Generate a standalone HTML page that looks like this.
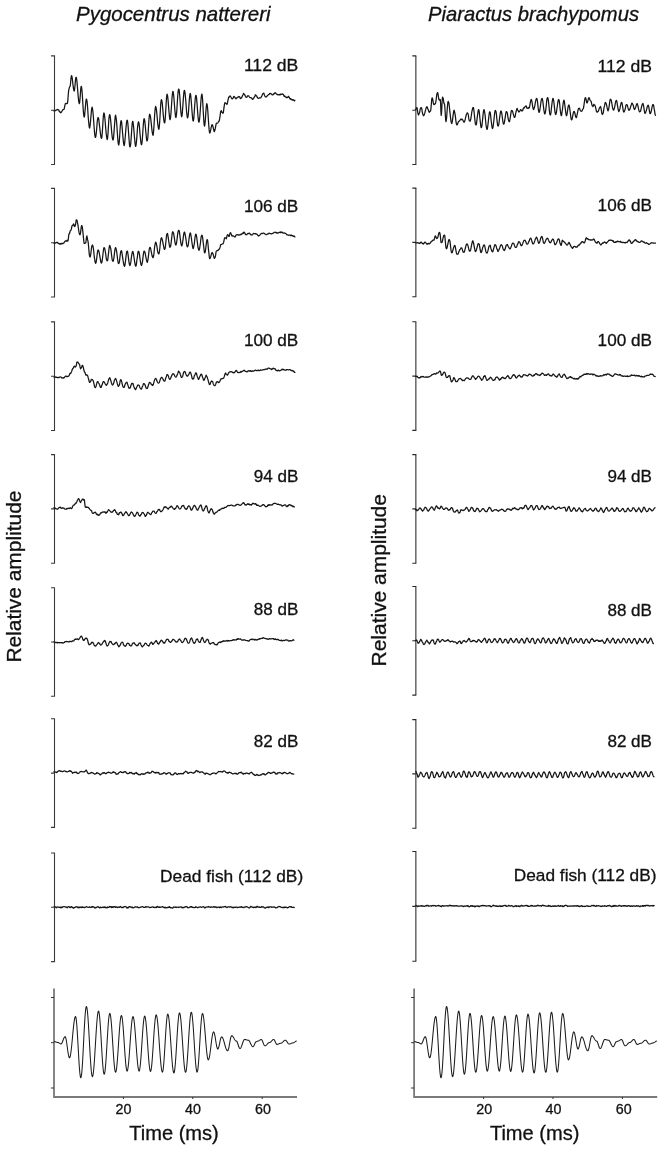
<!DOCTYPE html>
<html><head><meta charset="utf-8"><style>
html,body{margin:0;padding:0;background:#fff;}
body{width:662px;height:1150px;overflow:hidden;}
svg{display:block;}
text{font-family:"Liberation Sans",sans-serif;fill:#111;stroke:#111;stroke-width:0.3;}
svg{will-change:transform;}
.ax{fill:none;stroke:#3a3a3a;stroke-width:1.1;}
.ax2{fill:none;stroke:#7a7a7a;stroke-width:1.8;}
.tk{fill:none;stroke:#333;stroke-width:1.0;}
.axr{fill:none;stroke:#707070;stroke-width:1.6;}
.tkr{fill:none;stroke:#2a2a2a;stroke-width:1.1;}
.st{fill:none;stroke:#1c1c1c;stroke-width:1.05;stroke-linejoin:round;}
.tr{fill:none;stroke:#151515;stroke-width:1.25;stroke-linejoin:round;stroke-linecap:round;}
</style></head><body>
<svg width="662" height="1150" viewBox="0 0 662 1150">
<path d="M51.0,55.9H54.5V164.5H51.0M51.0,110.2H54.5" class="ax"/>
<path d="M51.0,188.4H54.5V297.0H51.0M51.0,242.7H54.5" class="ax"/>
<path d="M51.0,321.9H54.5V430.5H51.0M51.0,376.2H54.5" class="ax"/>
<path d="M51.0,454.6H54.5V563.2H51.0M51.0,508.9H54.5" class="ax"/>
<path d="M51.0,587.7H54.5V696.3H51.0M51.0,642.0H54.5" class="ax"/>
<path d="M51.0,718.8H54.5V827.4H51.0M51.0,773.1H54.5" class="ax"/>
<path d="M51.0,853.0H54.5V961.6H51.0M51.0,907.3H54.5" class="ax"/>
<path d="M415.8,55.9V164.5" class="axr"/>
<path d="M412.3,55.9H416.3M412.3,164.5H416.3M412.3,110.2H415.8" class="tkr"/>
<path d="M415.8,188.1V296.7" class="axr"/>
<path d="M412.3,188.1H416.3M412.3,296.7H416.3M412.3,242.4H415.8" class="tkr"/>
<path d="M415.8,321.8V430.4" class="axr"/>
<path d="M412.3,321.8H416.3M412.3,430.4H416.3M412.3,376.1H415.8" class="tkr"/>
<path d="M415.8,454.6V563.2" class="axr"/>
<path d="M412.3,454.6H416.3M412.3,563.2H416.3M412.3,508.9H415.8" class="tkr"/>
<path d="M415.8,586.5V695.1" class="axr"/>
<path d="M412.3,586.5H416.3M412.3,695.1H416.3M412.3,640.8H415.8" class="tkr"/>
<path d="M415.8,719.6V828.2" class="axr"/>
<path d="M412.3,719.6H416.3M412.3,828.2H416.3M412.3,773.9H415.8" class="tkr"/>
<path d="M415.8,851.5V961.3" class="axr"/>
<path d="M412.3,851.5H416.3M412.3,961.3H416.3M412.3,906.4H415.8" class="tkr"/>
<path d="M54.0,988.4V1097H297.0" class="ax2"/>
<path d="M51.0,997.5H54.0" class="tk"/>
<path d="M51.0,1042.7H54.0" class="tk"/>
<path d="M51.0,1088H54.0" class="tk"/>
<path d="M123.4,1097V1099" class="tk"/>
<path d="M192.8,1097V1099" class="tk"/>
<path d="M262.2,1097V1099" class="tk"/>
<path d="M414.1,988.4V1097H657.2" class="ax2"/>
<path d="M411.1,997.5H414.1" class="tk"/>
<path d="M411.1,1042.7H414.1" class="tk"/>
<path d="M411.1,1088H414.1" class="tk"/>
<path d="M483.6,1097V1099" class="tk"/>
<path d="M553.0,1097V1099" class="tk"/>
<path d="M622.4,1097V1099" class="tk"/>
<path d="M54.00,110.86 54.33,110.84 54.65,111.00 54.98,110.89 55.31,110.55 55.64,110.38 55.96,110.15 56.29,109.98 56.62,109.95 56.95,109.83 57.27,109.49 57.60,109.46 57.93,109.63 58.27,109.89 58.60,109.81 58.93,110.28 59.27,111.46 59.60,111.93 59.93,111.82 60.27,112.07 60.60,112.78 60.94,112.70 61.29,112.22 61.63,111.86 61.98,111.11 62.32,110.64 62.67,110.04 63.01,109.68 63.36,109.56 63.70,109.48 64.00,109.43 64.30,108.37 64.60,106.98 64.90,105.53 65.20,103.94 65.50,103.55 65.80,103.48 66.10,103.39 66.40,103.67 66.70,103.55 67.00,103.51 67.30,103.47 67.60,102.31 67.90,99.60 68.20,95.75 68.50,92.05 68.80,89.68 69.10,88.69 69.40,87.68 69.70,86.73 70.00,86.52 70.30,85.43 70.60,82.73 70.90,79.20 71.20,76.80 71.50,75.71 71.84,76.04 72.17,77.77 72.51,80.58 72.85,83.65 73.19,86.34 73.53,88.93 73.86,90.45 74.20,91.06 74.50,90.12 74.80,87.52 75.10,84.61 75.40,81.06 75.70,78.24 76.00,77.28 76.34,77.58 76.68,79.47 77.02,82.15 77.36,85.86 77.70,90.40 78.04,94.51 78.38,98.37 78.72,101.32 79.06,102.98 79.40,103.63 79.70,102.30 80.00,99.08 80.30,95.05 80.60,90.65 80.90,87.66 81.20,86.48 81.53,86.79 81.87,89.47 82.20,93.41 82.53,98.45 82.87,104.09 83.20,109.13 83.53,113.31 83.87,116.00 84.20,117.16 84.51,116.26 84.83,113.30 85.14,109.65 85.46,106.14 85.77,102.49 86.09,99.92 86.40,99.02 86.72,99.51 87.04,101.57 87.36,104.51 87.68,108.55 88.00,113.72 88.32,118.20 88.64,121.65 88.96,124.86 89.28,127.38 89.60,128.09 89.91,126.78 90.22,124.56 90.54,121.22 90.85,117.30 91.16,113.86 91.47,110.54 91.79,107.90 92.10,107.12 92.43,108.45 92.76,110.59 93.09,113.52 93.42,117.73 93.75,122.12 94.08,126.78 94.41,131.03 94.74,134.37 95.07,136.69 95.40,137.43 95.74,136.89 96.08,134.73 96.41,131.76 96.75,127.95 97.09,123.42 97.42,120.20 97.76,118.26 98.10,117.50 98.44,117.86 98.78,119.36 99.12,122.38 99.46,125.32 99.80,127.83 100.14,131.09 100.48,133.95 100.82,136.28 101.16,137.79 101.50,138.30 101.84,137.32 102.19,133.71 102.53,128.95 102.87,123.17 103.21,117.94 103.56,114.33 103.90,112.91 104.23,113.56 104.56,115.69 104.89,118.63 105.22,122.28 105.55,126.39 105.88,129.96 106.21,133.66 106.54,136.48 106.87,138.37 107.20,139.69 107.54,138.46 107.89,134.85 108.23,129.88 108.57,123.72 108.91,118.75 109.26,115.88 109.60,114.65 109.94,115.03 110.28,116.87 110.62,119.75 110.96,123.37 111.30,127.35 111.64,131.37 111.98,134.84 112.32,137.72 112.66,139.42 113.00,140.05 113.33,139.35 113.65,136.64 113.97,132.65 114.30,127.87 114.62,123.63 114.95,119.57 115.27,116.11 115.60,115.16 115.94,116.80 116.29,119.33 116.63,122.54 116.98,127.30 117.32,132.51 117.67,137.27 118.01,141.57 118.36,144.11 118.70,144.99 119.04,143.80 119.39,140.10 119.73,135.27 120.07,129.56 120.41,124.73 120.76,121.77 121.10,120.58 121.43,121.23 121.77,123.37 122.10,127.15 122.43,131.18 122.77,134.82 123.10,138.85 123.43,142.29 123.77,144.43 124.10,145.66 124.43,144.89 124.77,141.92 125.10,138.55 125.43,134.77 125.77,130.37 126.10,126.61 126.43,123.24 126.77,121.00 127.10,120.24 127.43,120.40 127.77,122.76 128.10,126.36 128.43,130.78 128.77,135.51 129.10,139.93 129.43,144.31 129.77,146.66 130.10,146.88 130.42,145.91 130.75,143.57 131.07,139.42 131.40,134.66 131.72,129.76 132.05,125.10 132.38,122.33 132.70,121.30 133.03,122.04 133.37,124.80 133.70,128.09 134.03,131.81 134.37,136.10 134.70,139.81 135.03,143.10 135.37,145.65 135.70,146.39 136.01,145.29 136.32,143.15 136.63,139.82 136.94,135.79 137.26,131.26 137.57,127.23 137.88,124.62 138.19,122.47 138.50,121.87 138.83,122.58 139.17,124.37 139.50,127.50 139.83,131.61 140.17,135.69 140.50,138.70 140.83,141.82 141.17,144.05 141.50,144.76 141.82,143.98 142.15,141.14 142.47,137.32 142.80,132.31 143.12,127.30 143.45,123.05 143.78,119.70 144.10,118.70 144.44,119.25 144.79,121.18 145.13,124.31 145.48,127.95 145.82,131.88 146.17,135.52 146.51,138.88 146.86,140.81 147.20,140.81 147.51,139.78 147.82,137.40 148.14,133.01 148.45,127.76 148.76,122.58 149.07,118.26 149.39,115.32 149.70,114.25 150.03,114.76 150.36,116.11 150.69,118.45 151.02,121.13 151.35,124.40 151.68,127.65 152.01,130.59 152.34,132.96 152.67,134.46 153.00,135.35 153.32,134.27 153.65,130.56 153.97,125.96 154.30,120.63 154.62,115.19 154.95,111.09 155.28,108.01 155.60,106.47 155.92,107.02 156.24,108.44 156.56,110.90 156.88,113.98 157.20,117.43 157.52,121.34 157.84,124.45 158.16,126.71 158.48,128.30 158.80,129.43 159.12,128.33 159.45,125.10 159.78,120.39 160.10,114.94 160.43,109.39 160.75,104.04 161.08,100.89 161.40,99.63 161.72,100.19 162.04,101.85 162.36,104.42 162.68,108.01 163.00,111.60 163.32,115.37 163.64,118.61 163.96,120.94 164.28,122.58 164.60,122.96 164.91,121.85 165.22,118.85 165.54,114.11 165.85,108.71 166.16,103.12 166.47,98.43 166.79,95.27 167.10,94.22 167.43,94.99 167.77,97.28 168.10,100.66 168.43,104.64 168.77,109.05 169.10,112.71 169.43,116.09 169.77,118.94 170.10,119.71 170.41,118.38 170.72,115.96 171.03,112.51 171.34,107.97 171.66,102.97 171.97,98.44 172.28,95.07 172.59,92.65 172.90,91.33 173.23,92.10 173.57,94.37 173.90,97.77 174.23,101.95 174.57,106.39 174.90,110.49 175.23,113.89 175.57,116.77 175.90,117.55 176.25,116.18 176.60,113.08 176.95,108.22 177.30,102.74 177.65,97.33 178.00,92.69 178.35,90.13 178.70,89.04 179.03,89.44 179.37,91.85 179.70,95.28 180.03,99.80 180.37,105.13 180.70,109.65 181.03,113.20 181.37,115.60 181.70,116.74 182.04,115.74 182.38,112.09 182.71,107.82 183.05,103.13 183.39,98.09 183.72,94.14 184.06,91.29 184.40,90.31 184.72,91.00 185.04,93.07 185.36,96.19 185.68,99.33 186.00,103.69 186.32,108.27 186.64,112.20 186.96,115.16 187.28,117.17 187.60,117.92 187.92,116.98 188.25,114.99 188.57,110.97 188.90,105.87 189.22,101.13 189.55,97.42 189.88,94.73 190.20,93.29 190.53,94.11 190.87,96.93 191.20,100.58 191.53,104.68 191.87,109.43 192.20,113.73 192.53,117.38 192.87,120.22 193.20,121.05 193.54,120.23 193.88,117.45 194.21,112.54 194.55,107.65 194.89,103.19 195.22,99.04 195.56,96.28 195.90,95.31 196.23,95.77 196.57,98.13 196.90,101.88 197.23,106.32 197.57,110.84 197.90,115.28 198.23,118.95 198.57,121.31 198.90,122.18 199.23,121.34 199.57,119.23 199.90,115.51 200.23,111.01 200.57,106.16 200.90,101.21 201.23,97.50 201.57,94.90 201.90,94.06 202.22,95.55 202.55,98.99 202.88,104.44 203.20,110.51 203.53,116.13 203.85,121.27 204.18,124.82 204.50,126.03 204.83,124.83 205.16,121.75 205.49,117.84 205.81,112.90 206.14,108.22 206.47,105.14 206.80,103.61 207.13,104.48 207.47,107.03 207.80,110.89 208.13,115.89 208.47,120.92 208.80,125.80 209.13,129.65 209.47,132.25 209.80,133.13 210.13,132.22 210.46,131.07 210.79,129.47 211.11,127.62 211.44,126.44 211.77,125.29 212.10,124.62 212.43,124.94 212.76,125.73 213.09,127.03 213.41,128.50 213.74,129.80 214.07,131.29 214.40,131.61 214.71,130.64 215.03,129.53 215.34,128.15 215.66,126.37 215.97,124.58 216.29,123.47 216.60,123.12 216.93,123.05 217.26,123.23 217.59,122.91 217.91,122.67 218.24,122.35 218.57,121.56 218.90,121.48 219.21,120.81 219.53,119.35 219.84,117.72 220.16,115.39 220.47,112.81 220.79,111.35 221.10,110.66 221.42,110.78 221.73,111.94 222.05,112.41 222.37,112.46 222.68,112.80 223.00,113.29 223.32,112.61 223.63,110.37 223.95,107.82 224.27,105.69 224.58,103.83 224.90,102.76 225.23,102.87 225.57,102.87 225.90,103.25 226.23,103.49 226.57,103.76 226.90,104.35 227.20,103.89 227.50,102.73 227.80,101.03 228.10,99.57 228.40,98.32 228.70,97.13 229.00,96.99 229.30,97.09 229.60,96.63 229.90,96.03 230.20,95.88 230.50,96.20 230.80,96.75 231.10,97.18 231.40,97.93 231.70,98.60 232.00,98.80 232.33,98.86 232.67,98.44 233.00,98.23 233.33,97.66 233.67,96.50 234.00,96.35 234.33,96.78 234.66,97.03 234.99,97.67 235.31,98.07 235.64,98.58 235.97,98.83 236.30,98.23 236.61,98.12 236.93,97.77 237.24,97.35 237.56,97.62 237.87,97.19 238.19,96.93 238.50,96.83 238.83,96.47 239.16,96.72 239.49,96.70 239.81,97.10 240.14,98.24 240.47,98.49 240.80,98.10 241.13,97.96 241.47,98.04 241.80,97.44 242.13,96.45 242.47,95.67 242.80,95.12 243.13,94.52 243.47,93.53 243.80,93.39 244.13,94.12 244.46,94.58 244.79,94.73 245.11,95.47 245.44,96.29 245.77,96.75 246.10,97.31 246.41,97.26 246.73,97.11 247.04,96.91 247.36,96.10 247.67,95.90 247.99,95.80 248.30,95.75 248.63,96.00 248.96,96.27 249.29,96.75 249.61,97.18 249.94,97.44 250.27,97.70 250.60,97.56 250.93,97.62 251.26,97.88 251.59,98.10 251.91,98.77 252.24,99.00 252.57,99.30 252.90,99.36 253.24,98.44 253.57,98.03 253.91,97.88 254.25,97.16 254.59,96.60 254.93,95.99 255.26,94.93 255.60,94.78 255.92,95.62 256.25,95.94 256.57,95.78 256.90,96.36 257.22,97.36 257.55,97.85 257.88,98.13 258.20,98.25 258.51,98.30 258.83,98.26 259.14,97.91 259.46,97.84 259.77,97.88 260.09,97.84 260.40,97.97 260.73,97.84 261.07,97.31 261.40,96.71 261.73,96.18 262.07,95.40 262.40,94.48 262.73,93.88 263.07,93.48 263.40,93.34 263.73,93.15 264.06,93.65 264.39,94.91 264.71,95.71 265.04,96.31 265.37,96.81 265.70,96.76 266.03,96.67 266.36,96.90 266.69,96.54 267.01,96.15 267.34,95.79 267.67,95.25 268.00,95.16 268.31,94.84 268.63,94.63 268.94,94.59 269.26,94.26 269.57,93.63 269.89,93.42 270.20,93.37 270.53,93.43 270.86,93.86 271.19,94.10 271.51,94.07 271.84,94.31 272.17,94.79 272.50,94.85 272.83,94.85 273.17,94.69 273.50,94.01 273.83,93.70 274.17,93.91 274.50,93.60 274.83,92.85 275.17,92.68 275.50,93.21 275.83,93.30 276.16,93.61 276.49,93.99 276.81,94.17 277.14,94.55 277.47,94.40 277.80,94.50 278.13,94.88 278.46,94.83 278.79,94.63 279.11,94.55 279.44,94.98 279.77,94.93 280.10,94.17 280.41,94.13 280.73,94.67 281.04,94.51 281.36,94.46 281.67,94.30 281.99,93.95 282.30,93.91 282.63,94.10 282.96,94.42 283.29,94.32 283.61,94.83 283.94,96.00 284.27,96.32 284.60,95.99 284.93,96.07 285.26,96.69 285.59,96.99 285.91,97.29 286.24,97.59 286.57,97.12 286.90,97.20 287.20,97.68 287.50,97.48 287.80,97.36 288.10,97.16 288.40,96.31 288.71,96.42 289.03,97.00 289.34,97.46 289.66,98.34 289.97,98.80 290.29,98.58 290.60,98.69 290.93,99.41 291.26,99.55 291.59,99.19 291.91,99.41 292.24,100.10 292.57,100.23 292.90,99.68 293.23,99.71 293.57,100.13 293.90,100.25 294.23,100.75 294.57,100.84 294.90,100.24" class="tr"/>
<path d="M54.00,243.19 54.33,243.17 54.65,243.35 54.98,243.28 55.31,243.03 55.64,242.94 55.96,242.58 56.29,242.49 56.62,242.53 56.95,242.47 57.27,242.41 57.60,242.40 57.94,243.15 58.29,243.32 58.63,243.33 58.97,243.60 59.31,244.03 59.66,244.20 60.00,243.60 60.34,243.59 60.69,244.10 61.03,244.03 61.38,243.35 61.72,243.26 62.07,243.55 62.41,243.49 62.76,243.54 63.10,243.52 63.44,243.15 63.79,242.80 64.13,242.76 64.47,242.21 64.81,241.42 65.16,241.07 65.50,240.97 65.84,240.96 66.19,241.19 66.53,241.13 66.87,240.36 67.21,240.30 67.56,241.06 67.90,241.04 68.20,239.72 68.50,237.32 68.80,234.70 69.10,233.70 69.40,233.80 69.70,233.07 70.00,231.59 70.30,230.59 70.60,230.51 70.90,230.24 71.20,229.44 71.50,228.31 71.80,226.73 72.10,225.60 72.40,225.54 72.70,225.39 73.00,224.75 73.30,224.39 73.60,224.01 73.90,224.38 74.20,225.77 74.50,226.65 74.80,226.39 75.10,225.92 75.40,225.31 75.70,223.54 76.00,221.25 76.30,219.95 76.60,219.83 76.94,220.20 77.28,221.62 77.62,223.33 77.96,225.13 78.30,227.53 78.64,229.99 78.98,232.15 79.32,233.55 79.66,234.65 80.00,234.75 80.30,234.10 80.60,232.36 80.90,229.93 81.20,227.61 81.50,225.83 81.80,225.60 82.14,226.30 82.47,228.10 82.81,231.06 83.15,234.61 83.49,238.09 83.83,241.39 84.16,243.36 84.50,243.37 84.83,243.24 85.17,243.08 85.50,242.95 85.78,242.69 86.06,240.99 86.34,238.32 86.62,236.62 86.90,235.95 87.25,237.75 87.60,239.87 87.93,240.72 88.26,242.88 88.59,246.33 88.91,250.39 89.24,253.83 89.57,256.10 89.90,256.95 90.21,256.81 90.53,255.47 90.84,253.48 91.15,251.13 91.46,248.43 91.78,246.44 92.09,245.48 92.40,245.01 92.73,245.34 93.06,246.66 93.39,248.43 93.72,251.03 94.05,254.64 94.38,257.53 94.71,259.52 95.04,261.58 95.37,262.83 95.70,263.28 96.04,262.55 96.39,260.62 96.73,258.32 97.07,255.23 97.41,252.65 97.76,250.72 98.10,249.95 98.44,250.28 98.78,250.88 99.12,252.35 99.46,254.08 99.80,256.14 100.14,257.97 100.48,259.82 100.82,261.86 101.16,262.80 101.50,263.06 101.84,262.46 102.17,260.57 102.51,258.02 102.85,255.28 103.19,252.28 103.53,249.55 103.86,247.85 104.20,247.69 104.53,248.11 104.87,249.14 105.20,250.99 105.53,252.82 105.87,255.23 106.20,258.09 106.53,259.94 106.87,260.37 107.20,260.79 107.53,260.64 107.85,258.97 108.17,256.36 108.50,253.42 108.83,250.32 109.15,247.82 109.47,245.99 109.80,245.40 110.12,246.44 110.44,247.56 110.76,248.62 111.08,250.82 111.40,253.75 111.72,256.19 112.04,258.74 112.36,260.49 112.68,260.89 113.00,261.28 113.33,260.79 113.65,259.26 113.97,257.35 114.30,254.65 114.62,251.86 114.95,249.57 115.27,248.16 115.60,247.63 115.94,248.28 116.29,249.71 116.63,251.33 116.98,254.02 117.32,257.01 117.67,259.70 118.01,261.89 118.36,263.32 118.70,263.59 119.04,262.94 119.39,261.85 119.73,259.18 120.07,256.12 120.41,253.46 120.76,251.55 121.10,250.89 121.44,250.63 121.78,251.72 122.12,254.16 122.46,256.30 122.80,258.57 123.14,260.93 123.48,262.82 123.82,264.51 124.16,265.84 124.50,266.22 124.83,265.40 125.15,263.80 125.47,261.22 125.80,258.40 126.12,255.48 126.45,253.10 126.77,251.62 127.10,251.06 127.41,251.30 127.72,252.51 128.03,254.63 128.34,256.90 128.66,259.68 128.97,261.95 129.28,263.75 129.59,264.96 129.90,265.51 130.25,264.99 130.60,263.38 130.95,261.16 131.30,258.14 131.65,255.52 132.00,253.55 132.35,252.07 132.70,251.44 133.03,251.88 133.37,253.46 133.70,255.38 134.03,257.51 134.37,260.03 134.70,262.16 135.03,264.09 135.37,265.69 135.70,266.13 136.01,265.98 136.32,264.72 136.63,262.12 136.94,259.75 137.26,257.83 137.57,255.47 137.88,252.76 138.19,251.50 138.50,251.28 138.83,251.70 139.17,252.87 139.50,254.69 139.83,257.38 140.17,259.76 140.50,262.18 140.83,264.00 141.17,265.01 141.50,265.42 141.81,264.61 142.12,263.37 142.43,261.97 142.74,259.63 143.06,256.65 143.37,254.32 143.68,252.34 143.99,251.10 144.30,251.27 144.63,251.60 144.97,252.29 145.30,253.74 145.63,255.58 145.97,257.47 146.30,259.22 146.63,260.67 146.97,261.90 147.30,262.23 147.62,261.21 147.95,259.62 148.28,257.57 148.60,254.76 148.93,251.82 149.25,249.43 149.58,247.98 149.90,247.42 150.24,247.37 150.59,248.31 150.93,250.00 151.28,251.76 151.62,253.50 151.97,255.26 152.31,256.46 152.66,257.40 153.00,257.64 153.32,257.05 153.65,255.76 153.97,253.26 154.30,249.82 154.62,246.87 154.95,245.12 155.28,243.46 155.60,242.18 155.92,242.47 156.24,243.20 156.56,244.51 156.88,246.22 157.20,248.05 157.52,250.61 157.84,252.25 158.16,253.03 158.48,253.87 158.80,253.98 159.12,253.34 159.45,251.43 159.78,248.72 160.10,245.54 160.43,242.34 160.75,240.22 161.08,238.41 161.40,237.72 161.73,238.01 162.06,238.91 162.39,240.23 162.72,241.92 163.05,243.76 163.38,245.00 163.71,246.66 164.04,248.45 164.37,249.29 164.70,249.38 165.04,248.58 165.39,246.75 165.73,243.53 166.07,239.95 166.41,236.72 166.76,234.55 167.10,233.75 167.44,233.43 167.79,234.64 168.13,237.21 168.48,239.47 168.82,241.93 169.17,244.20 169.51,246.07 169.86,247.28 170.20,246.95 170.54,246.35 170.88,244.74 171.21,242.19 171.55,239.10 171.89,236.10 172.22,233.48 172.56,231.78 172.90,231.91 173.23,232.31 173.57,233.44 173.90,235.21 174.23,237.22 174.57,239.53 174.90,241.87 175.23,243.64 175.57,244.62 175.90,245.02 176.25,244.15 176.60,242.54 176.95,239.97 177.30,237.14 177.65,234.31 178.00,231.91 178.35,230.89 178.70,230.33 179.03,230.32 179.37,231.71 179.70,233.94 180.03,236.55 180.37,239.42 180.70,242.03 181.03,243.80 181.37,245.19 181.70,245.88 182.04,245.35 182.38,243.87 182.71,241.61 183.05,239.34 183.39,236.68 183.72,234.12 184.06,232.61 184.40,232.04 184.72,232.40 185.04,234.04 185.36,235.69 185.68,237.35 186.00,239.65 186.32,242.27 186.64,244.35 186.96,245.78 187.28,246.84 187.60,246.68 187.92,246.14 188.25,244.96 188.57,242.67 188.90,239.99 189.22,237.29 189.55,235.31 189.88,233.78 190.20,232.86 190.53,233.32 190.87,234.97 191.20,237.01 191.53,239.36 191.87,242.01 192.20,244.22 192.53,246.26 192.87,248.16 193.20,248.63 193.54,247.41 193.88,245.93 194.21,244.36 194.55,241.74 194.89,238.53 195.22,236.31 195.56,234.67 195.90,234.15 196.23,234.81 196.57,236.17 196.90,238.76 197.23,241.32 197.57,244.24 197.90,246.81 198.23,248.02 198.57,249.38 198.90,250.29 199.23,249.84 199.57,248.53 199.90,246.52 200.23,244.33 200.57,241.71 200.90,238.69 201.23,236.68 201.57,235.65 201.90,235.20 202.23,235.60 202.57,237.13 202.90,239.92 203.23,242.81 203.57,245.37 203.90,248.26 204.23,251.23 204.57,252.77 204.90,252.71 205.21,252.05 205.53,250.14 205.84,247.47 206.16,244.95 206.47,242.28 206.79,240.26 207.10,239.60 207.44,239.96 207.78,242.00 208.11,245.53 208.45,249.12 208.79,252.22 209.12,255.27 209.46,257.94 209.80,258.66 210.13,258.29 210.46,257.49 210.79,256.40 211.11,255.11 211.44,253.81 211.77,253.00 212.10,252.47 212.42,252.68 212.75,253.33 213.07,254.24 213.40,255.31 213.72,256.38 214.05,257.73 214.38,258.34 214.70,257.83 215.02,257.35 215.33,256.77 215.65,255.00 215.97,252.45 216.28,251.15 216.60,250.84 216.93,250.76 217.26,250.60 217.59,250.30 217.91,250.54 218.24,250.24 218.57,249.68 218.90,249.60 219.21,249.24 219.53,248.55 219.84,248.00 220.16,246.89 220.47,245.30 220.79,244.61 221.10,244.56 221.42,244.49 221.73,244.35 222.05,244.08 222.37,244.00 222.68,243.80 223.00,243.73 223.32,243.35 223.63,242.23 223.95,240.83 224.27,239.16 224.58,238.14 224.90,237.74 225.22,237.83 225.55,237.89 225.88,238.10 226.20,238.81 226.52,238.22 226.85,236.65 227.18,235.23 227.50,234.72 227.80,234.91 228.10,234.89 228.40,235.51 228.70,236.25 229.00,236.44 229.30,236.22 229.60,234.95 229.90,233.50 230.20,232.97 230.53,232.72 230.86,233.15 231.19,234.07 231.51,234.76 231.84,235.76 232.17,236.19 232.50,235.76 232.81,235.80 233.13,235.85 233.44,235.99 233.76,236.25 234.07,236.39 234.39,236.85 234.70,236.88 235.03,236.92 235.36,236.67 235.69,235.69 236.01,235.29 236.34,234.93 236.67,234.68 237.00,234.67 237.32,234.68 237.65,234.79 237.97,234.84 238.30,235.07 238.62,235.13 238.95,234.85 239.28,234.88 239.60,235.05 239.94,234.97 240.29,234.64 240.63,234.34 240.97,234.71 241.31,234.41 241.66,233.98 242.00,233.91 242.35,233.26 242.70,233.04 243.05,233.52 243.40,233.22 243.75,232.22 244.10,232.14 244.43,232.53 244.77,232.90 245.10,233.94 245.43,234.44 245.77,234.63 246.10,234.77 246.43,234.68 246.77,234.58 247.10,234.17 247.43,233.99 247.77,233.58 248.10,233.40 248.43,233.65 248.77,233.56 249.10,233.05 249.43,233.14 249.76,233.47 250.09,233.84 250.41,234.40 250.74,234.76 251.07,234.69 251.40,234.78 251.71,235.02 252.03,234.77 252.34,234.76 252.66,234.36 252.97,233.91 253.29,233.66 253.60,233.40 253.92,233.42 254.25,233.61 254.57,233.70 254.90,233.67 255.22,233.78 255.55,233.59 255.88,233.65 256.20,234.09 256.54,234.16 256.88,234.16 257.21,234.44 257.55,235.07 257.89,235.39 258.22,235.82 258.56,236.00 258.90,235.64 259.23,235.54 259.56,235.39 259.89,234.99 260.21,234.70 260.54,234.30 260.87,233.73 261.20,233.63 261.51,233.42 261.83,233.31 262.14,233.59 262.46,233.41 262.77,233.39 263.09,233.28 263.40,233.15 263.74,233.19 264.09,233.27 264.43,233.48 264.78,233.88 265.12,234.16 265.47,234.26 265.81,234.47 266.16,234.58 266.50,234.63 266.83,234.43 267.17,234.33 267.50,234.06 267.83,233.88 268.17,233.97 268.50,233.79 268.83,233.17 269.17,233.07 269.50,233.33 269.84,233.34 270.18,233.70 270.51,233.75 270.85,233.74 271.19,233.80 271.52,233.77 271.86,233.81 272.20,233.48 272.52,233.42 272.85,233.41 273.18,233.17 273.50,232.91 273.82,232.62 274.15,232.53 274.48,232.37 274.80,232.12 275.13,232.14 275.47,232.44 275.80,232.53 276.13,232.88 276.47,233.00 276.80,232.44 277.13,232.53 277.47,233.02 277.80,233.04 278.13,233.12 278.46,233.02 278.79,232.53 279.11,232.37 279.44,232.32 279.77,232.23 280.10,232.63 280.44,232.64 280.78,231.84 281.11,231.91 281.45,232.44 281.79,232.52 282.12,232.24 282.46,232.28 282.80,232.85 283.11,232.88 283.43,233.11 283.74,233.24 284.05,233.02 284.36,233.17 284.68,232.92 284.99,233.01 285.30,233.47 285.63,233.54 285.96,233.72 286.29,234.02 286.61,234.51 286.94,234.81 287.27,234.84 287.60,234.91 287.93,235.03 288.27,235.06 288.60,235.27 288.93,235.32 289.27,235.10 289.60,235.14 289.93,235.08 290.27,235.11 290.60,235.60 290.93,235.62 291.26,235.01 291.59,235.09 291.92,235.63 292.25,235.75 292.58,235.63 292.92,235.78 293.25,236.25 293.58,236.38 293.91,235.91 294.24,235.99 294.57,236.82 294.90,236.84" class="tr"/>
<path d="M54.00,377.07 54.33,377.08 54.65,376.83 54.98,376.87 55.31,377.11 55.64,377.17 55.96,377.34 56.29,377.39 56.62,377.09 56.95,377.13 57.27,377.52 57.60,377.53 57.93,377.52 58.27,377.48 58.60,377.68 58.93,377.61 59.27,377.23 59.60,377.17 59.93,377.04 60.27,377.00 60.60,376.95 60.91,376.98 61.23,377.53 61.54,377.66 61.85,378.00 62.16,378.15 62.48,377.91 62.79,377.99 63.10,377.75 63.43,377.70 63.77,378.07 64.10,377.85 64.43,377.20 64.77,376.91 65.10,376.47 65.43,376.24 65.77,376.02 66.10,375.97 66.41,376.55 66.73,376.55 67.04,376.58 67.36,376.58 67.67,376.42 67.99,376.42 68.30,376.27 68.64,376.11 68.99,375.73 69.33,375.07 69.67,374.04 70.01,373.37 70.36,373.58 70.70,373.42 71.04,372.62 71.39,371.91 71.73,371.14 72.07,370.01 72.41,369.15 72.76,368.44 73.10,368.18 73.40,367.95 73.70,367.07 74.00,366.51 74.30,366.11 74.60,366.25 74.90,366.79 75.20,367.11 75.50,366.86 75.80,366.50 76.10,366.15 76.40,364.80 76.70,363.02 77.00,362.03 77.30,362.12 77.60,362.24 77.90,362.06 78.20,362.56 78.50,363.22 78.80,363.72 79.10,363.95 79.40,364.08 79.70,364.94 80.00,366.63 80.30,368.11 80.60,368.82 80.90,368.41 81.20,367.75 81.50,367.50 81.80,366.60 82.10,365.54 82.40,365.30 82.74,365.61 83.09,366.57 83.43,368.00 83.77,369.54 84.11,371.08 84.46,372.04 84.80,372.34 85.10,372.73 85.40,373.87 85.70,374.83 86.00,375.24 86.30,375.20 86.60,374.83 86.90,374.72 87.20,375.19 87.54,375.54 87.89,376.47 88.23,377.92 88.57,378.80 88.91,380.25 89.26,381.94 89.60,382.30 89.91,382.26 90.22,381.96 90.54,381.39 90.85,380.86 91.16,379.74 91.47,379.29 91.79,379.60 92.10,379.50 92.43,379.52 92.76,380.11 93.09,380.47 93.42,381.63 93.75,382.91 94.08,384.19 94.41,386.20 94.74,387.11 95.07,387.44 95.40,387.64 95.73,386.99 96.06,386.18 96.39,384.89 96.71,383.60 97.04,382.47 97.37,381.67 97.70,381.46 98.02,381.59 98.34,382.47 98.66,383.08 98.98,383.46 99.30,384.31 99.62,384.99 99.94,385.75 100.26,387.04 100.58,387.43 100.90,387.46 101.23,387.24 101.55,386.05 101.88,385.11 102.20,384.65 102.53,383.54 102.85,382.35 103.17,381.72 103.50,381.65 103.84,381.76 104.19,381.97 104.53,382.45 104.88,383.24 105.22,383.87 105.57,384.36 105.91,384.84 106.26,385.20 106.60,385.30 106.93,384.51 107.27,383.89 107.60,383.37 107.93,382.20 108.27,380.80 108.60,379.63 108.93,378.86 109.27,378.23 109.60,377.74 109.93,377.97 110.27,379.02 110.60,380.02 110.93,380.95 111.27,382.25 111.60,383.21 111.93,384.21 112.27,384.83 112.60,385.06 112.91,384.78 113.22,384.22 113.53,383.67 113.84,382.61 114.16,381.09 114.47,380.03 114.78,379.53 115.09,378.97 115.40,378.48 115.73,378.66 116.06,379.51 116.39,380.34 116.72,381.39 117.05,382.55 117.38,383.74 117.71,384.79 118.04,385.91 118.37,386.44 118.70,385.86 119.05,385.41 119.40,384.93 119.75,383.26 120.10,381.25 120.45,380.02 120.80,379.66 121.14,379.96 121.47,380.91 121.81,382.19 122.15,383.86 122.49,385.37 122.83,386.23 123.16,387.09 123.50,387.43 123.83,387.27 124.17,387.32 124.50,386.64 124.83,385.01 125.17,384.13 125.50,383.80 125.83,383.12 126.17,382.68 126.50,382.52 126.83,382.15 127.17,382.65 127.50,383.95 127.83,384.90 128.17,385.97 128.50,386.91 128.83,387.91 129.17,388.41 129.50,388.05 129.84,387.86 130.18,387.90 130.51,387.09 130.85,385.71 131.19,384.75 131.52,383.92 131.86,383.38 132.20,383.56 132.52,383.71 132.84,383.36 133.16,384.04 133.48,385.50 133.80,386.45 134.12,387.31 134.44,388.16 134.76,388.57 135.08,389.01 135.40,389.63 135.75,389.45 136.10,388.52 136.45,387.79 136.80,387.03 137.15,386.17 137.50,385.48 137.85,384.99 138.20,385.04 138.52,385.17 138.84,385.02 139.17,385.56 139.49,386.44 139.81,387.15 140.13,387.81 140.46,388.35 140.78,388.82 141.10,388.95 141.41,389.03 141.72,388.57 142.03,387.39 142.34,386.52 142.66,386.08 142.97,385.22 143.28,384.13 143.59,383.67 143.90,383.60 144.23,383.75 144.57,383.96 144.90,384.59 145.23,385.59 145.57,386.42 145.90,387.63 146.23,388.27 146.57,388.39 146.90,388.54 147.23,388.48 147.57,387.96 147.90,386.75 148.23,385.77 148.57,384.71 148.90,383.74 149.23,382.92 149.57,382.40 149.90,382.48 150.21,382.59 150.53,382.95 150.84,383.42 151.15,384.11 151.46,384.66 151.78,384.46 152.09,384.78 152.40,385.50 152.72,385.34 153.04,385.03 153.36,384.31 153.68,383.10 154.00,382.09 154.32,380.64 154.64,379.73 154.96,379.24 155.28,378.78 155.60,378.36 155.91,378.48 156.22,379.00 156.53,379.55 156.84,380.87 157.16,381.59 157.47,381.97 157.78,382.52 158.09,382.92 158.40,383.04 158.73,383.02 159.06,382.62 159.39,382.09 159.72,381.30 160.05,380.15 160.38,379.27 160.71,378.48 161.04,377.85 161.37,377.45 161.70,377.31 162.04,377.53 162.38,377.96 162.71,378.52 163.05,379.29 163.39,380.13 163.72,380.78 164.06,380.79 164.40,380.94 164.75,381.11 165.10,380.41 165.45,379.19 165.80,377.96 166.15,377.01 166.50,375.97 166.85,374.68 167.20,374.44 167.54,374.67 167.88,375.13 168.21,375.68 168.55,376.48 168.89,377.95 169.22,378.63 169.56,379.21 169.90,379.37 170.23,378.98 170.57,378.51 170.90,377.53 171.23,376.65 171.57,376.12 171.90,375.24 172.23,374.49 172.57,374.02 172.90,373.66 173.23,373.76 173.57,373.80 173.90,374.28 174.23,374.91 174.57,375.53 174.90,376.23 175.23,376.71 175.57,376.93 175.90,377.04 176.25,376.92 176.60,376.30 176.95,375.57 177.30,374.48 177.65,373.65 178.00,372.73 178.35,371.32 178.70,371.10 179.03,371.73 179.37,372.23 179.70,372.51 180.03,373.44 180.37,374.50 180.70,375.43 181.03,376.81 181.37,377.31 181.70,377.27 182.02,377.10 182.34,376.91 182.67,376.15 182.99,374.80 183.31,373.81 183.63,372.49 183.96,371.73 184.28,371.57 184.60,371.40 184.91,371.73 185.22,372.14 185.53,373.09 185.84,373.88 186.16,374.75 186.47,375.53 186.78,375.72 187.09,376.13 187.40,376.22 187.74,376.07 188.07,375.37 188.41,374.74 188.75,374.48 189.09,373.73 189.43,372.71 189.76,372.29 190.10,372.09 190.44,372.35 190.78,372.96 191.11,374.06 191.45,375.35 191.79,376.66 192.12,378.37 192.46,379.11 192.80,378.86 193.14,378.68 193.49,378.92 193.83,378.12 194.18,376.35 194.52,375.31 194.87,375.03 195.21,374.23 195.56,373.05 195.90,372.87 196.24,372.99 196.57,373.64 196.91,375.25 197.25,376.40 197.59,377.12 197.93,378.09 198.26,379.18 198.60,379.41 198.94,378.72 199.28,378.14 199.61,377.16 199.95,376.15 200.29,375.78 200.62,374.92 200.96,374.29 201.30,374.09 201.61,374.46 201.93,375.14 202.24,376.05 202.55,377.26 202.86,377.88 203.18,378.90 203.49,380.08 203.80,380.32 204.11,380.21 204.43,379.69 204.74,378.68 205.05,377.76 205.36,377.27 205.68,376.49 205.99,375.36 206.30,375.18 206.63,376.04 206.96,376.68 207.29,377.45 207.62,378.70 207.95,379.46 208.28,380.85 208.61,382.11 208.94,383.10 209.27,384.32 209.60,384.54 209.91,384.52 210.23,384.05 210.54,382.70 210.86,381.94 211.17,381.47 211.49,381.00 211.80,381.21 212.12,381.36 212.44,381.28 212.77,381.95 213.09,383.39 213.41,384.26 213.73,384.74 214.06,385.40 214.38,385.45 214.70,385.60 215.01,385.67 215.33,385.07 215.64,384.40 215.96,383.44 216.27,382.45 216.59,381.86 216.90,381.86 217.23,381.91 217.57,381.58 217.90,381.78 218.23,382.57 218.57,382.71 218.90,382.38 219.21,382.20 219.53,381.97 219.84,381.27 220.16,380.48 220.47,379.78 220.79,379.10 221.10,378.93 221.43,378.84 221.76,378.69 222.09,378.83 222.41,378.59 222.74,378.51 223.07,378.35 223.40,378.16 223.73,377.93 224.06,377.11 224.39,376.21 224.71,374.96 225.04,374.06 225.37,373.23 225.70,373.00 226.00,373.93 226.30,374.20 226.60,374.33 226.90,374.71 227.20,375.09 227.50,375.19 227.83,374.52 228.17,373.90 228.50,373.30 228.83,372.45 229.17,372.16 229.50,371.93 229.81,371.82 230.13,371.87 230.44,371.75 230.76,371.84 231.07,371.65 231.39,371.71 231.70,371.84 232.03,371.88 232.36,372.40 232.69,372.56 233.01,372.28 233.34,372.44 233.67,372.83 234.00,372.87 234.33,372.64 234.67,372.22 235.00,371.91 235.33,371.33 235.67,370.83 236.00,370.68 236.30,370.36 236.60,370.78 236.90,371.10 237.20,371.68 237.50,372.33 237.80,372.49 238.13,372.61 238.47,372.54 238.80,372.58 239.13,372.45 239.47,372.51 239.80,372.38 240.13,372.34 240.47,372.27 240.80,371.49 241.13,371.44 241.47,372.02 241.80,371.82 242.13,371.56 242.47,371.30 242.80,371.11 243.13,370.91 243.47,370.51 243.80,370.46 244.13,370.23 244.47,370.33 244.80,370.99 245.13,371.17 245.47,371.32 245.80,371.50 246.13,371.54 246.47,371.63 246.80,371.87 247.13,371.85 247.47,371.28 247.80,371.19 248.13,370.84 248.47,370.72 248.80,371.02 249.13,370.93 249.47,371.09 249.80,371.07 250.14,370.54 250.49,370.57 250.83,371.10 251.18,371.15 251.52,371.36 251.87,371.41 252.21,370.83 252.56,370.85 252.90,371.20 253.23,371.18 253.57,371.18 253.90,371.08 254.23,370.78 254.57,370.66 254.90,370.31 255.23,370.22 255.57,370.20 255.90,370.18 256.23,370.63 256.57,370.63 256.90,370.66 257.23,370.66 257.57,370.36 257.90,370.36 258.23,370.03 258.57,370.03 258.90,370.68 259.25,370.66 259.59,370.60 259.94,370.54 260.28,369.99 260.63,369.90 260.98,370.12 261.32,370.02 261.67,370.22 262.02,370.13 262.36,370.05 262.71,369.99 263.05,369.63 263.40,369.62 263.74,369.57 264.09,369.54 264.43,369.61 264.78,369.56 265.12,369.14 265.47,369.10 265.81,369.06 266.16,369.03 266.50,369.01 266.81,368.95 267.13,369.26 267.44,369.01 267.76,368.44 268.07,368.20 268.39,368.22 268.70,368.16 269.03,368.07 269.36,368.24 269.69,368.58 270.01,368.85 270.34,368.76 270.67,368.92 271.00,368.89 271.33,368.86 271.67,369.64 272.00,369.52 272.33,368.81 272.67,368.66 273.00,368.27 273.33,368.15 273.67,368.55 274.00,368.52 274.33,368.73 274.67,368.94 275.00,368.69 275.33,369.08 275.67,369.90 276.00,370.29 276.33,370.38 276.67,370.59 277.00,370.82 277.34,370.81 277.69,370.32 278.03,370.27 278.38,370.21 278.72,370.15 279.07,370.94 279.41,370.89 279.76,370.74 280.10,370.73 280.44,370.35 280.78,370.23 281.11,370.12 281.45,369.91 281.79,369.42 282.12,369.25 282.46,369.59 282.80,369.55 283.13,369.25 283.46,369.29 283.79,369.83 284.12,369.91 284.45,369.84 284.78,369.93 285.11,370.06 285.44,370.13 285.77,370.30 286.10,370.32 286.45,369.68 286.79,369.69 287.14,369.52 287.48,369.54 287.83,369.72 288.17,369.75 288.52,369.75 288.86,369.78 289.21,369.71 289.55,369.72 289.90,369.70 290.21,369.71 290.52,370.20 290.84,370.24 291.15,370.58 291.46,370.64 291.77,370.32 292.09,370.35 292.40,370.80 292.71,370.88 293.02,371.06 293.34,371.39 293.65,371.01 293.96,371.39 294.27,372.20 294.59,372.41 294.90,372.31" class="tr"/>
<path d="M54.00,507.66 54.33,507.69 54.67,508.52 55.00,508.64 55.33,508.15 55.67,508.31 56.00,508.73 56.33,508.85 56.67,509.00 57.00,509.03 57.33,509.27 57.67,509.14 58.00,508.68 58.33,508.43 58.67,507.92 59.00,507.68 59.33,507.53 59.67,507.40 60.00,507.09 60.34,507.12 60.69,507.94 61.03,508.07 61.38,508.26 61.72,508.43 62.07,507.90 62.41,508.03 62.76,507.95 63.10,507.98 63.43,508.20 63.77,508.24 64.10,508.39 64.43,508.47 64.77,509.06 65.10,509.14 65.43,509.21 65.77,509.25 66.10,509.20 66.43,509.18 66.77,508.39 67.10,508.27 67.43,508.79 67.77,508.63 68.10,508.41 68.43,508.29 68.77,508.16 69.10,508.13 69.43,508.46 69.76,508.51 70.09,507.76 70.41,507.84 70.74,508.01 71.07,508.06 71.40,508.63 71.72,508.43 72.03,508.05 72.35,507.30 72.67,506.31 72.98,505.76 73.30,505.22 73.62,505.14 73.95,505.19 74.28,504.87 74.60,504.63 74.92,504.25 75.25,503.34 75.58,503.12 75.90,503.24 76.23,503.07 76.55,502.52 76.88,501.79 77.20,500.81 77.53,499.95 77.85,499.54 78.17,499.05 78.50,498.60 78.82,498.84 79.13,499.54 79.45,500.41 79.77,501.20 80.08,501.84 80.40,502.56 80.73,502.36 81.07,501.21 81.40,500.46 81.73,500.35 82.07,499.80 82.40,499.13 82.70,499.15 83.00,499.08 83.30,499.18 83.60,500.08 83.90,500.16 84.20,499.55 84.50,500.59 84.80,503.74 85.10,506.25 85.40,507.23 85.73,507.25 86.06,507.33 86.39,507.41 86.72,506.85 87.05,506.98 87.38,507.38 87.71,507.49 88.04,507.26 88.37,507.32 88.70,508.09 89.03,508.22 89.36,508.52 89.69,509.06 90.01,509.47 90.34,510.01 90.67,510.22 91.00,510.36 91.33,510.46 91.67,511.01 92.00,512.19 92.33,512.94 92.67,513.18 93.00,513.38 93.35,513.46 93.70,513.29 94.05,512.63 94.40,512.40 94.75,512.31 95.10,512.25 95.43,512.24 95.77,512.60 96.10,513.69 96.43,514.19 96.77,514.41 97.10,514.55 97.42,514.23 97.73,514.36 98.05,515.18 98.37,515.36 98.68,514.94 99.00,514.99 99.33,515.02 99.65,514.73 99.97,514.06 100.30,513.54 100.62,513.13 100.95,512.69 101.27,512.91 101.60,512.81 101.93,512.33 102.27,512.28 102.60,512.05 102.93,511.95 103.27,512.14 103.60,512.04 103.93,511.81 104.27,511.75 104.60,512.26 104.90,512.36 105.20,511.90 105.50,512.21 105.80,513.24 106.10,513.33 106.42,512.39 106.75,512.06 107.08,512.33 107.40,511.76 107.72,510.98 108.05,510.49 108.38,509.75 108.70,509.64 109.04,509.98 109.38,510.26 109.71,510.51 110.05,511.01 110.39,511.48 110.73,511.90 111.06,512.13 111.40,512.23 111.74,512.28 112.08,512.00 112.41,512.14 112.75,511.64 113.09,511.15 113.42,510.73 113.76,510.38 114.10,510.28 114.44,509.62 114.78,509.85 115.12,510.38 115.47,510.86 115.81,511.96 116.15,512.56 116.49,512.40 116.83,512.95 117.17,514.03 117.52,514.40 117.86,514.24 118.20,514.31 118.53,514.82 118.86,514.50 119.19,513.17 119.51,512.66 119.84,512.91 120.17,512.59 120.50,512.06 120.84,512.18 121.17,512.36 121.51,512.89 121.85,513.40 122.19,514.03 122.53,515.32 122.86,515.67 123.20,515.52 123.53,515.39 123.85,514.69 124.17,514.11 124.50,513.64 124.83,512.95 125.15,512.80 125.47,512.41 125.80,511.65 126.13,511.75 126.47,512.39 126.80,512.86 127.13,513.06 127.47,513.69 127.80,514.31 128.13,514.79 128.47,515.63 128.80,515.74 129.13,515.59 129.47,515.30 129.80,514.40 130.13,513.86 130.47,513.18 130.80,512.65 131.13,512.21 131.47,511.93 131.80,512.30 132.12,512.46 132.45,512.81 132.78,513.49 133.10,514.10 133.43,514.90 133.75,515.52 134.08,515.98 134.40,516.50 134.74,516.35 135.07,516.02 135.41,515.38 135.75,514.73 136.09,513.98 136.43,513.15 136.76,512.72 137.10,512.23 137.44,512.37 137.78,512.62 138.11,513.19 138.45,514.46 138.79,515.13 139.12,515.40 139.46,515.78 139.80,516.20 140.13,516.08 140.47,515.16 140.80,514.65 141.13,514.71 141.47,514.05 141.80,513.00 142.13,512.50 142.47,512.62 142.80,512.51 143.12,512.67 143.45,513.08 143.78,513.37 144.10,514.09 144.43,514.39 144.75,515.01 145.08,516.22 145.40,516.37 145.72,515.85 146.05,515.47 146.38,515.25 146.70,514.58 147.03,513.37 147.35,512.80 147.68,512.35 148.00,512.22 148.31,512.88 148.62,513.12 148.94,513.06 149.25,513.48 149.56,513.72 149.88,514.07 150.19,514.50 150.50,514.58 150.81,514.67 151.12,514.35 151.43,513.33 151.74,512.73 152.06,512.55 152.37,511.94 152.68,511.38 152.99,511.06 153.30,511.01 153.64,511.11 153.99,511.04 154.33,511.44 154.67,512.42 155.01,512.82 155.36,513.19 155.70,513.28 156.04,513.22 156.39,512.92 156.73,511.96 157.08,511.39 157.42,511.14 157.77,510.57 158.11,509.80 158.46,509.50 158.80,509.73 159.11,509.80 159.43,509.38 159.74,509.69 160.05,510.79 160.36,511.15 160.68,511.53 160.99,511.74 161.30,511.40 161.65,511.30 161.99,511.05 162.34,510.64 162.68,510.11 163.03,509.50 163.37,508.86 163.72,508.25 164.06,507.25 164.41,506.83 164.75,507.41 165.10,507.32 165.43,506.71 165.77,506.89 166.10,507.11 166.43,507.44 166.77,507.72 167.10,508.04 167.43,508.44 167.77,508.62 168.10,509.19 168.43,509.11 168.77,508.20 169.10,507.88 169.43,507.55 169.77,507.13 170.10,507.28 170.43,506.96 170.77,506.30 171.10,506.23 171.44,506.13 171.78,506.32 172.12,507.15 172.46,507.52 172.80,507.92 173.14,508.34 173.48,508.66 173.82,508.96 174.16,509.32 174.50,509.38 174.84,508.72 175.18,508.39 175.51,508.58 175.85,507.98 176.19,507.25 176.52,506.75 176.86,505.81 177.20,505.69 177.54,505.88 177.88,506.21 178.21,507.05 178.55,507.64 178.89,508.24 179.22,508.75 179.56,508.88 179.90,509.00 180.23,508.75 180.57,508.42 180.90,508.17 181.23,507.55 181.57,506.64 181.90,506.02 182.23,505.93 182.57,505.60 182.90,505.72 183.24,505.84 183.59,505.53 183.93,506.03 184.28,507.04 184.62,507.70 184.97,508.47 185.31,508.98 185.66,508.78 186.00,508.90 186.33,509.39 186.67,509.10 187.00,508.74 187.33,508.19 187.67,507.10 188.00,506.55 188.33,506.13 188.67,505.83 189.00,506.11 189.31,506.26 189.62,506.42 189.94,507.09 190.25,507.76 190.56,508.54 190.88,509.70 191.19,510.14 191.50,510.15 191.84,510.01 192.19,509.23 192.53,508.63 192.88,507.81 193.22,507.03 193.57,506.38 193.91,505.78 194.26,505.48 194.60,505.34 194.93,505.97 195.27,506.36 195.60,506.80 195.93,507.53 196.27,508.41 196.60,509.15 196.93,509.66 197.27,510.05 197.60,510.21 197.93,510.06 198.27,508.91 198.60,508.25 198.93,507.85 199.27,506.98 199.60,506.56 199.93,505.90 200.27,505.44 200.60,505.29 200.92,504.91 201.25,505.57 201.57,506.71 201.90,507.88 202.22,509.24 202.55,510.23 202.88,510.65 203.20,510.88 203.53,510.88 203.87,510.45 204.20,509.39 204.53,508.59 204.87,508.06 205.20,507.26 205.53,506.68 205.87,506.25 206.20,505.67 206.54,505.91 206.88,506.71 207.21,507.75 207.55,509.72 207.89,510.95 208.22,511.81 208.56,512.51 208.90,512.89 209.23,512.69 209.56,511.85 209.89,511.03 210.21,510.27 210.54,509.45 210.87,508.95 211.20,508.75 211.53,508.92 211.87,509.40 212.20,509.38 212.53,510.29 212.87,511.81 213.20,512.73 213.53,513.13 213.87,513.62 214.20,514.16 214.53,514.06 214.86,513.40 215.19,512.98 215.51,512.75 215.84,512.33 216.17,512.39 216.50,512.28 216.83,511.95 217.17,511.78 217.50,511.18 217.83,510.85 218.17,510.74 218.50,510.42 218.83,510.07 219.17,509.90 219.50,510.31 219.83,510.26 220.17,509.53 220.50,509.33 220.83,509.11 221.17,508.84 221.50,508.91 221.83,508.71 222.17,508.10 222.50,508.06 222.83,508.45 223.17,508.37 223.50,508.56 223.83,508.40 224.17,507.83 224.50,507.66 224.83,507.31 225.17,507.22 225.50,507.37 225.83,507.32 226.17,507.24 226.50,507.03 226.83,506.42 227.17,506.14 227.50,505.86 227.83,505.65 228.17,505.52 228.50,505.47 228.84,505.60 229.19,505.57 229.53,505.62 229.88,505.55 230.22,505.37 230.57,505.31 230.91,505.22 231.26,505.18 231.60,505.03 231.93,505.04 232.27,505.49 232.60,505.54 232.93,505.87 233.27,505.94 233.60,505.80 233.93,505.85 234.27,505.85 234.60,505.86 234.93,505.89 235.27,505.76 235.60,505.16 235.93,504.91 236.27,505.11 236.60,504.86 236.93,504.44 237.27,504.31 237.60,504.34 237.94,504.39 238.28,504.58 238.61,504.77 238.95,504.87 239.29,505.10 239.62,505.15 239.96,505.28 240.30,505.27 240.62,505.19 240.94,504.96 241.27,504.62 241.59,504.48 241.91,504.04 242.23,503.52 242.56,503.19 242.88,503.15 243.20,503.08 243.54,502.64 243.88,502.85 244.21,503.48 244.55,503.87 244.89,504.71 245.22,505.03 245.56,504.69 245.90,504.76 246.23,505.00 246.56,504.84 246.89,504.56 247.21,504.32 247.54,503.91 247.87,503.76 248.20,504.34 248.51,504.38 248.82,503.89 249.14,504.09 249.45,504.74 249.76,504.97 250.07,504.62 250.39,504.75 250.70,504.71 251.04,504.64 251.39,505.15 251.73,504.85 252.07,504.13 252.41,503.83 252.76,503.28 253.10,503.21 253.43,503.52 253.76,503.57 254.09,503.70 254.41,503.79 254.74,504.14 255.07,504.19 255.40,503.65 255.70,503.72 256.00,504.03 256.30,504.30 256.60,505.24 256.90,505.44 257.20,505.31 257.54,505.36 257.88,504.96 258.21,505.16 258.55,505.55 258.89,505.78 259.22,505.99 259.56,506.12 259.90,506.46 260.24,506.42 260.57,506.26 260.91,506.09 261.25,506.09 261.58,505.84 261.92,505.56 262.25,505.32 262.59,504.83 262.93,504.66 263.26,504.75 263.60,504.71 263.91,504.82 264.23,505.11 264.54,505.55 264.86,506.02 265.17,506.18 265.49,506.47 265.80,506.86 266.12,506.82 266.44,506.63 266.76,506.46 267.08,506.42 267.40,506.17 267.72,505.22 268.04,504.99 268.36,505.49 268.68,505.37 269.00,504.55 269.34,504.55 269.68,505.21 270.01,505.18 270.35,504.98 270.69,504.94 271.02,504.83 271.36,504.81 271.70,505.22 272.01,505.17 272.32,504.67 272.63,504.44 272.94,504.02 273.26,503.73 273.57,503.78 273.88,503.55 274.19,503.49 274.50,503.44 274.84,503.24 275.18,503.36 275.51,503.33 275.85,503.54 276.19,503.82 276.52,504.00 276.86,504.12 277.20,504.16 277.54,504.42 277.88,504.49 278.21,504.20 278.55,504.31 278.89,504.52 279.22,504.61 279.56,504.83 279.90,504.85 280.24,504.73 280.57,504.83 280.91,504.92 281.25,505.09 281.59,505.68 281.93,505.83 282.26,505.98 282.60,506.01 282.94,505.68 283.28,505.61 283.61,505.46 283.95,505.35 284.29,505.00 284.62,504.90 284.96,504.95 285.30,504.92 285.65,505.00 286.00,505.53 286.35,506.45 286.70,506.67 287.02,506.62 287.34,506.47 287.66,505.80 287.98,505.50 288.30,505.93 288.62,505.60 288.94,504.77 289.26,504.54 289.58,504.86 289.90,504.81 290.21,504.87 290.53,505.07 290.84,505.46 291.16,505.77 291.47,505.37 291.79,505.56 292.10,505.83 292.43,505.90 292.76,506.51 293.09,506.77 293.41,506.25 293.74,506.51 294.07,506.73 294.40,506.79" class="tr"/>
<path d="M54.00,641.96 54.33,641.97 54.67,641.96 55.00,642.02 55.33,642.48 55.67,642.57 56.00,642.52 56.33,642.59 56.67,642.42 57.00,642.43 57.33,642.86 57.67,642.88 58.00,642.49 58.33,642.54 58.67,642.59 59.00,642.64 59.33,642.83 59.67,642.86 60.00,642.60 60.34,642.60 60.69,642.57 61.03,642.57 61.38,642.79 61.72,642.79 62.07,642.57 62.41,642.57 62.76,643.10 63.10,643.10 63.44,642.83 63.77,642.76 64.11,642.52 64.45,642.37 64.78,641.82 65.12,641.65 65.45,641.74 65.79,641.59 66.13,641.51 66.46,641.44 66.80,641.56 67.15,641.56 67.49,641.57 67.84,641.57 68.18,641.84 68.53,641.84 68.87,641.92 69.22,641.92 69.56,641.49 69.91,641.49 70.25,641.45 70.60,641.45 70.94,641.59 71.27,641.51 71.61,641.73 71.95,641.60 72.29,640.88 72.62,640.76 72.96,640.85 73.30,640.83 73.62,641.01 73.95,640.81 74.28,639.92 74.60,639.55 74.92,639.32 75.25,639.01 75.58,639.40 75.90,639.33 76.23,639.21 76.55,639.25 76.88,639.03 77.20,639.11 77.53,638.83 77.85,638.89 78.17,639.64 78.50,639.66 78.84,639.34 79.17,638.97 79.51,638.54 79.85,637.89 80.19,637.39 80.53,636.84 80.86,636.38 81.20,636.25 81.53,636.05 81.86,636.68 82.19,637.34 82.51,638.34 82.84,639.36 83.17,639.99 83.50,640.41 83.83,640.34 84.17,640.14 84.50,639.83 84.83,639.17 85.17,638.77 85.50,638.39 85.83,638.08 86.17,638.29 86.50,638.22 86.83,638.40 87.17,638.99 87.50,639.67 87.83,640.78 88.17,642.53 88.50,643.64 88.83,644.23 89.17,644.82 89.50,644.49 89.83,644.39 90.15,644.45 90.47,644.05 90.80,643.91 91.12,643.43 91.45,642.59 91.77,642.32 92.10,642.57 92.44,642.66 92.78,642.30 93.12,642.70 93.46,643.47 93.80,644.02 94.14,645.06 94.48,645.57 94.82,645.73 95.16,645.99 95.50,646.15 95.84,646.05 96.19,645.34 96.53,644.90 96.88,644.63 97.22,644.06 97.57,643.57 97.91,643.13 98.26,642.59 98.60,642.49 98.91,642.92 99.22,643.15 99.54,643.41 99.85,643.83 100.16,644.67 100.47,645.03 100.79,644.88 101.10,644.97 101.45,644.72 101.80,644.43 102.15,643.71 102.50,643.14 102.85,642.54 103.20,641.91 103.55,641.88 103.90,641.43 104.25,640.55 104.60,640.45 104.92,640.63 105.25,641.16 105.58,642.02 105.90,642.95 106.22,644.21 106.55,645.00 106.88,645.80 107.20,645.99 107.54,645.70 107.88,645.40 108.22,645.11 108.56,644.52 108.90,643.21 109.24,642.56 109.58,641.93 109.92,641.46 110.26,641.85 110.60,641.74 110.92,641.47 111.25,641.84 111.58,642.74 111.90,643.39 112.22,643.72 112.55,644.27 112.88,644.47 113.20,644.60 113.53,644.61 113.87,644.40 114.20,643.91 114.53,643.51 114.87,643.80 115.20,643.39 115.53,642.77 115.87,642.55 116.20,642.26 116.51,642.42 116.83,642.94 117.14,643.59 117.45,644.30 117.76,645.06 118.08,645.41 118.39,645.85 118.70,646.75 119.03,646.65 119.36,646.09 119.69,645.65 120.02,645.43 120.35,644.81 120.68,643.73 121.01,643.17 121.34,642.89 121.67,642.61 122.00,642.17 122.33,642.28 122.67,642.41 123.00,642.89 123.33,644.28 123.67,644.90 124.00,645.42 124.33,645.90 124.67,645.72 125.00,645.83 125.33,646.27 125.67,646.01 126.00,645.53 126.33,645.04 126.67,644.06 127.00,643.57 127.33,643.44 127.67,643.18 128.00,643.41 128.34,643.53 128.68,643.44 129.01,643.92 129.35,644.90 129.69,645.48 130.02,645.33 130.36,645.65 130.70,645.90 131.04,645.80 131.39,645.81 131.73,645.37 132.08,644.39 132.42,643.81 132.77,643.35 133.11,642.91 133.46,643.14 133.80,643.04 134.13,642.79 134.47,643.07 134.80,643.79 135.13,644.33 135.47,644.41 135.80,644.94 136.13,645.32 136.47,645.61 136.80,645.87 137.13,645.78 137.47,645.37 137.80,644.97 138.13,645.18 138.47,644.66 138.80,643.56 139.13,643.16 139.47,643.15 139.80,643.06 140.12,642.80 140.45,643.22 140.78,644.23 141.10,644.98 141.43,645.59 141.75,646.23 142.08,646.66 142.40,646.81 142.73,646.40 143.07,646.10 143.40,645.69 143.73,645.11 144.07,645.14 144.40,644.57 144.73,643.68 145.07,643.37 145.40,643.17 145.73,643.25 146.07,643.43 146.40,643.77 146.73,644.28 147.07,644.73 147.40,645.11 147.73,645.46 148.07,645.50 148.40,645.58 148.73,646.04 149.07,645.73 149.40,644.96 149.73,644.37 150.07,643.58 150.40,642.99 150.73,643.01 151.07,642.69 151.40,642.03 151.72,642.21 152.04,642.81 152.36,643.37 152.68,644.33 153.00,644.50 153.33,643.76 153.67,643.47 154.00,643.30 154.33,642.74 154.67,642.51 155.00,641.95 155.33,641.47 155.67,641.18 156.00,640.49 156.33,640.65 156.66,641.25 156.99,641.87 157.31,642.90 157.64,643.52 157.97,643.64 158.30,643.79 158.63,644.21 158.97,643.90 159.30,642.76 159.63,642.19 159.97,642.25 160.30,641.68 160.63,640.81 160.97,640.51 161.30,640.15 161.62,640.25 161.95,640.74 162.28,641.16 162.60,641.37 162.93,641.87 163.25,642.81 163.58,643.09 163.90,642.78 164.25,642.69 164.60,643.01 164.95,642.60 165.30,641.80 165.65,641.23 166.00,640.46 166.35,639.94 166.70,639.42 167.05,639.16 167.40,639.40 167.73,639.49 168.07,639.40 168.40,639.82 168.73,640.92 169.07,641.45 169.40,641.29 169.73,641.70 170.07,642.32 170.40,642.41 170.73,642.34 171.07,642.08 171.40,641.42 171.73,640.91 172.07,640.83 172.40,640.32 172.73,639.56 173.07,639.29 173.40,639.44 173.73,639.54 174.07,639.72 174.40,640.14 174.73,640.41 175.07,640.95 175.40,641.53 175.73,641.94 176.07,641.93 176.40,642.03 176.74,642.02 177.09,641.75 177.43,641.94 177.78,641.44 178.12,640.42 178.47,639.91 178.81,639.81 179.16,639.54 179.50,638.95 179.83,639.05 180.17,639.75 180.50,640.21 180.83,640.58 181.17,641.17 181.50,641.85 181.83,642.30 182.17,642.41 182.50,642.52 182.83,642.18 183.17,641.81 183.50,641.46 183.83,640.75 184.17,639.93 184.50,639.23 184.83,638.57 185.17,638.19 185.50,638.60 185.83,638.73 186.17,638.74 186.50,639.35 186.83,640.21 187.17,641.01 187.50,642.22 187.83,642.83 188.17,643.11 188.50,643.25 188.83,643.21 189.17,642.81 189.50,642.18 189.83,641.42 190.17,639.97 190.50,639.22 190.83,638.74 191.17,638.34 191.50,637.98 191.82,638.17 192.15,639.29 192.47,640.10 192.80,641.05 193.12,642.00 193.45,642.53 193.78,643.08 194.10,643.32 194.43,643.19 194.77,643.02 195.10,642.42 195.43,641.72 195.77,640.94 196.10,639.80 196.43,639.20 196.77,639.35 197.10,639.21 197.44,638.96 197.79,639.48 198.13,640.49 198.47,641.34 198.81,641.70 199.16,642.23 199.50,642.35 199.82,642.17 200.15,642.35 200.47,641.56 200.80,640.46 201.12,639.52 201.45,638.71 201.78,638.18 202.10,637.39 202.42,637.57 202.75,638.10 203.07,638.90 203.40,639.95 203.72,640.88 204.05,641.71 204.38,642.24 204.70,642.52 205.04,642.39 205.38,642.09 205.71,641.54 206.05,640.59 206.39,639.93 206.72,639.63 207.06,639.26 207.40,639.42 207.74,639.60 208.07,639.69 208.41,640.43 208.75,641.91 209.09,642.79 209.43,643.29 209.76,643.79 210.10,644.09 210.42,644.05 210.75,643.50 211.07,643.31 211.40,643.24 211.72,643.01 212.05,643.04 212.38,642.91 212.70,642.56 213.05,642.62 213.40,642.46 213.75,642.70 214.10,643.76 214.45,644.10 214.80,644.39 215.15,644.70 215.50,644.50 215.85,644.65 216.20,644.49 216.53,644.43 216.86,644.98 217.19,644.70 217.52,644.13 217.85,643.75 218.18,642.86 218.51,642.51 218.84,642.41 219.17,642.23 219.50,642.05 219.85,642.02 220.19,642.56 220.54,642.44 220.88,641.76 221.23,641.58 221.57,642.03 221.92,641.85 222.26,641.55 222.61,641.43 222.95,640.75 223.30,640.73 223.64,641.27 223.97,641.25 224.31,640.95 224.65,640.92 224.98,641.19 225.32,641.15 225.65,641.18 225.99,641.15 226.33,640.63 226.66,640.61 227.00,640.43 227.35,640.42 227.69,641.17 228.04,641.13 228.38,640.61 228.73,640.56 229.07,640.96 229.42,640.90 229.76,640.64 230.11,640.60 230.45,640.62 230.80,640.61 231.15,640.69 231.49,640.66 231.84,640.43 232.18,640.37 232.53,640.14 232.87,640.07 233.22,639.65 233.56,639.59 233.91,640.12 234.25,640.09 234.60,639.84 234.95,639.82 235.29,639.85 235.64,639.78 235.98,640.07 236.33,639.96 236.68,639.13 237.02,639.00 237.37,639.46 237.72,639.35 238.06,638.62 238.41,638.55 238.75,639.10 239.10,639.08 239.45,639.19 239.79,639.24 240.14,638.84 240.48,638.94 240.83,639.33 241.18,639.47 241.52,639.99 241.87,640.14 242.22,639.96 242.56,640.07 242.91,640.07 243.25,640.12 243.60,639.87 243.93,639.89 244.26,639.75 244.59,639.80 244.91,640.14 245.24,640.23 245.57,640.37 245.90,640.47 246.23,640.38 246.56,640.48 246.89,640.66 247.21,640.73 247.54,640.63 247.87,640.66 248.20,641.19 248.53,641.15 248.85,641.01 249.18,640.84 249.51,640.24 249.84,639.99 250.16,639.74 250.49,639.49 250.82,639.52 251.15,639.36 251.47,639.19 251.80,639.15 252.15,639.60 252.49,639.63 252.84,639.15 253.18,639.22 253.53,639.25 253.88,639.33 254.22,639.94 254.57,640.02 254.92,639.43 255.26,639.49 255.61,639.92 255.95,639.95 256.30,639.75 256.64,639.72 256.98,640.05 257.31,639.91 257.65,639.49 257.99,639.32 258.32,639.37 258.66,639.27 259.00,638.70 259.34,638.68 259.67,639.07 260.01,638.98 260.35,638.80 260.68,638.66 261.02,638.39 261.35,638.26 261.69,638.41 262.03,638.32 262.36,638.32 262.70,638.30 263.05,637.67 263.39,637.72 263.74,637.96 264.08,638.07 264.43,638.26 264.78,638.40 265.12,638.41 265.47,638.55 265.82,638.55 266.16,638.65 266.51,638.93 266.85,638.99 267.20,638.93 267.55,638.92 267.89,639.36 268.24,639.34 268.58,639.09 268.93,639.06 269.28,638.72 269.62,638.68 269.97,638.84 270.32,638.81 270.66,638.91 271.01,638.89 271.35,638.78 271.70,638.78 272.03,638.61 272.36,638.62 272.69,638.55 273.01,638.57 273.34,638.54 273.67,638.58 274.00,639.49 274.33,639.53 274.66,639.34 274.99,639.37 275.31,638.79 275.64,638.81 275.97,639.39 276.30,639.40 276.65,639.65 276.99,639.72 277.34,639.45 277.68,639.58 278.03,639.33 278.38,639.51 278.72,640.03 279.07,640.21 279.42,640.32 279.76,640.45 280.11,640.33 280.45,640.40 280.80,640.74 281.15,640.73 281.49,640.22 281.84,640.18 282.18,640.95 282.53,640.88 282.88,640.57 283.22,640.49 283.57,640.41 283.92,640.34 284.26,640.57 284.61,640.53 284.95,640.25 285.30,640.24 285.63,639.89 285.96,639.92 286.29,639.96 286.61,640.02 286.94,640.00 287.27,640.09 287.60,640.07 287.93,640.16 288.26,640.92 288.59,641.00 288.91,641.12 289.24,641.17 289.57,640.71 289.90,640.72 290.23,640.60 290.57,640.55 290.90,640.88 291.23,640.77 291.57,640.84 291.90,640.71 292.23,640.65 292.57,640.53 292.90,639.75 293.23,639.67 293.57,640.17 293.90,640.16" class="tr"/>
<path d="M54.00,771.75 54.34,771.88 54.67,771.98 55.01,772.18 55.35,772.00 55.68,772.16 56.02,772.11 56.35,772.11 56.69,772.59 57.03,772.41 57.36,771.71 57.70,771.42 58.04,771.17 58.37,770.91 58.71,770.88 59.05,770.76 59.38,770.56 59.72,770.62 60.05,771.18 60.39,771.36 60.73,771.04 61.06,771.23 61.40,771.20 61.75,771.28 62.10,771.75 62.44,771.65 62.79,771.54 63.14,771.33 63.49,771.28 63.83,771.09 64.18,770.86 64.53,770.81 64.88,771.03 65.22,771.16 65.57,771.40 65.92,771.65 66.27,771.50 66.61,771.73 66.96,771.89 67.31,771.97 67.66,771.65 68.00,771.54 68.35,771.48 68.70,771.25 69.04,771.29 69.37,771.11 69.71,770.56 70.05,770.54 70.38,771.18 70.72,771.36 71.05,771.15 71.39,771.46 71.73,772.04 72.06,772.35 72.40,773.09 72.74,773.27 73.07,772.58 73.41,772.58 73.75,772.47 74.08,772.34 74.42,772.55 74.75,772.40 75.09,772.06 75.43,772.01 75.76,772.50 76.10,772.59 76.44,772.09 76.79,772.27 77.13,773.22 77.47,773.38 77.82,773.50 78.16,773.52 78.51,773.39 78.85,773.22 79.19,772.65 79.54,772.35 79.88,771.92 80.22,771.63 80.57,771.74 80.91,771.60 81.26,771.43 81.60,771.50 81.94,771.55 82.28,771.70 82.62,771.75 82.97,771.83 83.31,771.94 83.65,771.88 83.99,771.93 84.33,771.69 84.67,771.55 85.02,771.24 85.36,771.01 85.70,770.77 86.04,770.05 86.39,770.31 86.73,770.93 87.07,771.58 87.41,772.39 87.76,772.96 88.10,773.43 88.43,773.63 88.76,773.60 89.09,773.69 89.41,773.55 89.74,773.46 90.07,773.19 90.40,772.96 90.73,772.91 91.06,772.65 91.39,772.54 91.71,772.37 92.04,772.75 92.37,772.75 92.70,772.79 93.04,772.97 93.37,773.16 93.71,773.41 94.05,773.75 94.38,773.94 94.72,774.06 95.05,774.11 95.39,773.77 95.73,773.67 96.06,773.69 96.40,773.53 96.74,772.70 97.07,772.60 97.41,773.11 97.75,773.16 98.08,773.22 98.42,773.42 98.75,773.38 99.09,773.64 99.43,774.13 99.76,774.32 100.10,774.78 100.45,774.80 100.80,774.29 101.14,774.12 101.49,774.03 101.84,773.75 102.19,773.16 102.53,772.93 102.88,772.80 103.23,772.71 103.58,773.21 103.92,773.30 104.27,772.67 104.62,772.84 104.97,773.15 105.31,773.27 105.66,773.76 106.01,773.73 106.36,773.41 106.70,773.22 107.05,772.67 107.40,772.42 107.75,772.72 108.10,772.53 108.45,772.16 108.80,772.14 109.15,772.39 109.50,772.52 109.85,772.56 110.20,772.76 110.55,773.04 110.90,773.16 111.25,773.24 111.60,773.20 111.95,772.92 112.30,772.72 112.65,772.23 113.00,771.98 113.33,771.86 113.66,771.76 113.99,772.40 114.31,772.51 114.64,772.41 114.97,772.71 115.30,772.67 115.63,773.03 115.96,774.06 116.29,774.35 116.61,774.01 116.94,774.11 117.27,773.96 117.60,773.84 117.94,774.00 118.27,773.67 118.61,773.03 118.95,772.62 119.28,772.46 119.62,772.16 119.95,772.02 120.29,771.92 120.63,771.65 120.96,771.77 121.30,772.27 121.64,772.47 121.97,772.21 122.31,772.30 122.65,772.68 122.98,772.62 123.32,772.57 123.66,772.41 123.99,771.80 124.33,771.67 124.67,771.88 125.01,771.88 125.34,771.67 125.68,771.83 126.02,772.39 126.35,772.65 126.69,773.30 127.03,773.54 127.36,773.44 127.70,773.53 128.04,773.69 128.37,773.61 128.71,773.50 129.05,773.30 129.38,772.51 129.72,772.32 130.05,772.96 130.39,772.88 130.73,772.65 131.06,772.74 131.40,772.36 131.74,772.59 132.07,773.50 132.41,773.75 132.75,773.56 133.08,773.70 133.42,773.55 133.75,773.52 134.09,774.11 134.43,773.92 134.76,773.35 135.10,773.12 135.44,773.13 135.79,773.04 136.13,772.49 136.47,772.63 136.82,773.44 137.16,773.76 137.51,773.47 137.85,773.84 138.19,774.33 138.54,774.59 138.88,774.87 139.22,774.93 139.57,774.57 139.91,774.44 140.26,774.77 140.60,774.55 140.94,774.00 141.29,773.82 141.63,773.77 141.97,773.70 142.32,774.07 142.66,774.11 143.01,773.91 143.35,773.97 143.69,774.40 144.04,774.36 144.38,774.01 144.72,773.83 145.07,773.81 145.41,773.53 145.76,772.97 146.10,772.72 146.44,772.85 146.77,772.71 147.11,772.59 147.45,772.60 147.78,772.05 148.12,772.19 148.45,772.88 148.79,773.05 149.13,772.83 149.46,772.91 149.80,773.29 150.14,773.20 150.47,772.95 150.81,772.72 151.15,772.57 151.48,772.29 151.82,771.41 152.15,771.22 152.49,771.33 152.83,771.32 153.16,771.73 153.50,771.89 153.84,772.30 154.17,772.56 154.51,772.61 154.85,772.84 155.18,772.39 155.52,772.49 155.85,773.02 156.19,772.98 156.53,772.44 156.86,772.33 157.20,772.65 157.54,772.60 157.87,772.85 158.21,772.95 158.55,772.51 158.88,772.75 159.22,773.77 159.55,774.08 159.89,774.14 160.23,774.36 160.56,774.13 160.90,774.18 161.24,774.07 161.57,773.93 161.91,773.96 162.25,773.72 162.58,773.82 162.92,773.60 163.25,773.21 163.59,773.13 163.93,772.71 164.26,772.79 164.60,772.85 164.94,773.04 165.27,773.31 165.61,773.48 165.95,774.21 166.28,774.25 166.62,773.65 166.95,773.53 167.29,773.67 167.63,773.44 167.96,772.97 168.30,772.76 168.64,772.97 168.99,772.92 169.33,772.70 169.68,772.87 170.02,772.91 170.36,773.23 170.71,774.22 171.05,774.54 171.39,774.50 171.74,774.69 172.08,774.91 172.43,774.89 172.77,774.90 173.11,774.73 173.46,774.65 173.80,774.45 174.11,773.41 174.43,773.19 174.74,773.27 175.06,773.12 175.37,772.88 175.69,772.92 176.00,773.40 176.35,773.65 176.69,774.22 177.04,774.41 177.38,774.47 177.73,774.52 178.07,773.80 178.42,773.70 178.76,773.68 179.11,773.52 179.45,773.94 179.80,773.83 180.15,773.65 180.49,773.65 180.84,773.45 181.19,773.55 181.54,773.72 181.88,773.81 182.23,773.55 182.58,773.50 182.92,773.97 183.27,773.74 183.62,773.03 183.96,772.67 184.31,772.74 184.66,772.41 185.01,771.91 185.35,771.74 185.70,771.22 186.05,771.29 186.39,771.69 186.74,771.93 187.09,772.11 187.44,772.39 187.78,773.24 188.13,773.42 188.48,773.24 188.82,773.24 189.17,772.67 189.52,772.52 189.86,772.47 190.21,772.30 190.56,772.34 190.91,772.27 191.25,772.37 191.60,772.46 191.95,772.70 192.29,772.88 192.64,772.88 192.99,773.01 193.34,773.04 193.68,773.01 194.03,772.57 194.38,772.33 194.72,772.54 195.07,772.17 195.42,771.58 195.76,771.24 196.11,770.68 196.46,770.50 196.81,770.83 197.15,770.88 197.50,771.51 197.85,771.75 198.19,771.17 198.54,771.44 198.89,771.77 199.24,771.95 199.58,772.53 199.93,772.55 200.28,772.14 200.62,772.05 200.97,771.94 201.32,771.85 201.66,772.00 202.01,772.02 202.36,771.90 202.71,772.07 203.05,772.56 203.40,772.79 203.75,773.00 204.09,773.25 204.44,773.84 204.79,773.98 205.14,774.07 205.48,774.06 205.83,773.13 206.18,773.02 206.52,773.38 206.87,773.29 207.22,773.45 207.56,773.49 207.91,773.70 208.26,773.89 208.61,774.04 208.95,774.30 209.30,774.42 209.65,774.61 209.99,774.73 210.34,774.74 210.69,774.40 211.04,774.20 211.38,773.84 211.73,773.52 212.08,773.65 212.42,773.35 212.77,773.18 213.12,773.04 213.46,773.06 213.81,773.11 214.16,773.02 214.51,773.20 214.85,773.07 215.20,773.25 215.54,773.79 215.89,773.80 216.23,773.68 216.58,773.48 216.92,772.99 217.27,772.66 217.61,772.44 217.96,772.13 218.30,771.63 218.65,771.47 219.00,771.57 219.34,771.59 219.69,771.54 220.03,771.67 220.38,771.49 220.72,771.60 221.06,771.90 221.41,771.89 221.75,771.80 222.10,771.65 222.44,772.06 222.78,771.85 223.12,771.21 223.46,771.08 223.80,770.93 224.14,770.97 224.48,771.00 224.82,771.23 225.16,771.52 225.50,771.86 225.84,772.30 226.18,772.60 226.52,772.64 226.86,772.78 227.20,772.71 227.54,772.66 227.88,773.30 228.22,773.12 228.56,772.54 228.90,772.35 229.25,772.21 229.59,772.19 229.94,772.38 230.29,772.56 230.64,772.58 230.98,772.89 231.33,773.09 231.68,773.37 232.02,773.51 232.37,773.65 232.72,773.90 233.06,773.85 233.41,773.72 233.76,773.55 234.11,773.73 234.45,773.56 234.80,773.29 235.15,773.24 235.49,773.61 235.84,773.71 236.19,773.32 236.54,773.48 236.88,774.16 237.23,774.26 237.58,773.99 237.92,773.93 238.27,773.32 238.62,773.10 238.96,772.90 239.31,772.60 239.66,772.68 240.01,772.45 240.35,772.68 240.70,772.64 241.05,772.15 241.39,772.32 241.74,772.95 242.09,773.24 242.44,773.22 242.78,773.48 243.13,774.07 243.48,774.18 243.82,773.48 244.17,773.42 244.52,773.67 244.86,773.51 245.21,773.73 245.56,773.61 245.91,772.98 246.25,773.00 246.60,773.07 246.93,773.21 247.27,773.16 247.60,773.32 247.93,773.58 248.27,773.66 248.60,773.76 248.93,773.69 249.27,773.92 249.60,773.71 249.93,773.01 250.27,772.75 250.60,772.68 250.94,772.50 251.28,772.23 251.62,772.26 251.96,772.76 252.30,773.00 252.64,773.56 252.98,773.94 253.32,774.14 253.66,774.51 254.00,774.42 254.34,774.66 254.68,775.28 255.02,775.33 255.36,775.50 255.70,775.41 256.04,774.98 256.38,774.87 256.72,774.33 257.06,774.31 257.40,775.01 257.75,775.12 258.09,775.34 258.44,775.53 258.78,775.23 259.12,775.37 259.47,775.26 259.81,775.24 260.16,775.17 260.50,774.96 260.85,775.00 261.19,774.68 261.54,774.66 261.88,774.37 262.23,773.93 262.57,773.80 262.92,774.03 263.26,774.10 263.61,773.61 263.95,773.82 264.30,774.15 264.64,774.34 264.99,774.84 265.34,774.85 265.68,774.67 266.02,774.49 266.37,774.00 266.72,773.68 267.06,773.60 267.40,773.30 267.75,772.76 268.10,772.60 268.44,772.29 268.78,772.32 269.13,772.74 269.48,772.90 269.82,772.73 270.16,772.87 270.51,773.49 270.86,773.52 271.20,773.21 271.55,773.09 271.89,773.04 272.24,772.83 272.58,772.71 272.93,772.53 273.27,772.11 273.62,772.09 273.96,772.35 274.31,772.51 274.65,772.33 275.00,772.59 275.34,773.67 275.69,773.90 276.03,773.73 276.38,773.80 276.72,774.15 277.06,774.04 277.41,773.02 277.75,772.79 278.10,773.07 278.44,772.88 278.78,772.84 279.12,772.79 279.46,772.47 279.80,772.59 280.13,772.56 280.47,772.77 280.81,773.05 281.15,773.23 281.49,773.34 281.83,773.38 282.17,773.90 282.51,773.77 282.85,772.96 283.19,772.73 283.53,773.14 283.87,772.93 284.20,772.42 284.54,772.35 284.88,772.47 285.22,772.57 285.56,772.79 285.90,773.01 286.24,773.22 286.59,773.43 286.93,773.68 287.27,773.77 287.62,773.71 287.96,773.63 288.30,773.22 288.65,773.03 288.99,773.19 289.33,773.00 289.68,772.44 290.02,772.40 290.37,772.85 290.71,772.99 291.05,773.24 291.40,773.48 291.74,773.75 292.08,773.97 292.43,773.72 292.77,773.81 293.11,774.22 293.46,774.12 293.80,774.12" class="tr"/>
<path d="M54.20,906.65 54.52,906.73 54.84,906.70 55.16,906.83 55.48,907.18 55.80,907.26 56.12,907.70 56.44,907.78 56.76,907.12 57.08,907.14 57.40,906.98 57.72,906.89 58.04,907.22 58.36,907.15 58.68,907.25 59.00,907.23 59.32,907.34 59.64,907.37 59.96,907.06 60.28,907.14 60.60,907.79 60.92,907.85 61.24,907.17 61.56,907.14 61.88,907.56 62.20,907.52 62.52,906.88 62.84,906.85 63.16,906.76 63.48,906.71 63.80,906.74 64.12,906.67 64.44,906.56 64.76,906.54 65.08,906.96 65.40,907.02 65.72,907.15 66.04,907.24 66.36,906.99 66.68,907.07 67.00,907.80 67.32,907.80 67.64,907.21 67.96,907.09 68.28,906.77 68.60,906.66 68.92,906.65 69.24,906.70 69.56,907.30 69.88,907.40 70.20,907.61 70.52,907.58 70.84,906.83 71.16,906.76 71.48,906.61 71.80,906.65 72.12,907.45 72.44,907.65 72.76,907.36 73.08,907.49 73.40,908.18 73.72,908.11 74.04,907.58 74.36,907.48 74.68,907.51 75.00,907.44 75.32,907.07 75.64,906.89 75.96,907.12 76.28,907.01 76.60,906.72 76.92,906.83 77.24,906.88 77.56,907.06 77.88,907.72 78.20,907.78 78.52,907.09 78.84,907.12 79.16,907.70 79.48,907.69 79.80,907.02 80.12,906.94 80.44,907.41 80.76,907.39 81.08,907.18 81.40,907.20 81.72,907.63 82.04,907.60 82.36,906.85 82.68,906.85 83.00,907.36 83.32,907.41 83.64,907.28 83.96,907.25 84.28,907.65 84.60,907.58 84.92,907.53 85.24,907.43 85.56,907.04 85.88,906.95 86.20,906.53 86.52,906.55 86.84,906.71 87.16,906.91 87.48,907.11 87.80,907.24 88.12,907.44 88.44,907.40 88.76,907.12 89.08,907.04 89.40,906.98 89.72,906.99 90.04,907.50 90.36,907.51 90.68,907.38 91.00,907.32 91.32,906.89 91.64,906.76 91.96,907.25 92.28,907.18 92.60,906.48 92.92,906.57 93.24,907.03 93.56,907.20 93.88,906.99 94.20,907.09 94.52,907.80 94.84,907.90 95.16,907.98 95.48,908.01 95.80,907.43 96.12,907.29 96.44,907.49 96.76,907.23 97.08,907.09 97.40,906.99 97.72,906.54 98.04,906.69 98.36,906.94 98.68,907.14 99.00,907.41 99.32,907.48 99.64,907.87 99.96,907.86 100.28,907.17 100.60,907.14 100.92,907.60 101.24,907.60 101.56,907.52 101.88,907.50 102.20,907.31 102.52,907.22 102.84,907.26 103.16,907.21 103.48,907.47 103.80,907.51 104.12,906.94 104.44,906.95 104.76,907.54 105.08,907.54 105.40,907.10 105.72,907.18 106.04,907.67 106.36,907.78 106.68,907.91 107.00,907.88 107.32,907.14 107.64,906.99 107.96,907.44 108.28,907.31 108.60,907.39 108.92,907.37 109.24,906.71 109.56,906.68 109.88,906.44 110.20,906.50 110.52,906.66 110.84,906.72 111.16,907.53 111.48,907.53 111.80,906.63 112.12,906.61 112.44,907.43 112.76,907.44 113.08,906.76 113.40,906.71 113.72,907.18 114.04,907.15 114.36,906.57 114.68,906.60 115.00,906.73 115.32,906.81 115.64,907.33 115.96,907.39 116.28,906.90 116.60,906.93 116.92,907.16 117.24,907.11 117.56,907.54 117.88,907.44 118.20,907.16 118.52,907.08 118.84,907.19 119.16,907.17 119.48,907.26 119.80,907.28 120.12,906.46 120.44,906.51 120.76,906.77 121.08,906.86 121.40,907.44 121.72,907.55 122.04,907.60 122.36,907.73 122.68,907.22 123.00,907.21 123.32,907.50 123.64,907.27 123.96,906.75 124.28,906.52 124.60,906.58 124.92,906.60 125.24,906.43 125.56,906.62 125.88,906.73 126.20,906.86 126.52,907.83 126.84,907.93 127.16,907.42 127.48,907.49 127.80,908.03 128.12,907.97 128.44,907.12 128.76,906.90 129.08,907.02 129.40,906.88 129.72,906.53 130.04,906.61 130.36,907.00 130.68,907.13 131.00,906.98 131.32,907.02 131.64,907.51 131.96,907.56 132.28,907.13 132.60,907.19 132.92,907.79 133.24,907.86 133.56,907.68 133.88,907.68 134.20,907.28 134.52,907.16 134.84,907.18 135.16,906.96 135.48,906.91 135.80,906.82 136.12,907.19 136.44,907.22 136.76,906.77 137.08,906.85 137.40,906.83 137.72,906.92 138.04,907.68 138.36,907.75 138.68,907.71 139.00,907.72 139.32,907.59 139.64,907.64 139.96,907.28 140.28,907.30 140.60,907.16 140.92,907.06 141.24,907.01 141.56,906.90 141.88,906.66 142.20,906.68 142.52,906.71 142.84,906.75 143.16,907.21 143.48,907.26 143.80,907.22 144.12,907.26 144.44,907.42 144.76,907.41 145.08,907.19 145.40,907.12 145.72,906.71 146.04,906.59 146.36,907.09 146.68,907.00 147.00,906.93 147.32,906.92 147.64,906.82 147.96,906.83 148.28,906.88 148.60,906.96 148.92,907.17 149.24,907.26 149.56,907.58 149.88,907.60 150.20,907.49 150.52,907.49 150.84,907.41 151.16,907.48 151.48,907.23 151.80,907.20 152.12,907.02 152.44,906.89 152.76,906.86 153.08,906.80 153.40,907.32 153.72,907.44 154.04,907.12 154.36,907.35 154.68,907.53 155.00,907.63 155.32,907.63 155.64,907.50 155.96,907.07 156.28,906.88 156.60,907.52 156.92,907.43 157.24,906.45 157.56,906.39 157.88,906.89 158.20,906.88 158.52,907.21 158.84,907.31 159.16,906.83 159.48,906.96 159.80,907.39 160.12,907.45 160.44,907.24 160.76,907.20 161.08,907.01 161.40,906.96 161.72,906.87 162.04,906.82 162.36,906.69 162.68,906.64 163.00,907.23 163.32,907.22 163.64,907.26 163.96,907.40 164.28,907.66 164.60,907.78 164.92,907.09 165.24,907.16 165.56,907.81 165.88,907.86 166.20,907.56 166.52,907.55 166.84,907.80 167.16,907.72 167.48,907.54 167.80,907.45 168.12,907.14 168.44,907.03 168.76,907.53 169.08,907.48 169.40,906.60 169.72,906.67 170.04,907.46 170.36,907.60 170.68,907.84 171.00,907.94 171.32,907.70 171.64,907.75 171.96,907.83 172.28,907.81 172.60,908.12 172.92,908.02 173.24,907.18 173.56,907.00 173.88,907.21 174.20,907.13 174.52,907.22 174.84,907.25 175.16,907.00 175.48,907.09 175.80,907.49 176.12,907.53 176.44,907.22 176.76,907.14 177.08,907.19 177.40,907.16 177.72,907.26 178.04,907.33 178.36,907.46 178.68,907.50 179.00,907.13 179.32,907.03 179.64,907.20 179.96,907.10 180.28,906.98 180.60,906.99 180.92,906.78 181.24,906.92 181.56,907.42 181.88,907.56 182.20,907.34 182.52,907.39 182.84,907.97 183.16,907.93 183.48,907.48 183.80,907.40 184.12,907.51 184.44,907.36 184.76,907.02 185.08,906.89 185.40,906.79 185.72,906.76 186.04,906.52 186.36,906.52 186.68,906.49 187.00,906.56 187.32,907.42 187.64,907.65 187.96,907.53 188.28,907.71 188.60,907.76 188.92,907.67 189.24,907.47 189.56,907.21 189.88,907.24 190.20,907.10 190.52,906.53 190.84,906.55 191.16,906.55 191.48,906.63 191.80,907.29 192.12,907.36 192.44,907.10 192.76,907.16 193.08,907.38 193.40,907.43 193.72,907.63 194.04,907.62 194.36,907.64 194.68,907.57 195.00,907.46 195.32,907.40 195.64,906.65 195.96,906.67 196.28,907.00 196.60,907.01 196.92,907.45 197.24,907.53 197.56,907.64 197.88,907.77 198.20,907.25 198.52,907.29 198.84,907.25 199.16,907.14 199.48,907.10 199.80,907.03 200.12,906.87 200.44,906.86 200.76,907.08 201.08,907.06 201.40,907.41 201.72,907.33 202.04,906.99 202.36,906.92 202.68,906.84 203.00,906.88 203.32,906.66 203.64,906.79 203.96,907.21 204.28,907.32 204.60,907.93 204.92,907.93 205.24,907.60 205.56,907.52 205.88,907.19 206.20,907.09 206.52,907.02 206.84,906.90 207.16,907.07 207.48,907.00 207.80,906.96 208.12,906.99 208.44,906.50 208.76,906.58 209.08,907.15 209.40,907.24 209.72,907.03 210.04,907.09 210.36,907.25 210.68,907.25 211.00,906.95 211.32,906.92 211.64,907.08 211.96,907.14 212.28,907.15 212.60,907.13 212.92,907.11 213.24,907.03 213.56,906.64 213.88,906.63 214.20,906.84 214.52,906.92 214.84,907.29 215.16,907.31 215.48,906.85 215.80,906.86 216.12,907.00 216.44,907.08 216.76,907.65 217.08,907.68 217.40,907.24 217.72,907.16 218.04,907.15 218.36,907.13 218.68,907.06 219.00,907.09 219.32,907.64 219.64,907.62 219.96,906.92 220.28,906.91 220.60,907.45 220.92,907.48 221.24,907.66 221.56,907.59 221.88,906.91 222.20,906.83 222.52,906.95 222.84,906.87 223.16,907.12 223.48,907.06 223.80,906.86 224.12,906.83 224.44,906.61 224.76,906.64 225.08,906.39 225.40,906.47 225.72,906.94 226.04,907.07 226.36,907.12 226.68,907.20 227.00,907.53 227.32,907.48 227.64,907.00 227.96,906.87 228.28,906.84 228.60,906.73 228.92,906.88 229.24,906.86 229.56,907.01 229.88,907.05 230.20,906.69 230.52,906.76 230.84,906.87 231.16,906.97 231.48,907.23 231.80,907.30 232.12,907.67 232.44,907.74 232.76,907.12 233.08,907.12 233.40,907.77 233.72,907.70 234.04,907.43 234.36,907.42 234.68,907.12 235.00,907.11 235.32,907.37 235.64,907.38 235.96,907.11 236.28,907.17 236.60,907.02 236.92,907.08 237.24,907.71 237.56,907.68 237.88,907.30 238.20,907.26 238.52,907.35 238.84,907.28 239.16,907.16 239.48,907.07 239.80,907.35 240.12,907.30 240.44,907.15 240.76,907.17 241.08,906.57 241.40,906.63 241.72,907.21 242.04,907.28 242.36,907.22 242.68,907.27 243.00,907.31 243.32,907.33 243.64,907.65 243.96,907.60 244.28,907.14 244.60,907.05 244.92,907.00 245.24,906.86 245.56,907.11 245.88,907.02 246.20,906.59 246.52,906.63 246.84,906.77 247.16,906.89 247.48,907.03 247.80,907.14 248.12,907.55 248.44,907.72 248.76,907.76 249.08,907.88 249.40,907.95 249.72,907.83 250.04,907.29 250.36,907.02 250.68,906.46 251.00,906.34 251.32,906.89 251.64,906.94 251.96,906.93 252.28,907.04 252.60,907.33 252.92,907.43 253.24,907.54 253.56,907.65 253.88,907.15 254.20,907.19 254.52,907.30 254.84,907.31 255.16,907.17 255.48,907.13 255.80,907.73 256.12,907.59 256.44,906.76 256.76,906.57 257.08,906.42 257.40,906.39 257.72,907.04 258.04,907.12 258.36,907.04 258.68,907.15 259.00,906.77 259.32,906.84 259.64,907.44 259.96,907.44 260.28,907.44 260.60,907.38 260.92,907.11 261.24,907.05 261.56,906.61 261.88,906.55 262.20,907.08 262.52,907.06 262.84,906.82 263.16,906.87 263.48,907.09 263.80,907.18 264.12,907.68 264.44,907.85 264.76,907.87 265.08,908.00 265.40,908.10 265.72,908.08 266.04,907.35 266.36,907.26 266.68,907.32 267.00,907.22 267.32,907.31 267.64,907.25 267.96,906.77 268.28,906.77 268.60,907.69 268.92,907.69 269.24,906.98 269.56,906.89 269.88,906.81 270.20,906.83 270.52,906.93 270.84,906.95 271.16,906.89 271.48,906.84 271.80,907.32 272.12,907.28 272.44,907.03 272.76,907.10 273.08,907.11 273.40,907.11 273.72,907.04 274.04,907.10 274.36,906.86 274.68,906.97 275.00,907.30 275.32,907.36 275.64,907.87 275.96,907.84 276.28,907.73 276.60,907.69 276.92,907.71 277.24,907.67 277.56,907.07 277.88,907.00 278.20,906.87 278.52,906.76 278.84,906.48 279.16,906.34 279.48,906.69 279.80,906.70 280.12,906.66 280.44,906.81 280.76,907.07 281.08,907.22 281.40,907.33 281.72,907.40 282.04,907.57 282.36,907.66 282.68,907.49 283.00,907.45 283.32,907.74 283.64,907.64 283.96,907.00 284.28,906.93 284.60,907.56 284.92,907.57 285.24,907.29 285.56,907.37 285.88,907.01 286.20,907.10 286.52,907.43 286.84,907.51 287.16,907.77 287.48,907.80 287.80,907.67 288.12,907.57 288.44,907.50 288.76,907.25 289.08,906.82 289.40,906.70 289.72,906.59 290.04,906.54 290.36,906.99 290.68,907.00 291.00,906.60 291.32,906.69 291.64,907.17 291.96,907.26 292.28,907.42 292.60,907.47 292.92,907.32 293.24,907.36 293.56,907.26 293.88,907.25 294.20,907.62" class="tr"/>
<path d="M415.70,109.35 416.00,108.85 416.30,108.24 416.60,107.74 416.92,107.50 417.23,108.88 417.55,111.09 417.87,112.97 418.18,114.52 418.50,115.03 418.82,114.22 419.15,113.43 419.48,112.97 419.80,111.58 420.12,109.47 420.45,108.28 420.78,107.96 421.10,107.69 421.44,107.70 421.79,108.80 422.13,111.05 422.47,112.81 422.81,114.07 423.16,115.16 423.50,115.77 423.84,115.56 424.18,114.69 424.52,113.75 424.86,112.72 425.20,111.41 425.54,110.09 425.88,108.91 426.22,107.63 426.56,107.02 426.90,106.74 427.24,106.98 427.59,108.23 427.93,109.21 428.27,109.68 428.61,110.66 428.96,112.03 429.30,112.28 429.60,111.58 429.90,111.44 430.20,111.20 430.50,111.14 430.82,109.79 431.14,106.26 431.46,102.53 431.78,99.00 432.10,97.81 432.40,98.29 432.70,99.12 433.00,100.92 433.30,102.94 433.60,104.26 433.90,104.38 434.20,104.27 434.50,104.55 434.80,104.18 435.10,103.68 435.40,103.57 435.73,102.36 436.07,100.36 436.40,97.55 436.73,94.83 437.07,93.41 437.40,92.68 437.73,92.62 438.07,94.06 438.40,96.75 438.73,98.73 439.07,99.69 439.40,100.21 439.70,99.93 440.00,99.48 440.30,99.57 440.60,103.57 440.90,111.34 441.20,115.34 441.48,113.77 441.76,109.09 442.04,102.95 442.32,98.27 442.60,97.17 442.90,97.65 443.20,98.44 443.50,100.24 443.80,102.51 444.10,103.82 444.40,103.69 444.72,105.34 445.04,110.25 445.36,115.59 445.68,120.08 446.00,121.73 446.31,120.21 446.63,117.44 446.94,113.10 447.26,108.65 447.57,104.96 447.89,102.18 448.20,101.43 448.55,101.97 448.90,103.15 449.25,105.59 449.60,108.94 449.95,112.34 450.30,115.33 450.65,118.40 451.00,121.17 451.35,122.73 451.70,123.51 452.04,122.88 452.39,120.85 452.73,118.30 453.07,115.70 453.41,113.15 453.76,110.88 454.10,110.25 454.45,111.42 454.80,112.93 455.15,114.55 455.50,117.21 455.85,120.59 456.20,122.85 456.55,124.42 456.90,124.95 457.23,124.69 457.57,124.15 457.90,123.02 458.23,122.27 458.57,121.51 458.90,121.31 459.22,121.20 459.53,120.76 459.85,120.53 460.17,119.93 460.48,119.26 460.80,119.10 461.10,119.53 461.40,119.64 461.70,119.03 462.00,119.18 462.30,119.65 462.60,119.69 462.90,120.26 463.20,120.86 463.50,121.36 463.80,121.96 464.10,122.14 464.43,121.90 464.76,120.81 465.09,119.75 465.42,118.46 465.75,116.98 466.08,115.61 466.41,114.27 466.74,113.77 467.07,113.09 467.40,112.81 467.74,113.26 468.09,113.95 468.43,115.75 468.77,118.38 469.11,120.19 469.46,120.63 469.80,121.08 470.13,121.24 470.46,120.24 470.79,119.01 471.12,117.05 471.45,114.31 471.78,112.13 472.11,110.71 472.44,109.15 472.77,107.89 473.10,107.54 473.45,107.67 473.80,109.60 474.15,112.74 474.50,116.15 474.85,119.66 475.20,122.55 475.55,124.30 475.90,124.97 476.24,124.83 476.57,123.16 476.91,120.16 477.25,117.21 477.59,114.81 477.93,112.31 478.26,110.20 478.60,109.62 478.94,110.09 479.28,112.02 479.61,115.35 479.95,118.75 480.29,121.74 480.62,124.63 480.96,126.97 481.30,127.65 481.64,127.19 481.98,125.28 482.31,122.25 482.65,118.89 482.99,115.40 483.32,112.54 483.66,110.25 484.00,109.58 484.33,110.60 484.67,112.28 485.00,114.49 485.33,117.65 485.67,121.52 486.00,124.68 486.33,126.80 486.67,128.48 487.00,129.47 487.31,128.95 487.62,127.23 487.93,124.92 488.24,122.10 488.56,119.08 488.87,116.50 489.18,114.18 489.49,112.22 489.80,111.70 490.14,112.32 490.48,114.08 490.81,117.40 491.15,120.50 491.49,123.05 491.82,125.68 492.16,127.89 492.50,128.51 492.83,128.00 493.17,126.44 493.50,123.71 493.83,120.79 494.17,117.38 494.50,114.46 494.83,112.03 495.17,110.47 495.50,110.64 495.82,111.25 496.15,112.31 496.48,114.92 496.80,118.35 497.12,121.43 497.45,124.07 497.78,125.82 498.10,126.06 498.42,125.59 498.74,124.57 499.07,122.52 499.39,119.73 499.71,117.06 500.03,114.88 500.36,112.83 500.68,111.47 501.00,111.01 501.34,111.39 501.68,112.86 502.01,114.89 502.35,117.48 502.69,120.25 503.02,122.44 503.36,123.72 503.70,124.23 504.01,123.77 504.32,122.62 504.63,120.97 504.94,118.81 505.26,117.09 505.57,114.93 505.88,112.85 506.19,111.70 506.50,111.65 506.84,112.04 507.18,112.36 507.51,114.01 507.85,116.80 508.19,118.75 508.52,120.00 508.86,121.10 509.20,121.76 509.52,121.34 509.85,119.92 510.18,118.11 510.50,116.07 510.82,113.93 511.15,111.70 511.48,110.48 511.80,110.53 512.11,110.74 512.42,110.83 512.73,111.79 513.04,113.06 513.36,114.31 513.67,115.28 513.98,116.24 514.29,117.19 514.60,117.40 514.94,117.09 515.29,115.88 515.63,113.93 515.97,111.99 516.31,110.79 516.66,109.58 517.00,108.43 517.30,108.63 517.60,109.65 517.90,110.42 518.20,110.89 518.50,111.45 518.80,111.99 519.10,111.86 519.40,111.68 519.70,111.21 520.00,110.66 520.30,110.32 520.60,109.61 520.95,109.75 521.30,110.27 521.65,110.62 522.00,111.09 522.34,110.82 522.68,110.47 523.02,109.60 523.36,108.05 523.70,107.79 524.05,108.15 524.40,107.71 524.75,107.17 525.10,106.57 525.45,106.24 525.80,106.08 526.10,105.89 526.40,106.49 526.70,107.65 527.00,108.25 527.30,108.17 527.64,108.13 527.98,108.44 528.32,108.32 528.66,107.40 529.00,107.36 529.31,107.80 529.63,106.69 529.94,104.61 530.26,102.83 530.57,101.22 530.89,100.11 531.20,99.43 531.54,99.90 531.89,101.38 532.23,103.30 532.57,105.88 532.91,107.80 533.26,109.09 533.60,109.56 533.94,108.76 534.29,107.82 534.63,106.56 534.98,104.80 535.32,102.74 535.67,100.98 536.01,99.59 536.36,98.65 536.70,98.35 537.04,99.01 537.39,100.95 537.73,103.62 538.07,107.16 538.41,109.82 538.76,111.69 539.10,112.35 539.42,111.74 539.74,110.54 540.07,108.41 540.39,106.14 540.71,103.74 541.03,101.47 541.36,99.88 541.68,98.67 542.00,98.37 542.35,98.97 542.70,100.55 543.05,103.13 543.40,106.07 543.75,109.12 544.10,111.30 544.45,113.02 544.80,114.01 545.11,113.52 545.42,112.28 545.73,110.09 546.04,107.34 546.36,104.48 546.67,101.16 546.98,98.96 547.29,98.09 547.60,97.60 547.94,97.93 548.27,99.83 548.61,102.50 548.95,105.85 549.29,109.92 549.62,112.76 549.96,114.39 550.30,115.06 550.64,114.48 550.97,112.65 551.31,109.36 551.65,106.12 551.99,103.51 552.33,100.77 552.66,99.04 553.00,98.39 553.34,98.98 553.67,100.75 554.01,103.25 554.35,106.37 554.69,109.57 555.03,112.21 555.36,113.95 555.70,114.57 556.03,113.93 556.37,112.61 556.70,110.47 557.03,108.00 557.37,105.73 557.70,103.27 558.03,101.22 558.37,99.91 558.70,99.53 559.03,100.15 559.35,101.38 559.67,103.99 560.00,107.66 560.33,110.75 560.65,112.97 560.97,114.72 561.30,115.70 561.62,115.13 561.95,112.77 562.27,110.36 562.60,108.27 562.92,105.42 563.25,102.84 563.57,101.23 563.90,100.18 564.23,100.76 564.55,102.96 564.88,105.46 565.20,107.86 565.52,110.81 565.85,113.27 566.17,114.94 566.50,115.76 566.83,115.21 567.16,113.45 567.49,111.21 567.81,108.95 568.14,106.70 568.47,105.52 568.80,104.97 569.11,105.22 569.42,106.53 569.73,108.56 570.04,111.03 570.36,113.36 570.67,115.83 570.98,118.19 571.29,119.50 571.60,119.96 571.93,119.54 572.26,118.26 572.59,116.56 572.91,114.90 573.24,113.20 573.57,111.91 573.90,111.49 574.23,111.42 574.56,112.28 574.89,113.24 575.21,114.62 575.54,116.37 575.87,117.23 576.20,117.70 576.53,117.35 576.85,115.89 577.17,114.39 577.50,112.84 577.83,111.06 578.15,109.76 578.47,108.76 578.80,108.36 579.11,108.50 579.42,108.18 579.74,108.77 580.05,109.89 580.36,110.58 580.67,110.74 580.99,111.13 581.30,111.35 581.64,111.09 581.98,111.05 582.32,110.21 582.66,109.18 583.00,108.93 583.34,108.54 583.69,106.99 584.03,104.61 584.37,102.12 584.71,99.76 585.06,98.21 585.40,97.54 585.72,98.01 586.04,99.36 586.36,100.88 586.68,102.54 587.00,103.01 587.33,102.50 587.67,101.66 588.00,100.21 588.33,99.06 588.67,98.04 589.00,97.73 589.30,98.09 589.60,98.62 589.90,99.73 590.20,100.46 590.50,100.75 590.80,100.95 591.12,101.52 591.43,102.54 591.75,104.08 592.07,105.48 592.38,105.88 592.70,106.26 593.00,106.56 593.30,106.04 593.60,104.81 593.90,104.29 594.20,104.79 594.54,105.03 594.89,105.13 595.23,106.17 595.58,107.52 595.92,108.87 596.27,110.76 596.61,111.80 596.96,111.94 597.30,112.18 597.64,111.88 597.99,111.39 598.33,111.23 598.68,110.30 599.02,109.05 599.37,108.12 599.71,107.62 600.06,107.13 600.40,106.50 600.73,107.02 601.07,108.52 601.40,110.45 601.73,112.79 602.07,114.19 602.40,114.31 602.74,113.96 603.09,113.38 603.43,111.84 603.78,109.23 604.12,107.21 604.47,105.90 604.81,104.35 605.16,102.75 605.50,102.40 605.83,103.02 606.15,103.85 606.48,104.63 606.80,106.10 607.12,107.73 607.45,108.98 607.77,110.51 608.10,110.80 608.44,109.81 608.79,108.27 609.13,106.36 609.47,103.89 609.81,101.17 610.16,99.63 610.50,99.17 610.84,99.49 611.19,100.20 611.53,101.64 611.88,103.81 612.22,105.69 612.57,107.73 612.91,109.16 613.26,109.79 613.60,110.11 613.93,109.62 614.25,108.57 614.58,107.49 614.90,105.64 615.23,103.75 615.55,102.17 615.88,100.92 616.20,100.55 616.54,100.43 616.88,101.60 617.21,103.85 617.55,105.91 617.89,107.82 618.23,109.57 618.56,111.20 618.90,111.61 619.24,110.74 619.58,109.79 619.91,108.63 620.25,106.95 620.59,105.23 620.92,103.81 621.26,102.62 621.60,102.29 621.93,102.90 622.26,104.23 622.59,106.29 622.91,108.43 623.24,110.56 623.57,111.89 623.90,112.00 624.21,111.77 624.52,110.98 624.83,109.95 625.14,109.25 625.46,107.91 625.77,105.83 626.08,104.80 626.39,104.83 626.70,104.60 627.03,104.75 627.36,105.56 627.69,106.61 628.01,107.90 628.34,108.96 628.67,109.77 629.00,110.33 629.34,110.13 629.69,109.68 630.03,108.80 630.38,107.58 630.72,106.43 631.07,105.37 631.41,104.50 631.76,103.28 632.10,103.08 632.43,103.56 632.75,104.18 633.08,104.93 633.40,106.02 633.73,107.85 634.05,108.77 634.38,109.34 634.70,109.55 635.03,108.62 635.36,107.90 635.69,107.26 636.01,106.10 636.34,105.05 636.67,104.33 637.00,103.59 637.35,103.90 637.70,105.07 638.05,106.37 638.40,108.22 638.75,109.75 639.10,110.96 639.45,111.82 639.80,111.80 640.14,111.55 640.49,111.24 640.83,110.11 641.18,108.30 641.52,106.82 641.87,105.66 642.21,104.53 642.56,103.68 642.90,103.43 643.21,104.41 643.53,105.76 643.84,107.40 644.16,109.56 644.47,111.65 644.79,112.99 645.10,113.36 645.43,113.11 645.77,112.13 646.10,111.04 646.43,110.23 646.77,108.80 647.10,107.24 647.43,106.15 647.77,105.42 648.10,105.17 648.43,105.37 648.77,106.92 649.10,108.95 649.43,111.07 649.77,113.00 650.10,113.57 650.44,113.52 650.79,112.75 651.13,111.54 651.48,110.09 651.82,108.14 652.17,106.69 652.51,105.32 652.86,104.54 653.20,104.61 653.53,105.13 653.86,106.92 654.19,109.02 654.51,110.71 654.84,112.82 655.17,114.79 655.50,115.31" class="tr"/>
<path d="M415.70,242.90 416.04,242.90 416.38,243.01 416.72,242.99 417.06,242.73 417.40,242.70 417.74,242.89 418.08,242.86 418.42,242.91 418.76,242.90 419.10,243.42 419.44,243.39 419.79,243.30 420.13,243.18 420.47,242.35 420.81,242.23 421.16,242.26 421.50,242.23 421.82,242.97 422.14,243.42 422.46,243.31 422.78,243.76 423.10,244.04 423.43,243.92 423.77,243.69 424.10,243.24 424.43,242.50 424.77,242.17 425.10,242.18 425.40,242.28 425.70,242.68 426.00,243.05 426.30,243.42 426.60,243.70 426.90,244.32 427.24,244.30 427.59,243.63 427.93,243.57 428.27,243.45 428.61,243.39 428.96,243.98 429.30,243.97 429.61,243.46 429.93,243.19 430.24,243.13 430.55,242.65 430.86,242.00 431.18,241.59 431.49,241.45 431.80,241.35 432.15,240.85 432.50,240.63 432.85,240.19 433.20,239.89 433.55,240.21 433.90,240.13 434.20,239.47 434.50,238.42 434.80,237.20 435.10,236.15 435.40,235.85 435.68,236.14 435.96,236.96 436.24,237.89 436.52,238.21 436.80,238.50 437.11,238.39 437.42,237.84 437.73,237.50 438.04,236.47 438.36,235.03 438.67,234.00 438.98,232.95 439.29,232.40 439.60,232.52 439.90,233.23 440.20,234.83 440.50,237.48 440.80,240.59 441.10,242.53 441.40,242.59 441.73,242.34 442.07,242.32 442.40,241.22 442.73,239.63 443.07,238.19 443.40,236.64 443.73,235.54 444.07,235.35 444.40,235.10 444.72,235.45 445.03,238.06 445.35,241.62 445.67,245.19 445.98,247.65 446.30,248.61 446.63,248.75 446.97,247.91 447.30,246.80 447.63,245.22 447.97,243.47 448.30,241.89 448.63,240.36 448.97,239.51 449.30,239.58 449.64,240.24 449.99,241.45 450.33,244.12 450.67,247.26 451.01,249.92 451.36,252.07 451.70,252.73 452.03,252.80 452.37,252.18 452.70,250.92 453.03,249.75 453.37,248.55 453.70,247.37 454.03,246.49 454.37,245.86 454.70,245.31 455.04,245.75 455.39,247.49 455.73,249.29 456.07,251.12 456.41,252.92 456.76,253.81 457.10,254.26 457.43,254.21 457.76,253.93 458.09,253.85 458.42,253.25 458.75,252.13 459.08,251.36 459.42,250.42 459.75,249.65 460.08,249.56 460.41,248.96 460.74,248.21 461.07,247.92 461.40,247.82 461.74,248.06 462.09,248.86 462.43,249.82 462.77,251.10 463.11,252.06 463.46,252.03 463.80,252.27 464.12,252.23 464.44,251.60 464.76,250.35 465.08,249.10 465.40,248.02 465.72,246.63 466.04,245.46 466.36,244.46 466.68,244.14 467.00,243.92 467.31,243.99 467.62,244.66 467.93,245.62 468.24,246.89 468.56,248.09 468.87,249.36 469.18,250.55 469.49,251.23 469.80,251.20 470.13,250.89 470.47,250.51 470.80,249.14 471.13,247.40 471.47,245.62 471.80,243.98 472.13,242.61 472.47,241.10 472.80,240.79 473.14,241.64 473.48,242.73 473.81,244.45 474.15,246.38 474.49,248.08 474.82,249.72 475.16,251.17 475.50,251.56 475.84,251.32 476.19,250.62 476.53,249.42 476.88,248.11 477.22,246.79 477.57,245.49 477.91,244.27 478.26,243.58 478.60,243.54 478.91,243.89 479.23,244.22 479.54,245.71 479.85,247.98 480.16,249.74 480.48,251.24 480.79,252.23 481.10,252.50 481.42,252.27 481.74,251.31 482.07,250.30 482.39,248.87 482.71,247.55 483.03,246.79 483.36,245.78 483.68,245.32 484.00,245.09 484.32,244.92 484.65,245.83 484.98,247.13 485.30,248.74 485.62,250.36 485.95,251.72 486.28,252.51 486.60,252.83 486.92,253.17 487.24,252.60 487.56,252.00 487.88,250.90 488.20,249.52 488.52,248.30 488.84,246.80 489.16,245.93 489.48,245.67 489.80,245.48 490.11,245.17 490.43,245.90 490.74,247.67 491.05,248.95 491.36,249.77 491.68,250.86 491.99,251.30 492.30,251.55 492.63,251.90 492.97,251.27 493.30,249.87 493.63,248.70 493.97,247.57 494.30,246.40 494.63,245.25 494.97,244.62 495.30,244.75 495.61,244.94 495.92,245.60 496.23,246.45 496.54,247.72 496.86,248.83 497.17,249.19 497.48,250.04 497.79,251.30 498.10,251.49 498.42,250.69 498.74,250.24 499.06,249.63 499.38,248.74 499.70,248.12 500.02,247.13 500.34,245.98 500.66,245.27 500.98,244.80 501.30,244.65 501.61,245.02 501.92,245.49 502.23,245.90 502.54,246.78 502.86,248.23 503.17,249.11 503.48,249.31 503.79,249.78 504.10,250.51 504.42,250.34 504.74,249.85 505.07,249.13 505.39,248.00 505.71,247.06 506.03,245.73 506.36,245.01 506.68,245.21 507.00,245.05 507.31,244.50 507.62,244.84 507.93,245.80 508.24,246.46 508.56,247.08 508.87,247.73 509.18,247.94 509.49,248.29 509.80,248.92 510.12,248.78 510.44,248.45 510.76,247.81 511.08,246.87 511.40,245.98 511.72,244.91 512.04,244.11 512.36,243.56 512.68,243.15 513.00,243.08 513.35,243.24 513.70,243.37 514.05,244.05 514.40,245.43 514.75,246.23 515.10,247.03 515.45,247.49 515.80,247.47 516.13,247.34 516.46,247.10 516.79,246.50 517.12,245.18 517.45,244.35 517.78,244.10 518.11,243.35 518.44,241.93 518.77,241.55 519.10,241.78 519.41,241.97 519.73,242.19 520.04,242.95 520.36,244.08 520.67,244.84 520.99,245.58 521.30,245.76 521.63,245.66 521.96,245.28 522.29,244.47 522.62,243.73 522.95,242.81 523.28,241.99 523.61,241.11 523.94,240.53 524.27,240.34 524.60,240.21 524.94,240.25 525.27,240.68 525.61,241.23 525.95,241.97 526.29,243.21 526.62,243.84 526.96,244.07 527.30,244.21 527.64,244.00 527.98,243.59 528.32,242.73 528.66,241.92 529.00,241.48 529.34,240.59 529.68,239.32 530.02,238.68 530.36,238.33 530.70,238.19 531.04,238.71 531.39,239.43 531.73,240.60 532.07,241.76 532.41,243.05 532.76,243.77 533.10,243.82 533.43,243.67 533.76,243.42 534.09,242.75 534.42,241.87 534.75,240.93 535.08,239.81 535.41,238.96 535.74,238.28 536.07,237.85 536.40,237.11 536.74,237.38 537.09,238.27 537.43,239.37 537.77,240.42 538.11,241.53 538.46,243.05 538.80,243.33 539.13,243.01 539.47,242.46 539.80,241.54 540.13,240.51 540.47,239.09 540.80,238.06 541.13,237.31 541.47,236.76 541.80,236.40 542.14,236.74 542.49,238.12 542.83,239.50 543.17,241.36 543.51,242.74 543.86,243.08 544.20,243.43 544.53,243.02 544.87,242.52 545.20,241.88 545.53,240.95 545.87,240.12 546.20,239.19 546.53,238.93 546.87,238.43 547.20,238.17 547.55,238.37 547.90,238.61 548.25,239.43 548.60,240.09 548.95,241.07 549.30,241.90 549.65,242.45 550.00,242.69 550.32,242.56 550.64,242.75 550.97,242.17 551.29,241.20 551.61,240.45 551.93,240.22 552.26,239.64 552.58,239.20 552.90,239.07 553.24,239.27 553.59,240.11 553.93,241.05 554.27,242.41 554.61,243.94 554.96,244.79 555.30,244.47 555.62,244.33 555.94,243.90 556.26,243.27 556.58,242.89 556.90,242.01 557.22,241.08 557.54,240.28 557.86,239.38 558.18,238.98 558.50,238.88 558.83,239.10 559.15,239.53 559.48,240.49 559.80,242.42 560.12,243.55 560.45,244.33 560.77,244.96 561.10,245.40 561.40,244.71 561.70,243.08 562.00,241.42 562.30,240.24 562.63,240.35 562.97,240.91 563.30,241.31 563.63,241.40 563.97,241.69 564.30,242.18 564.62,242.31 564.95,242.72 565.27,243.29 565.60,243.32 565.92,243.99 566.25,244.45 566.57,244.83 566.90,245.14 567.23,244.97 567.57,244.83 567.90,244.18 568.23,243.34 568.57,242.87 568.90,242.36 569.24,242.49 569.58,243.59 569.92,244.17 570.26,244.85 570.60,245.66 570.94,246.17 571.28,246.90 571.62,247.09 571.96,247.46 572.30,248.35 572.63,248.28 572.96,247.75 573.29,247.45 573.61,246.70 573.94,246.40 574.27,246.42 574.60,246.34 574.93,246.64 575.26,246.71 575.59,247.04 575.91,247.15 576.24,246.89 576.57,246.96 576.90,247.13 577.24,247.01 577.59,246.30 577.93,245.84 578.27,245.36 578.61,244.90 578.96,245.18 579.30,245.07 579.63,244.51 579.97,244.27 580.30,243.64 580.63,243.19 580.97,243.14 581.30,242.68 581.63,241.89 581.97,241.65 582.30,241.63 582.63,241.69 582.97,242.09 583.30,242.31 583.63,242.65 583.97,242.82 584.30,242.92 584.62,242.61 584.93,241.84 585.25,240.69 585.57,239.30 585.88,238.45 586.20,237.81 586.55,237.87 586.90,238.62 587.25,238.87 587.60,238.55 587.95,238.84 588.30,239.45 588.65,239.62 589.00,239.61 589.33,239.62 589.65,239.90 589.98,239.95 590.30,240.04 590.62,240.10 590.95,239.72 591.27,239.75 591.60,240.13 591.93,240.10 592.26,240.04 592.59,239.90 592.91,239.55 593.24,239.41 593.57,239.01 593.90,238.98 594.23,239.86 594.56,240.38 594.89,240.87 595.21,241.71 595.54,241.99 595.87,242.52 596.20,242.86 596.53,242.79 596.86,243.26 597.19,242.96 597.51,241.94 597.84,241.64 598.17,241.58 598.50,241.50 598.83,242.01 599.16,242.44 599.49,243.10 599.81,243.79 600.14,244.24 600.47,244.67 600.80,244.92 601.14,244.85 601.49,244.00 601.83,243.68 602.18,243.34 602.52,242.93 602.87,243.33 603.21,243.01 603.56,242.64 603.90,242.57 604.23,241.92 604.56,242.03 604.89,242.20 605.21,242.38 605.54,242.72 605.87,242.83 606.20,243.49 606.54,243.39 606.89,242.48 607.23,242.07 607.58,241.97 607.92,241.44 608.27,241.16 608.61,240.75 608.96,240.22 609.30,240.12 609.64,240.40 609.99,240.47 610.33,239.99 610.68,240.12 611.02,240.16 611.37,240.29 611.71,240.27 612.06,240.34 612.40,241.03 612.73,241.11 613.06,240.73 613.39,241.03 613.71,242.14 614.04,242.44 614.37,242.41 614.70,242.49 615.03,242.00 615.35,241.95 615.68,242.43 616.00,242.33 616.33,241.63 616.65,241.50 616.98,241.68 617.30,241.56 617.62,241.09 617.95,241.01 618.27,241.58 618.60,241.56 618.95,241.67 619.29,241.73 619.64,241.85 619.98,241.97 620.33,241.28 620.67,241.42 621.02,242.32 621.36,242.44 621.71,242.27 622.05,242.33 622.40,242.59 622.73,242.60 623.05,242.34 623.38,242.38 623.70,242.53 624.02,242.59 624.35,242.64 624.67,242.70 625.00,242.94 625.32,243.00 625.65,242.39 625.97,242.41 626.30,242.40 626.63,242.32 626.97,242.55 627.30,242.22 627.63,241.58 627.97,241.14 628.30,240.83 628.63,240.50 628.97,239.93 629.30,239.86 629.63,240.66 629.96,241.05 630.29,240.96 630.61,241.58 630.94,242.87 631.27,243.26 631.60,243.38 631.93,243.33 632.25,242.85 632.58,242.61 632.90,241.98 633.23,241.61 633.55,241.69 633.88,241.28 634.20,240.51 634.52,240.19 634.85,240.14 635.17,239.99 635.50,239.65 635.84,239.72 636.19,240.70 636.53,241.00 636.88,240.99 637.22,241.39 637.57,241.59 637.91,241.90 638.26,241.87 638.60,241.93 638.94,242.48 639.29,242.39 639.63,242.36 639.98,242.20 640.32,242.03 640.67,241.86 641.01,241.06 641.36,240.97 641.70,241.18 642.05,241.21 642.39,241.24 642.74,241.38 643.08,241.97 643.43,242.18 643.77,241.84 644.12,242.04 644.46,242.64 644.81,242.78 645.15,243.20 645.50,243.23 645.84,243.09 646.19,243.22 646.53,242.73 646.88,242.98 647.22,243.30 647.57,243.54 647.91,243.78 648.26,243.91 648.60,244.47 648.94,244.43 649.29,244.21 649.63,244.01 649.98,243.70 650.32,243.44 650.67,243.14 651.01,242.94 651.36,242.76 651.70,242.72 652.05,242.90 652.39,242.90 652.74,242.93 653.08,242.93 653.43,243.17 653.77,243.17 654.12,243.01 654.46,243.01 654.81,243.07 655.15,243.07 655.50,243.17" class="tr"/>
<path d="M415.70,376.40 416.04,376.44 416.38,376.45 416.72,376.62 417.06,376.23 417.40,376.48 417.74,377.31 418.08,377.53 418.42,377.86 418.76,377.98 419.10,377.64 419.43,377.60 419.77,377.90 420.10,377.74 420.43,376.92 420.77,376.71 421.10,377.20 421.43,377.04 421.77,376.48 422.10,376.45 422.43,376.71 422.77,376.79 423.10,376.50 423.43,376.65 423.77,376.85 424.10,377.00 424.43,377.16 424.77,377.24 425.10,377.24 425.45,377.23 425.79,376.97 426.14,376.90 426.48,377.11 426.83,377.01 427.17,377.38 427.52,377.27 427.86,376.88 428.21,376.80 428.55,377.01 428.90,376.99 429.23,376.78 429.57,376.64 429.90,376.48 430.23,376.20 430.57,376.05 430.90,375.77 431.23,375.33 431.57,375.18 431.90,374.70 432.23,374.67 432.57,374.56 432.90,374.42 433.23,374.41 433.57,374.23 433.90,373.72 434.23,373.59 434.57,373.69 434.90,373.66 435.22,374.21 435.55,374.09 435.88,373.94 436.20,373.73 436.52,372.99 436.85,372.81 437.18,373.09 437.50,373.04 437.84,372.95 438.19,372.69 438.53,372.41 438.87,371.99 439.21,371.52 439.56,371.26 439.90,370.93 440.20,371.23 440.50,371.67 440.80,372.79 441.10,374.57 441.40,375.39 441.70,375.23 442.04,375.10 442.38,375.00 442.71,374.43 443.05,373.53 443.39,372.86 443.72,372.45 444.06,372.07 444.40,372.32 444.71,372.59 445.03,372.63 445.34,373.73 445.66,375.29 445.97,376.39 446.29,377.26 446.60,377.53 446.93,377.37 447.27,377.20 447.60,377.29 447.93,376.97 448.27,376.14 448.60,375.82 448.93,376.01 449.27,375.83 449.60,375.57 449.92,376.03 450.23,377.52 450.55,379.22 450.87,380.13 451.18,381.38 451.50,381.94 451.82,381.78 452.15,381.39 452.48,380.71 452.80,380.47 453.12,379.66 453.45,378.18 453.78,377.72 454.10,377.78 454.44,377.98 454.79,378.93 455.13,379.71 455.47,380.82 455.81,381.61 456.16,381.42 456.50,381.61 456.83,381.74 457.17,381.43 457.50,381.19 457.83,380.62 458.17,380.02 458.50,379.45 458.83,379.03 459.17,378.73 459.50,378.63 459.84,378.67 460.17,378.36 460.51,378.57 460.85,378.85 461.18,379.17 461.52,379.29 461.85,379.60 462.19,380.48 462.53,380.69 462.86,380.39 463.20,380.44 463.52,380.43 463.85,380.28 464.18,380.68 464.50,380.37 464.82,379.72 465.15,379.33 465.48,378.89 465.80,378.53 466.12,378.28 466.45,378.04 466.78,377.84 467.10,377.79 467.43,377.94 467.77,378.13 468.10,378.07 468.43,378.43 468.77,378.60 469.10,378.96 469.43,379.25 469.77,379.44 470.10,379.46 470.43,379.34 470.77,379.30 471.10,378.75 471.43,377.88 471.77,377.17 472.10,376.48 472.43,375.93 472.77,375.92 473.10,375.79 473.43,376.35 473.75,376.72 474.07,377.02 474.40,377.67 474.73,377.95 475.05,378.50 475.38,379.31 475.70,379.44 476.03,378.82 476.37,378.55 476.70,378.07 477.03,377.56 477.37,377.20 477.70,376.70 478.03,376.38 478.37,376.11 478.70,376.27 479.04,376.39 479.39,376.49 479.73,377.00 480.08,377.88 480.42,378.54 480.77,378.59 481.11,379.09 481.46,380.17 481.80,380.29 482.13,379.63 482.47,379.28 482.80,379.17 483.13,378.51 483.47,377.07 483.80,376.40 484.13,376.58 484.47,376.22 484.80,375.55 485.11,375.73 485.43,376.79 485.74,377.54 486.05,378.37 486.36,379.25 486.68,379.88 486.99,380.38 487.30,380.20 487.65,380.13 488.00,379.67 488.35,379.34 488.70,379.08 489.05,378.62 489.40,378.80 489.75,378.38 490.10,377.38 490.45,377.17 490.80,377.54 491.12,377.67 491.45,377.96 491.77,378.50 492.10,379.20 492.43,379.83 492.75,379.93 493.07,380.29 493.40,380.38 493.75,380.29 494.10,379.97 494.45,379.55 494.80,379.82 495.15,379.23 495.50,378.11 495.85,377.58 496.20,377.40 496.55,377.13 496.90,376.96 497.21,377.08 497.52,377.09 497.84,377.58 498.15,378.01 498.46,378.58 498.77,379.02 499.09,379.35 499.40,380.22 499.73,380.14 500.07,379.27 500.40,378.94 500.73,379.28 501.07,378.85 501.40,377.90 501.73,377.57 502.07,377.68 502.40,377.60 502.71,377.11 503.02,377.23 503.33,377.98 503.64,378.20 503.96,377.94 504.27,378.15 504.58,378.43 504.89,378.54 505.20,378.72 505.51,378.61 505.82,377.93 506.14,377.46 506.45,377.02 506.76,376.47 507.07,376.49 507.39,376.18 507.70,375.61 508.02,375.72 508.35,376.15 508.68,376.65 509.00,377.59 509.32,378.18 509.65,378.20 509.98,378.53 510.30,378.62 510.65,378.52 511.00,378.24 511.35,377.76 511.70,377.31 512.05,376.65 512.40,375.96 512.75,375.37 513.10,375.14 513.45,374.83 513.80,374.57 514.11,374.69 514.42,375.39 514.74,375.89 515.05,375.75 515.36,376.34 515.67,377.39 515.99,377.73 516.30,378.00 516.64,377.93 516.99,377.19 517.33,376.89 517.68,376.33 518.02,375.93 518.37,375.92 518.71,375.61 519.06,375.12 519.40,375.05 519.71,375.46 520.03,375.74 520.34,376.37 520.66,376.81 520.97,376.66 521.29,376.94 521.60,377.06 521.93,376.93 522.26,376.91 522.59,376.41 522.91,375.58 523.24,375.08 523.57,374.78 523.90,374.66 524.23,374.87 524.57,374.95 524.90,374.78 525.23,374.93 525.57,375.04 525.90,375.19 526.23,375.57 526.57,375.65 526.90,375.77 527.23,375.73 527.57,376.02 527.90,375.82 528.23,375.23 528.57,374.97 528.90,374.29 529.23,374.09 529.57,374.10 529.90,374.05 530.23,374.57 530.57,374.70 530.90,374.73 531.23,374.98 531.57,375.51 531.90,375.76 532.23,376.04 532.57,376.17 532.90,376.12 533.24,376.06 533.59,375.23 533.93,374.97 534.28,375.41 534.62,375.08 534.97,374.40 535.31,374.14 535.66,373.72 536.00,373.67 536.33,373.65 536.67,373.78 537.00,374.60 537.33,374.85 537.67,374.52 538.00,374.77 538.33,374.85 538.67,374.98 539.00,375.19 539.35,375.14 539.70,375.59 540.05,375.37 540.40,374.67 540.75,374.36 541.10,374.30 541.45,374.02 541.80,373.21 542.15,373.07 542.50,373.36 542.81,373.43 543.12,373.53 543.44,373.85 543.75,374.13 544.06,374.52 544.38,375.25 544.69,375.47 545.00,375.28 545.34,375.24 545.69,374.93 546.03,374.78 546.38,375.38 546.72,375.19 547.07,374.56 547.41,374.41 547.76,374.05 548.10,374.01 548.43,373.91 548.77,374.07 549.10,374.89 549.43,375.18 549.77,375.37 550.10,375.66 550.43,375.46 550.77,375.62 551.10,376.07 551.41,375.98 551.73,375.98 552.04,375.62 552.36,375.03 552.67,374.67 552.99,374.15 553.30,374.06 553.64,374.38 553.99,374.60 554.33,375.04 554.68,375.47 555.02,375.96 555.37,376.39 555.71,376.28 556.06,376.50 556.40,377.17 556.74,377.06 557.08,376.86 557.41,376.38 557.75,375.62 558.09,375.04 558.42,374.66 558.76,374.34 559.10,373.78 559.40,373.95 559.70,374.92 560.00,375.62 560.30,375.75 560.60,376.45 560.90,376.98 561.20,377.15 561.53,377.40 561.87,377.16 562.20,377.06 562.53,376.60 562.87,375.38 563.20,374.92 563.53,374.67 563.87,374.43 564.20,374.18 564.54,374.33 564.88,375.10 565.21,375.72 565.55,376.18 565.89,376.90 566.23,377.57 566.56,377.98 566.90,378.62 567.24,378.58 567.59,378.30 567.93,378.10 568.28,378.18 568.62,377.92 568.97,377.19 569.31,376.99 569.66,377.11 570.00,377.06 570.34,376.49 570.67,376.58 571.01,377.56 571.35,377.74 571.68,377.30 572.02,377.52 572.35,377.94 572.69,378.12 573.03,378.29 573.36,378.38 573.70,378.80 574.05,378.81 574.39,378.43 574.74,378.48 575.08,378.99 575.43,379.06 575.77,378.79 576.12,378.86 576.46,378.56 576.81,378.61 577.15,379.19 577.50,379.20 577.83,378.56 578.17,378.35 578.50,378.75 578.83,378.36 579.17,377.45 579.50,377.06 579.83,376.53 580.17,376.33 580.50,376.92 580.85,376.88 581.19,376.19 581.54,376.01 581.88,375.86 582.23,375.60 582.57,375.27 582.92,375.01 583.26,375.08 583.61,374.90 583.95,374.21 584.30,374.17 584.63,374.47 584.97,374.40 585.30,374.12 585.63,374.01 585.97,374.48 586.30,374.37 586.63,373.53 586.97,373.47 587.30,374.00 587.65,374.00 587.99,373.71 588.34,373.75 588.68,373.98 589.03,374.03 589.37,374.18 589.72,374.24 590.06,374.42 590.41,374.46 590.75,373.97 591.10,373.97 591.43,374.08 591.77,374.10 592.10,374.03 592.43,374.08 592.77,374.89 593.10,374.94 593.43,374.25 593.77,374.28 594.10,374.27 594.43,374.31 594.75,374.75 595.08,374.90 595.40,375.15 595.73,375.38 596.05,375.90 596.38,376.14 596.70,375.63 597.02,375.82 597.35,376.13 597.67,376.23 598.00,376.20 598.34,376.18 598.69,376.48 599.03,376.38 599.38,376.13 599.72,375.99 600.07,375.82 600.41,375.71 600.76,376.07 601.10,376.05 601.43,375.83 601.77,375.78 602.10,375.88 602.43,375.77 602.77,375.74 603.10,375.61 603.43,374.86 603.77,374.74 604.10,375.24 604.43,375.16 604.77,374.63 605.10,374.62 605.44,374.29 605.78,374.26 606.12,375.00 606.47,374.95 606.81,374.16 607.15,374.09 607.49,373.95 607.83,373.89 608.18,374.08 608.52,374.04 608.86,374.02 609.20,374.01 609.53,374.68 609.87,374.84 610.20,375.01 610.53,375.32 610.87,375.24 611.20,375.55 611.53,375.90 611.87,376.07 612.20,376.41 612.53,376.36 612.87,376.15 613.20,375.90 613.53,375.45 613.87,375.12 614.20,374.69 614.53,374.43 614.87,373.91 615.20,373.85 615.54,373.98 615.88,374.00 616.23,374.42 616.57,374.47 616.91,374.46 617.25,374.53 617.59,374.79 617.93,374.85 618.27,374.99 618.62,375.03 618.96,375.11 619.30,375.12 619.63,374.45 619.97,374.53 620.30,374.55 620.63,374.72 620.97,375.65 621.30,375.86 621.63,375.77 621.97,375.96 622.30,375.78 622.63,375.91 622.97,376.45 623.30,376.47 623.64,376.08 623.98,376.08 624.32,376.06 624.66,376.06 625.00,376.18 625.34,376.18 625.68,376.32 626.02,376.32 626.36,376.46 626.70,376.46 627.04,375.92 627.38,375.92 627.72,376.52 628.06,376.52 628.40,376.41 628.73,376.39 629.07,376.20 629.40,376.11 629.73,376.18 630.07,376.05 630.40,376.02 630.73,375.88 631.07,375.03 631.40,374.92 631.73,375.25 632.07,375.20 632.40,375.36 632.74,375.37 633.08,375.41 633.42,375.44 633.76,375.42 634.10,375.46 634.44,375.08 634.78,375.14 635.12,375.89 635.46,375.94 635.80,375.83 636.14,375.87 636.48,375.41 636.82,375.44 637.16,375.63 637.50,375.64 637.84,376.12 638.18,376.15 638.52,375.51 638.86,375.57 639.19,375.81 639.53,375.89 639.87,376.48 640.21,376.57 640.55,376.61 640.89,376.71 641.23,376.20 641.57,376.28 641.91,376.82 642.24,376.88 642.58,376.60 642.92,376.64 643.26,376.94 643.60,376.95 643.93,377.02 644.27,376.97 644.60,376.30 644.93,376.19 645.27,376.14 645.60,376.00 645.93,375.85 646.27,375.72 646.60,375.65 646.93,375.56 647.27,375.30 647.60,375.28 647.94,375.34 648.28,375.26 648.62,375.37 648.97,375.19 649.31,375.00 649.65,374.78 649.99,374.25 650.33,374.05 650.68,374.32 651.02,374.19 651.36,374.43 651.70,374.40 652.05,374.14 652.40,374.34 652.75,374.45 653.10,374.84 653.45,375.58 653.80,376.02 654.15,376.17 654.50,376.48 654.85,376.44 655.20,376.51" class="tr"/>
<path d="M415.40,509.48 415.72,509.56 416.03,509.37 416.35,509.67 416.67,510.56 416.98,510.78 417.30,510.39 417.62,510.28 417.95,510.14 418.27,509.66 418.60,509.62 418.93,509.04 419.25,508.38 419.57,508.05 419.90,508.00 420.21,508.09 420.52,508.18 420.83,508.58 421.14,509.06 421.46,509.58 421.77,510.13 422.08,510.53 422.39,511.03 422.70,511.12 423.01,510.32 423.32,510.03 423.63,510.09 423.94,509.53 424.26,508.53 424.57,507.97 424.88,507.48 425.19,507.18 425.50,507.59 425.82,507.70 426.14,507.82 426.47,508.32 426.79,509.14 427.11,509.79 427.43,510.41 427.76,510.90 428.08,510.97 428.40,511.08 428.74,510.61 429.09,510.27 429.43,509.59 429.78,508.95 430.12,508.74 430.47,508.11 430.81,507.76 431.16,507.42 431.50,506.90 431.84,507.01 432.18,507.15 432.51,507.64 432.85,508.15 433.19,508.73 433.52,509.37 433.86,509.69 434.20,510.28 434.54,510.08 434.89,508.90 435.23,508.10 435.57,507.41 435.91,506.61 436.26,506.09 436.60,505.89 436.94,506.43 437.29,506.82 437.63,507.63 437.97,508.25 438.31,507.94 438.66,508.33 439.00,508.55 439.31,508.43 439.63,508.84 439.94,508.36 440.26,507.86 440.57,507.37 440.89,506.30 441.20,506.18 441.52,506.47 441.85,506.79 442.18,507.45 442.50,508.02 442.82,508.41 443.15,508.90 443.48,509.31 443.80,509.43 444.11,509.44 444.43,509.31 444.74,508.91 445.05,508.68 445.36,508.27 445.68,508.08 445.99,507.97 446.30,507.93 446.62,508.06 446.95,508.26 447.27,508.49 447.60,508.83 447.93,509.66 448.25,509.95 448.57,510.21 448.90,510.28 449.21,509.81 449.52,509.61 449.83,509.76 450.14,509.37 450.46,508.90 450.77,508.51 451.08,507.84 451.39,507.63 451.70,507.69 452.01,507.84 452.32,507.98 452.63,508.62 452.94,510.07 453.26,510.90 453.57,511.35 453.88,511.99 454.19,511.95 454.50,512.10 454.82,512.10 455.15,511.84 455.48,511.93 455.80,511.47 456.12,510.74 456.45,510.35 456.78,510.39 457.10,510.30 457.41,510.01 457.73,510.42 458.04,511.53 458.36,512.20 458.67,512.81 458.99,513.22 459.30,512.73 459.65,512.51 460.00,512.33 460.35,511.48 460.70,510.27 461.05,509.65 461.40,509.89 461.74,509.93 462.09,510.12 462.43,510.28 462.77,510.45 463.11,510.61 463.46,510.22 463.80,510.26 464.11,510.05 464.42,509.81 464.73,509.95 465.04,509.49 465.36,508.92 465.67,508.46 465.98,507.70 466.29,507.46 466.60,507.42 466.93,507.56 467.25,508.30 467.57,508.89 467.90,509.15 468.23,509.84 468.55,510.89 468.88,511.28 469.20,511.07 469.54,510.87 469.89,510.33 470.23,509.53 470.57,508.79 470.91,507.98 471.26,507.53 471.60,507.33 471.94,507.63 472.29,508.02 472.63,507.98 472.98,508.70 473.32,510.08 473.67,510.80 474.01,510.93 474.36,511.32 474.70,511.51 475.04,511.33 475.39,511.15 475.73,510.43 476.07,509.67 476.41,508.95 476.76,508.38 477.10,508.20 477.43,508.57 477.77,508.88 478.10,508.73 478.43,509.32 478.77,510.04 479.10,510.63 479.43,511.43 479.77,511.74 480.10,511.48 480.43,511.38 480.77,510.99 481.10,510.54 481.43,510.05 481.77,509.46 482.10,509.39 482.43,508.94 482.77,508.70 483.10,508.59 483.44,508.60 483.79,508.92 484.13,509.61 484.48,510.20 484.82,510.68 485.17,511.26 485.51,511.31 485.86,511.62 486.20,511.73 486.53,511.63 486.86,511.71 487.19,511.25 487.52,510.08 487.85,509.45 488.18,509.31 488.51,508.74 488.84,507.82 489.17,507.53 489.50,507.39 489.83,507.49 490.17,508.19 490.50,508.61 490.83,508.81 491.17,509.36 491.50,510.59 491.83,511.01 492.17,511.24 492.50,511.34 492.84,510.93 493.18,510.84 493.52,510.46 493.86,510.28 494.20,510.01 494.54,509.81 494.88,509.97 495.22,509.83 495.56,509.75 495.90,509.72 496.24,509.63 496.57,509.77 496.91,510.30 497.25,510.54 497.59,510.63 497.93,510.84 498.26,511.20 498.60,511.25 498.94,510.60 499.28,510.48 499.62,510.26 499.96,510.03 500.30,510.05 500.64,509.79 500.98,509.64 501.32,509.45 501.66,509.12 502.00,509.08 502.34,509.53 502.68,509.74 503.01,509.67 503.35,510.05 503.69,510.52 504.02,510.84 504.36,511.20 504.70,511.28 505.04,511.43 505.38,511.23 505.72,510.99 506.06,510.61 506.40,509.83 506.74,509.42 507.08,509.11 507.42,508.81 507.76,509.05 508.10,508.98 508.44,509.05 508.78,509.22 509.11,509.20 509.45,509.51 509.79,509.35 510.12,509.61 510.46,510.10 510.80,510.16 511.14,510.27 511.48,510.10 511.82,509.53 512.16,509.21 512.50,508.63 512.84,508.28 513.18,508.81 513.52,508.55 513.86,508.32 514.20,508.27 514.54,507.61 514.88,507.74 515.22,508.24 515.56,508.49 515.90,508.91 516.24,509.19 516.58,509.15 516.92,509.35 517.26,509.27 517.60,509.31 517.94,509.88 518.28,509.75 518.62,509.57 518.96,509.32 519.30,508.74 519.64,508.47 519.98,507.90 520.32,507.70 520.66,507.85 521.00,507.80 521.33,507.58 521.67,507.71 522.00,508.67 522.33,508.84 522.67,508.15 523.00,508.20 523.31,508.30 523.62,507.97 523.94,507.92 524.25,507.34 524.56,506.20 524.88,505.71 525.19,505.36 525.50,505.25 525.84,505.35 526.17,505.76 526.51,506.44 526.85,507.15 527.19,508.19 527.53,508.79 527.86,509.46 528.20,509.60 528.53,508.89 528.87,508.57 529.20,508.08 529.53,507.48 529.87,507.37 530.20,506.76 530.53,505.97 530.87,505.64 531.20,505.45 531.54,505.61 531.88,505.86 532.21,506.53 532.55,507.42 532.89,508.20 533.23,509.52 533.56,509.97 533.90,509.36 534.24,509.18 534.58,508.82 534.91,508.09 535.25,507.67 535.59,506.81 535.92,506.21 536.26,505.72 536.60,505.56 536.94,505.74 537.27,505.83 537.61,506.56 537.95,507.86 538.29,508.72 538.62,509.13 538.96,509.62 539.30,509.51 539.61,509.40 539.92,509.22 540.23,508.72 540.54,508.32 540.86,507.66 541.17,507.06 541.48,506.56 541.79,505.68 542.10,505.57 542.44,505.75 542.77,506.12 543.11,507.36 543.45,508.01 543.79,507.90 544.12,508.45 544.46,509.45 544.80,509.58 545.14,509.03 545.47,508.69 545.81,508.09 546.15,507.47 546.49,506.87 546.83,506.35 547.16,506.19 547.50,506.07 547.84,506.64 548.17,506.91 548.51,506.56 548.85,507.03 549.19,508.15 549.53,508.55 549.86,508.34 550.20,508.44 550.54,508.23 550.88,508.00 551.21,508.17 551.55,507.77 551.89,507.01 552.23,506.66 552.56,506.30 552.90,506.22 553.21,506.51 553.52,506.75 553.83,507.49 554.14,507.95 554.46,508.47 554.77,508.93 555.08,509.04 555.39,509.28 555.70,508.86 556.04,508.77 556.38,509.20 556.71,508.83 557.05,508.25 557.39,507.81 557.73,507.70 558.06,507.45 558.40,507.41 558.74,507.46 559.08,507.03 559.41,507.25 559.75,507.96 560.09,508.21 560.42,508.40 560.76,508.54 561.10,508.09 561.44,508.07 561.78,508.10 562.12,508.01 562.46,507.91 562.80,507.79 563.14,507.64 563.48,507.53 563.82,507.47 564.16,507.41 564.50,507.15 564.83,507.38 565.17,508.13 565.50,509.00 565.83,510.49 566.17,511.13 566.50,510.92 566.80,510.70 567.10,510.28 567.40,509.37 567.70,508.60 568.00,507.70 568.30,506.95 568.60,506.73 568.94,506.44 569.27,506.93 569.61,508.27 569.95,509.13 570.29,509.88 570.62,510.61 570.96,511.27 571.30,511.44 571.64,511.09 571.97,510.75 572.31,510.27 572.65,509.68 572.99,509.14 573.33,508.64 573.66,507.80 574.00,507.68 574.32,508.17 574.65,508.54 574.97,508.84 575.30,509.49 575.62,510.55 575.95,511.10 576.27,510.83 576.60,510.96 576.93,511.20 577.26,510.83 577.60,510.10 577.93,509.46 578.27,509.25 578.60,508.70 578.94,507.91 579.27,507.78 579.62,508.37 579.97,508.76 580.32,509.35 580.67,510.04 581.01,510.77 581.36,511.35 581.71,511.08 582.06,511.22 582.40,511.83 582.75,511.51 583.09,510.86 583.43,510.30 583.77,509.69 584.12,509.21 584.46,508.87 584.80,508.76 585.14,508.31 585.47,508.56 585.81,509.68 586.14,510.12 586.48,510.28 586.81,510.65 587.15,510.82 587.48,510.91 587.80,510.72 588.13,510.46 588.45,510.48 588.78,510.04 589.10,509.59 589.43,509.21 589.75,509.03 590.08,508.94 590.40,508.44 590.73,508.68 591.05,509.17 591.38,509.62 591.70,510.03 592.02,510.49 592.35,510.72 592.67,510.97 593.00,511.25 593.31,511.15 593.63,510.56 593.94,510.10 594.26,510.25 594.57,509.70 594.89,508.72 595.20,508.41 595.52,508.16 595.84,508.25 596.17,508.52 596.49,508.93 596.81,510.05 597.14,510.59 597.46,510.60 597.79,511.02 598.11,511.52 598.43,511.62 598.75,511.42 599.07,511.03 599.38,510.80 599.70,510.10 600.02,509.54 600.34,508.95 600.65,507.98 600.97,507.84 601.29,508.28 601.62,508.72 601.94,509.62 602.27,510.39 602.59,510.79 602.92,511.45 603.24,512.27 603.56,512.43 603.91,512.11 604.26,511.63 604.60,510.54 604.95,509.70 605.30,509.37 605.64,508.65 605.99,507.91 606.34,507.74 606.67,507.45 607.00,507.82 607.33,508.80 607.66,509.45 607.99,510.32 608.32,510.87 608.65,510.96 608.99,511.09 609.31,510.98 609.63,510.74 609.96,510.31 610.28,509.87 610.60,509.81 610.93,509.36 611.25,508.80 611.57,508.56 611.89,508.07 612.22,508.17 612.55,508.61 612.88,509.07 613.21,509.60 613.54,510.14 613.87,511.12 614.20,511.43 614.52,511.30 614.85,511.18 615.18,510.32 615.51,509.80 615.84,509.90 616.17,509.29 616.50,507.98 616.83,507.64 617.16,508.02 617.49,508.15 617.81,508.40 618.14,508.99 618.47,509.94 618.79,510.63 619.12,510.96 619.44,511.36 619.77,511.19 620.11,511.08 620.45,511.15 620.80,510.67 621.14,510.38 621.48,509.82 621.83,509.31 622.17,509.00 622.51,508.50 622.86,508.61 623.20,508.83 623.55,509.33 623.90,510.39 624.24,510.98 624.59,511.53 624.93,511.87 625.28,511.46 625.62,511.33 625.97,511.56 626.31,511.01 626.65,510.46 627.00,509.81 627.34,508.76 627.68,508.39 628.03,508.21 628.35,508.33 628.68,508.97 629.01,509.47 629.33,510.27 629.66,510.87 629.99,510.72 630.31,511.06 630.64,511.27 630.95,511.15 631.27,510.86 631.58,510.37 631.89,510.13 632.21,509.49 632.52,508.39 632.83,507.90 633.15,507.90 633.46,507.79 633.79,507.88 634.13,508.25 634.46,508.96 634.79,509.62 635.12,509.81 635.46,510.37 635.79,511.48 636.12,511.61 636.47,511.53 636.82,511.19 637.17,510.29 637.52,509.69 637.87,509.30 638.21,508.79 638.56,507.90 638.91,507.79 639.23,508.58 639.54,508.98 639.86,509.26 640.17,509.97 640.49,510.86 640.81,511.46 641.12,511.96 641.44,512.10 641.77,511.49 642.10,511.03 642.43,510.84 642.76,510.03 643.09,508.58 643.42,507.89 643.75,507.26 644.09,507.10 644.41,507.65 644.73,507.98 645.05,508.86 645.37,509.49 645.69,510.16 646.01,510.79 646.33,511.36 646.66,511.70 646.98,511.41 647.30,511.30 647.63,511.37 647.96,510.90 648.29,510.01 648.61,509.46 648.94,508.62 649.27,508.30 649.60,508.63 649.94,508.72 650.29,509.14 650.63,509.54 650.97,509.66 651.32,510.13 651.66,510.69 652.01,510.95 652.35,510.73 652.68,510.61 653.02,510.29 653.35,509.77 653.69,509.30 654.02,508.69 654.35,508.26 654.69,507.92 655.02,507.76" class="tr"/>
<path d="M415.40,640.73 415.70,640.62 416.00,640.26 416.30,639.97 416.60,640.16 416.92,640.36 417.23,641.25 417.55,642.00 417.87,642.77 418.18,643.32 418.50,643.06 418.84,642.89 419.19,642.40 419.53,641.68 419.87,641.11 420.21,640.39 420.56,639.59 420.90,639.41 421.23,639.93 421.57,640.33 421.90,641.21 422.23,641.96 422.57,642.13 422.90,642.88 423.23,643.84 423.57,644.24 423.90,644.50 424.23,644.38 424.57,644.06 424.90,643.52 425.23,642.84 425.57,642.14 425.90,641.49 426.23,640.96 426.57,640.22 426.90,640.10 427.24,640.76 427.59,641.21 427.93,641.93 428.27,642.64 428.61,642.49 428.96,642.94 429.30,643.90 429.64,643.81 429.98,643.09 430.32,642.67 430.66,641.81 431.00,641.23 431.34,640.63 431.68,640.10 432.02,640.33 432.36,640.06 432.70,639.86 433.00,640.07 433.30,640.17 433.60,641.01 433.90,642.23 434.20,643.07 434.50,643.82 434.80,644.02 435.13,644.21 435.47,643.82 435.80,642.63 436.13,641.89 436.47,641.50 436.80,640.76 437.13,639.70 437.47,639.31 437.80,639.13 438.11,639.26 438.43,639.60 438.74,640.14 439.06,640.97 439.37,641.51 439.69,642.07 440.00,642.21 440.34,641.81 440.69,641.51 441.03,640.94 441.37,640.45 441.71,640.06 442.06,639.76 442.40,639.53 442.72,639.59 443.05,639.86 443.38,640.12 443.70,640.53 444.02,640.84 444.35,641.27 444.68,641.44 445.00,641.22 445.34,641.16 445.69,641.27 446.03,641.03 446.38,640.70 446.72,640.39 447.07,640.58 447.41,640.34 447.76,639.74 448.10,639.69 448.40,640.24 448.70,640.63 449.00,640.72 449.30,641.25 449.60,641.39 449.90,641.53 450.23,641.87 450.57,641.85 450.90,641.41 451.23,641.36 451.57,641.33 451.90,641.28 452.23,641.15 452.57,641.13 452.90,641.68 453.24,641.71 453.59,642.03 453.93,642.15 454.27,641.78 454.61,641.90 454.96,641.94 455.30,641.97 455.60,642.13 455.90,642.38 456.20,642.67 456.50,643.02 456.80,643.58 457.10,643.67 457.44,643.28 457.79,642.95 458.13,642.25 458.47,641.72 458.81,641.88 459.16,641.55 459.50,641.17 459.82,641.31 460.13,641.21 460.45,641.76 460.77,643.06 461.08,643.47 461.40,643.51 461.74,643.36 462.09,642.60 462.43,642.00 462.77,641.58 463.11,640.98 463.46,640.83 463.80,640.68 464.13,640.33 464.47,640.66 464.80,641.14 465.13,641.59 465.47,641.80 465.80,641.92 466.12,642.07 466.44,641.82 466.76,641.55 467.08,641.07 467.40,640.61 467.72,640.09 468.04,639.81 468.36,639.43 468.68,638.46 469.00,638.38 469.33,638.77 469.67,639.28 470.00,640.42 470.33,641.12 470.67,641.57 471.00,641.76 471.31,641.54 471.62,641.44 471.93,641.36 472.24,641.16 472.56,640.65 472.87,640.46 473.18,640.84 473.49,640.74 473.80,640.34 474.15,640.47 474.50,640.66 474.85,641.11 475.20,641.36 475.55,641.69 475.90,641.75 476.23,641.69 476.57,642.20 476.90,641.91 477.23,641.46 477.57,641.08 477.90,640.02 478.23,639.73 478.57,639.81 478.90,639.74 479.24,639.99 479.59,640.30 479.93,640.75 480.27,641.24 480.61,641.56 480.96,641.87 481.30,642.46 481.64,642.36 481.98,641.59 482.32,641.16 482.66,640.78 483.00,640.18 483.34,639.93 483.68,639.39 484.02,638.70 484.36,638.42 484.70,638.18 485.03,638.48 485.37,639.17 485.70,640.30 486.03,641.47 486.37,642.30 486.70,642.80 487.01,642.66 487.32,642.43 487.64,641.85 487.95,640.68 488.26,640.00 488.57,639.51 488.89,639.12 489.20,639.00 489.53,639.13 489.86,639.49 490.19,640.06 490.52,641.22 490.85,641.89 491.18,642.12 491.51,642.50 491.84,642.40 492.19,642.26 492.54,641.91 492.89,641.32 493.24,641.06 493.58,640.36 493.93,639.17 494.28,638.78 494.63,639.11 494.96,639.25 495.29,639.03 495.63,639.60 495.96,640.42 496.29,641.09 496.62,641.54 496.95,641.92 497.29,642.73 497.60,642.61 497.92,641.68 498.24,641.17 498.55,640.62 498.87,639.96 499.18,639.18 499.50,638.67 499.82,638.52 500.13,638.40 500.46,638.98 500.79,639.40 501.11,640.03 501.44,640.78 501.77,641.71 502.10,642.35 502.42,642.81 502.75,642.96 503.09,642.47 503.43,642.10 503.77,641.89 504.10,641.24 504.44,639.84 504.78,639.29 505.12,639.67 505.46,639.54 505.81,639.24 506.16,639.65 506.51,640.04 506.85,640.77 507.20,641.99 507.55,642.60 507.90,643.10 508.25,643.25 508.56,642.64 508.87,642.13 509.18,641.09 509.49,640.19 509.80,639.98 510.11,639.21 510.42,638.59 510.74,638.41 511.05,638.41 511.36,638.81 511.67,639.77 511.99,640.53 512.30,640.50 512.61,641.26 512.92,641.89 513.24,642.30 513.55,642.50 513.88,642.35 514.21,641.83 514.54,641.19 514.87,641.06 515.20,640.30 515.53,639.59 515.86,639.17 516.19,638.55 516.51,638.70 516.84,639.16 517.16,639.79 517.49,640.54 517.81,641.28 518.14,642.29 518.46,642.70 518.79,642.91 519.11,642.79 519.43,642.71 519.75,642.17 520.07,640.97 520.39,640.28 520.72,640.18 521.04,639.65 521.36,638.81 521.68,638.69 522.00,638.80 522.32,639.24 522.63,639.76 522.95,640.52 523.27,641.27 523.59,641.91 523.91,643.01 524.22,643.16 524.55,643.05 524.87,642.67 525.19,641.82 525.51,641.10 525.83,639.86 526.15,639.14 526.47,638.56 526.79,638.18 527.11,638.02 527.43,638.19 527.75,638.84 528.08,639.54 528.40,640.72 528.72,641.55 529.04,641.64 529.36,642.11 529.68,642.70 530.00,642.57 530.31,642.31 530.63,641.70 530.94,640.38 531.26,639.59 531.57,639.22 531.89,638.61 532.20,638.54 532.52,638.40 532.85,638.41 533.19,639.01 533.53,639.78 533.86,640.83 534.20,642.26 534.54,643.14 534.87,643.48 535.21,643.69 535.53,643.26 535.85,642.70 536.17,641.92 536.49,640.94 536.81,640.46 537.13,639.63 537.45,639.00 537.77,638.80 538.09,638.99 538.41,639.38 538.72,639.67 539.04,640.41 539.35,640.82 539.67,641.57 539.98,642.20 540.30,642.59 540.62,642.92 540.93,642.71 541.24,642.40 541.55,641.53 541.86,639.88 542.17,638.85 542.48,638.69 542.79,638.11 543.10,637.89 543.44,638.08 543.78,638.40 544.12,639.24 544.46,639.77 544.80,640.76 545.14,642.31 545.48,642.87 545.82,642.72 546.17,642.56 546.51,642.32 546.86,641.63 547.21,640.73 547.55,639.91 547.90,639.36 548.25,638.90 548.60,638.45 548.92,638.63 549.25,639.65 549.58,640.42 549.91,641.33 550.24,642.25 550.57,643.00 550.90,643.52 551.23,643.42 551.57,643.24 551.92,642.49 552.26,641.76 552.60,640.95 552.95,640.10 553.29,639.27 553.63,638.78 553.98,639.18 554.32,639.34 554.66,639.70 555.00,640.38 555.35,641.19 555.69,641.99 556.03,642.71 556.38,643.17 556.72,643.48 557.06,643.27 557.40,642.41 557.75,641.54 558.09,640.17 558.43,639.14 558.77,638.66 559.11,638.07 559.46,637.42 559.79,637.63 560.13,638.55 560.46,639.46 560.80,640.12 561.13,641.19 561.47,642.72 561.80,643.33 562.14,643.21 562.45,643.01 562.77,642.25 563.08,641.40 563.40,640.98 563.72,639.98 564.03,638.37 564.35,637.80 564.67,638.37 564.99,638.54 565.31,638.88 565.64,639.64 565.96,640.03 566.29,641.02 566.61,642.50 566.94,643.27 567.26,643.59 567.58,643.77 567.92,643.84 568.26,643.19 568.60,641.94 568.94,640.79 569.27,639.51 569.61,638.54 569.95,638.35 570.29,638.12 570.61,637.56 570.93,638.14 571.26,639.63 571.58,640.65 571.90,641.06 572.22,641.93 572.55,642.66 572.87,642.86 573.22,642.55 573.56,642.08 573.91,642.05 574.25,641.21 574.60,639.99 574.95,639.28 575.29,639.07 575.64,638.90 575.96,638.63 576.27,639.06 576.59,640.12 576.91,640.88 577.22,641.57 577.54,642.21 577.85,642.14 578.17,642.29 578.51,642.49 578.85,642.05 579.19,641.59 579.53,640.81 579.88,639.57 580.22,638.91 580.56,638.86 580.90,638.70 581.23,638.53 581.57,639.01 581.90,639.82 582.23,640.67 582.57,642.01 582.90,642.73 583.23,643.23 583.57,643.40 583.91,643.29 584.25,642.84 584.59,641.65 584.93,640.85 585.27,640.18 585.61,639.50 585.95,639.26 586.30,639.10 586.64,639.20 586.99,639.63 587.33,639.98 587.68,640.72 588.02,641.83 588.37,642.46 588.71,642.47 589.06,642.61 589.38,642.99 589.69,642.65 590.01,641.70 590.33,641.06 590.64,640.06 590.96,639.43 591.28,639.47 591.60,639.14 591.91,638.47 592.24,638.57 592.56,639.31 592.88,639.70 593.21,639.59 593.53,640.06 593.85,641.29 594.18,641.55 594.50,641.24 594.81,641.20 595.12,641.27 595.44,641.11 595.75,640.37 596.06,640.18 596.38,640.47 596.69,640.36 597.00,640.09 597.31,640.13 597.62,640.15 597.94,640.34 598.25,641.08 598.56,641.31 598.88,640.80 599.19,640.93 599.50,641.38 599.81,641.34 600.12,640.88 600.44,640.72 600.75,641.22 601.06,641.02 601.38,640.90 601.69,640.79 602.00,639.98 602.32,640.09 602.65,640.78 602.97,641.24 603.30,641.79 603.62,642.33 603.95,643.01 604.27,643.32 604.59,643.44 604.94,643.27 605.28,642.44 605.63,641.72 605.97,641.40 606.32,640.55 606.66,639.15 607.01,638.67 607.35,638.46 607.68,638.62 608.01,639.68 608.34,640.35 608.67,640.52 609.00,641.32 609.33,642.05 609.66,642.50 609.99,642.94 610.32,642.80 610.64,642.23 610.97,641.59 611.30,640.64 611.63,639.80 611.96,639.70 612.29,639.05 612.62,638.22 612.95,638.08 613.27,638.54 613.58,639.08 613.90,639.41 614.22,640.35 614.54,641.90 614.86,642.71 615.18,642.62 615.50,642.81 615.82,643.27 616.14,642.83 616.46,641.90 616.79,641.12 617.11,640.66 617.43,640.00 617.76,639.38 618.08,639.22 618.42,639.24 618.77,639.67 619.11,640.22 619.46,640.98 619.80,642.02 620.14,642.66 620.49,642.72 620.83,642.87 621.16,642.37 621.50,641.85 621.83,641.81 622.16,640.89 622.50,639.88 622.83,639.10 623.16,638.47 623.50,638.29 623.82,638.48 624.15,638.86 624.48,638.99 624.80,639.71 625.13,640.69 625.46,641.41 625.78,642.32 626.11,642.71 626.44,642.97 626.74,642.81 627.05,642.33 627.36,641.67 627.66,640.20 627.97,639.42 628.28,639.23 628.59,638.79 628.89,638.52 629.23,638.69 629.56,639.07 629.89,639.83 630.23,640.51 630.56,641.41 630.89,642.14 631.23,642.64 631.56,643.12 631.89,642.98 632.22,642.60 632.55,641.97 632.88,641.01 633.22,640.19 633.55,639.52 633.88,638.90 634.21,638.66 634.54,638.52 634.87,638.90 635.20,639.44 635.52,640.11 635.85,641.07 636.18,641.65 636.51,642.47 636.83,643.67 637.16,643.87 637.48,643.22 637.81,642.70 638.13,642.47 638.46,641.56 638.78,640.67 639.11,639.90 639.43,638.63 639.76,638.45 640.07,638.97 640.39,639.31 640.70,640.18 641.01,640.82 641.33,640.98 641.64,641.63 641.95,642.30 642.27,642.64 642.58,642.55 642.92,642.39 643.26,641.67 643.59,640.98 643.93,640.32 644.27,639.51 644.61,638.75 644.95,638.29 645.28,638.27 645.60,638.44 645.92,639.23 646.23,639.95 646.55,640.74 646.87,641.59 647.18,642.66 647.50,643.14 647.82,643.07 648.14,642.93 648.47,642.22 648.79,641.59 649.12,641.34 649.44,640.51 649.77,639.45 650.09,638.82 650.42,638.32 650.75,638.18 651.08,638.67 651.41,639.25 651.74,639.95 652.07,640.98 652.40,641.72 652.73,642.59 653.06,643.40 653.39,643.60" class="tr"/>
<path d="M415.84,771.52 416.16,771.72 416.48,772.90 416.80,773.75 417.11,774.11 417.43,775.12 417.75,776.63 418.07,777.20 418.39,776.58 418.73,776.36 419.07,775.68 419.41,774.76 419.75,774.24 420.09,773.33 420.43,772.39 420.77,772.16 421.08,772.56 421.40,772.93 421.71,773.14 422.02,773.83 422.34,775.22 422.65,775.91 422.96,776.32 423.28,776.69 423.59,776.83 423.92,776.71 424.24,776.57 424.57,776.03 424.89,775.42 425.22,774.71 425.54,773.76 425.87,773.21 426.19,772.89 426.52,772.77 426.83,772.34 427.15,772.94 427.46,773.88 427.78,774.94 428.10,776.34 428.41,777.24 428.73,778.32 429.04,778.53 429.38,777.75 429.71,777.17 430.04,776.53 430.38,775.45 430.71,773.80 431.04,772.72 431.38,772.21 431.71,771.64 432.04,771.88 432.37,772.21 432.70,772.84 433.03,774.16 433.36,775.84 433.69,777.16 434.02,777.35 434.34,777.67 434.67,777.63 434.99,777.04 435.32,776.13 435.64,775.08 435.96,774.62 436.29,773.74 436.61,772.49 436.94,772.28 437.27,773.19 437.60,773.65 437.93,773.75 438.27,774.57 438.60,775.94 438.93,776.64 439.26,776.78 439.60,776.94 439.94,776.62 440.28,776.19 440.63,776.12 440.97,775.31 441.32,773.95 441.66,773.15 442.00,772.76 442.35,772.33 442.69,771.62 443.04,771.91 443.38,773.42 443.73,774.61 444.07,776.06 444.42,777.25 444.77,777.29 445.11,777.58 445.43,777.97 445.75,777.45 446.07,776.23 446.39,775.26 446.71,774.11 447.02,773.14 447.34,772.54 447.66,772.02 447.98,772.11 448.30,772.29 448.63,773.07 448.95,773.85 449.28,774.80 449.60,775.72 449.92,776.49 450.25,777.01 450.57,776.86 450.91,776.67 451.26,776.13 451.60,775.29 451.95,773.85 452.29,772.86 452.63,772.52 452.98,771.96 453.32,771.61 453.63,771.84 453.94,772.35 454.25,773.36 454.57,775.04 454.88,776.23 455.19,776.66 455.50,777.33 455.81,777.47 456.13,777.31 456.45,776.89 456.77,776.21 457.08,775.37 457.40,774.49 457.72,774.05 458.04,773.38 458.36,773.13 458.67,772.97 459.01,772.56 459.34,773.05 459.68,774.07 460.01,774.92 460.35,775.84 460.68,776.56 461.02,777.02 461.36,777.19 461.70,776.78 462.05,775.99 462.40,774.97 462.75,773.71 463.09,772.10 463.44,771.31 463.79,771.07 464.12,771.24 464.46,772.07 464.79,772.84 465.12,773.62 465.46,774.62 465.79,776.03 466.13,776.80 466.46,776.84 466.79,777.01 467.11,777.27 467.42,776.52 467.74,774.92 468.06,773.71 468.37,772.50 468.69,771.75 469.00,771.83 469.33,772.02 469.67,772.48 470.00,773.28 470.33,774.19 470.67,775.14 471.00,776.33 471.33,776.87 471.67,776.57 472.01,776.41 472.35,776.36 472.69,775.66 473.03,774.95 473.37,774.04 473.71,772.84 474.05,772.14 474.39,771.73 474.73,771.57 475.07,772.15 475.41,772.72 475.74,773.29 476.08,774.30 476.41,774.93 476.75,775.79 477.09,776.26 477.42,776.46 477.74,776.27 478.06,775.68 478.39,775.03 478.71,774.00 479.03,772.75 479.35,771.87 479.67,771.79 479.99,771.58 480.32,771.60 480.65,772.22 480.97,773.04 481.30,774.14 481.63,775.41 481.95,776.34 482.28,777.34 482.60,777.56 482.94,776.72 483.28,776.11 483.61,775.15 483.95,774.17 484.29,773.43 484.62,772.82 484.96,772.62 485.30,772.78 485.64,773.77 485.98,774.48 486.32,775.18 486.66,776.11 487.00,776.73 487.34,777.44 487.68,777.67 488.01,777.83 488.33,777.55 488.65,777.03 488.96,776.30 489.28,775.33 489.60,774.94 489.91,773.97 490.23,772.99 490.54,772.47 490.86,771.85 491.19,772.05 491.52,773.02 491.85,773.86 492.18,774.33 492.51,775.31 492.84,776.55 493.17,777.11 493.50,777.15 493.82,776.87 494.15,775.88 494.47,774.76 494.80,774.09 495.13,772.96 495.45,772.16 495.78,771.89 496.12,771.90 496.46,772.48 496.80,773.04 497.14,774.05 497.48,775.52 497.82,776.39 498.16,776.75 498.50,776.95 498.82,777.03 499.13,776.64 499.45,775.54 499.77,774.82 500.08,774.79 500.40,774.07 500.72,772.67 501.04,772.29 501.35,772.36 501.67,772.52 502.00,773.16 502.32,773.88 502.64,774.54 502.96,775.39 503.28,776.01 503.60,776.49 503.93,777.19 504.26,777.07 504.59,776.97 504.92,776.41 505.25,775.12 505.58,774.38 505.91,773.63 506.24,773.06 506.57,773.06 506.90,772.93 507.24,772.74 507.58,773.35 507.93,774.40 508.27,775.37 508.61,776.51 508.96,777.12 509.30,777.11 509.63,776.96 509.95,776.27 510.28,775.59 510.61,774.68 510.93,773.79 511.26,773.38 511.59,772.71 511.92,772.67 512.24,772.51 512.58,772.65 512.91,773.21 513.25,773.32 513.58,774.31 513.92,775.67 514.25,776.52 514.59,777.07 514.93,777.27 515.27,776.75 515.62,776.04 515.97,775.45 516.32,774.32 516.67,773.15 517.02,772.44 517.37,772.48 517.71,772.73 518.05,773.00 518.38,774.05 518.72,775.79 519.06,776.84 519.40,777.46 519.74,777.72 520.08,777.22 520.43,776.66 520.78,775.53 521.12,774.54 521.47,773.87 521.82,773.03 522.16,772.15 522.51,771.96 522.85,772.59 523.19,772.97 523.52,773.55 523.86,774.26 524.20,774.91 524.54,775.61 524.88,776.55 525.22,776.92 525.55,776.22 525.86,776.07 526.17,776.25 526.48,775.61 526.79,774.94 527.10,774.19 527.41,772.94 527.72,772.51 528.03,772.55 528.37,772.74 528.72,773.05 529.06,773.87 529.40,775.31 529.74,776.27 530.08,777.21 530.42,777.76 530.76,777.61 531.09,777.41 531.42,777.15 531.75,776.30 532.08,774.99 532.42,773.98 532.75,773.44 533.08,772.86 533.41,772.27 533.73,772.42 534.04,773.49 534.36,774.16 534.67,774.49 534.99,775.36 535.30,775.79 535.62,776.45 535.93,776.97 536.25,777.12 536.56,777.51 536.88,777.01 537.20,776.37 537.52,775.48 537.83,774.38 538.15,773.62 538.47,772.68 538.79,772.50 539.10,773.31 539.41,773.76 539.73,774.30 540.04,775.11 540.35,775.37 540.66,776.05 540.98,776.74 541.29,776.90 541.60,777.00 541.92,776.55 542.23,775.25 542.54,774.40 542.85,773.53 543.17,772.67 543.48,772.26 543.79,771.80 544.10,772.11 544.42,772.28 544.73,772.89 545.05,773.65 545.36,773.98 545.67,774.97 545.99,776.43 546.30,777.20 546.62,777.58 546.93,777.75 547.24,777.60 547.55,776.96 547.86,775.74 548.17,774.61 548.48,773.81 548.79,772.85 549.11,771.91 549.42,771.69 549.75,772.19 550.09,772.84 550.43,773.47 550.77,774.63 551.11,775.44 551.45,776.42 551.79,777.36 552.13,777.59 552.48,777.35 552.83,776.77 553.17,775.76 553.52,774.73 553.87,773.73 554.22,772.86 554.57,772.40 554.92,772.19 555.24,772.46 555.56,773.01 555.88,773.52 556.21,774.50 556.53,775.54 556.85,776.37 557.17,777.13 557.49,777.33 557.82,777.18 558.14,776.73 558.47,775.98 558.79,775.15 559.12,774.49 559.44,773.65 559.77,772.55 560.09,772.10 560.41,772.26 560.74,772.47 561.07,772.83 561.40,773.72 561.73,775.22 562.06,776.26 562.39,777.09 562.72,777.69 563.05,777.96 563.38,777.66 563.71,776.56 564.04,775.32 564.37,773.69 564.70,772.45 565.03,772.20 565.36,771.89 565.70,771.70 566.04,772.22 566.38,772.89 566.73,773.87 567.07,774.83 567.41,775.81 567.76,776.70 568.10,777.22 568.44,777.68 568.75,777.39 569.07,776.68 569.38,775.52 569.69,773.92 570.01,772.75 570.32,772.17 570.63,771.88 570.95,771.57 571.27,772.01 571.58,772.91 571.90,773.75 572.22,774.56 572.54,775.40 572.86,776.03 573.17,776.48 573.49,776.68 573.81,776.53 574.13,776.46 574.45,775.82 574.77,775.05 575.09,774.29 575.41,773.18 575.73,772.75 576.04,772.63 576.37,772.74 576.70,773.58 577.02,774.09 577.35,774.60 577.67,775.28 578.00,775.93 578.33,776.44 578.65,776.74 578.98,776.86 579.29,776.76 579.60,776.33 579.91,775.29 580.23,774.47 580.54,773.42 580.85,772.61 581.16,772.21 581.48,771.78 581.79,771.34 582.11,771.53 582.43,772.92 582.75,773.75 583.07,774.33 583.39,775.31 583.71,776.27 584.03,776.82 584.35,777.28 584.69,777.04 585.02,776.21 585.35,775.23 585.69,773.62 586.02,772.63 586.35,772.05 586.69,771.80 587.00,771.75 587.32,772.18 587.64,773.46 587.95,774.31 588.27,775.19 588.59,776.12 588.90,776.74 589.22,777.41 589.54,777.73 589.86,777.88 590.19,777.59 590.52,777.01 590.86,776.33 591.19,775.31 591.52,774.48 591.86,773.61 592.19,773.20 592.52,772.99 592.86,773.18 593.21,773.82 593.55,774.76 593.89,775.78 594.23,776.32 594.58,776.96 594.92,777.17 595.24,777.00 595.56,776.39 595.88,775.62 596.20,775.27 596.52,774.26 596.84,772.60 597.16,771.83 597.48,771.30 597.80,771.13 598.15,771.51 598.50,772.26 598.84,773.93 599.19,775.14 599.54,776.17 599.89,776.92 600.23,776.72 600.56,776.54 600.89,776.50 601.22,775.74 601.54,774.88 601.87,773.98 602.20,772.80 602.53,772.29 602.85,771.90 603.19,772.08 603.52,773.12 603.85,773.89 604.18,774.44 604.52,775.35 604.85,775.89 605.18,776.40 605.52,777.29 605.83,777.09 606.14,776.13 606.45,775.31 606.76,774.30 607.08,773.33 607.39,772.68 607.70,772.13 608.01,771.63 608.34,771.80 608.66,772.08 608.99,772.83 609.31,774.08 609.64,775.06 609.96,775.97 610.29,776.72 610.61,776.87 610.94,777.04 611.27,777.20 611.59,776.71 611.92,776.32 612.24,775.45 612.57,774.20 612.90,773.47 613.22,773.29 613.55,773.11 613.90,773.24 614.24,773.74 614.59,774.10 614.94,774.99 615.29,775.73 615.64,776.48 615.98,777.57 616.33,777.75 616.66,777.55 616.99,777.14 617.32,776.23 617.65,775.46 617.98,774.56 618.30,773.79 618.63,773.75 618.96,773.34 619.29,773.25 619.62,773.44 619.96,773.37 620.29,774.17 620.62,775.44 620.96,776.39 621.29,777.19 621.62,777.73 621.96,777.69 622.28,777.44 622.60,776.49 622.92,775.48 623.24,774.62 623.57,773.61 623.89,773.20 624.21,772.95 624.54,773.02 624.87,773.36 625.20,773.79 625.54,774.42 625.87,774.74 626.20,775.38 626.53,775.97 626.86,776.31 627.19,776.51 627.52,776.31 627.85,775.83 628.17,775.00 628.50,774.04 628.82,773.21 629.15,773.12 629.48,772.92 629.83,772.35 630.18,772.76 630.53,774.18 630.88,774.95 631.22,775.09 631.57,775.86 631.92,777.05 632.27,777.46 632.62,777.05 632.95,776.77 633.27,776.31 633.60,775.19 633.93,773.76 634.25,772.64 634.58,771.56 634.91,771.29 635.25,772.12 635.59,772.57 635.93,773.27 636.27,774.11 636.61,774.52 636.95,775.36 637.29,776.50 637.64,776.95 637.98,776.83 638.29,776.65 638.61,776.59 638.93,775.82 639.25,774.07 639.57,773.16 639.88,772.68 640.20,772.16 640.52,771.84 640.85,772.08 641.17,773.08 641.50,774.02 641.83,775.19 642.16,776.13 642.48,776.84 642.81,777.07 643.13,776.66 643.45,776.24 643.77,775.44 644.10,774.65 644.42,774.18 644.74,773.39 645.06,772.12 645.38,771.70 645.71,771.69 646.04,771.84 646.37,772.70 646.70,773.34 647.03,773.85 647.36,774.69 647.69,775.97 648.03,776.61 648.36,776.22 648.69,776.36 649.01,776.52 649.34,776.00 649.66,775.01 649.98,774.10 650.31,773.01 650.63,772.24 650.96,771.80 651.28,771.62 651.62,771.80 651.96,772.32 652.30,773.34 652.63,774.25 652.97,775.22 653.31,775.99 653.65,776.58 653.99,776.76" class="tr"/>
<path d="M415.80,905.39 416.12,905.39 416.44,905.88 416.76,906.05 417.08,906.04 417.40,906.14 417.72,906.60 418.04,906.60 418.36,905.85 418.68,905.84 419.00,906.16 419.32,906.17 419.64,906.13 419.96,906.07 420.28,905.88 420.60,905.81 420.92,906.19 421.24,906.16 421.56,905.56 421.88,905.57 422.20,906.18 422.52,906.22 422.84,905.86 423.16,906.00 423.48,906.12 423.80,906.22 424.12,906.49 424.44,906.42 424.76,906.25 425.08,906.13 425.40,905.81 425.72,905.75 426.04,905.48 426.36,905.37 426.68,906.07 427.00,906.00 427.32,905.46 427.64,905.52 427.96,905.39 428.28,905.50 428.60,906.07 428.92,906.12 429.24,906.03 429.56,906.03 429.88,905.85 430.20,905.86 430.52,905.85 430.84,905.80 431.16,906.19 431.48,906.11 431.80,905.57 432.12,905.50 432.44,905.52 432.76,905.49 433.08,905.97 433.40,905.98 433.72,905.47 434.04,905.51 434.36,905.59 434.68,905.65 435.00,905.49 435.32,905.55 435.64,906.06 435.96,906.10 436.28,906.11 436.60,906.07 436.92,905.82 437.24,905.77 437.56,905.69 437.88,905.64 438.20,905.45 438.52,905.43 438.84,905.93 439.16,905.96 439.48,905.71 439.80,905.78 440.12,906.22 440.44,906.37 440.76,906.11 441.08,906.23 441.40,906.59 441.72,906.55 442.04,905.79 442.36,905.63 442.68,905.65 443.00,905.54 443.32,906.16 443.64,906.15 443.96,905.92 444.28,905.95 444.60,905.99 444.92,906.01 445.24,905.86 445.56,905.86 445.88,905.86 446.20,905.89 446.52,905.70 446.84,905.74 447.16,905.75 447.48,905.74 447.80,906.12 448.12,906.03 448.44,905.94 448.76,905.81 449.08,905.31 449.40,905.25 449.72,905.61 450.04,905.67 450.36,905.31 450.68,905.41 451.00,905.93 451.32,905.98 451.64,905.61 451.96,905.60 452.28,905.88 452.60,905.86 452.92,905.70 453.24,905.78 453.56,906.08 453.88,906.13 454.20,905.74 454.52,905.67 454.84,905.91 455.16,905.86 455.48,905.97 455.80,906.00 456.12,905.60 456.44,905.61 456.76,905.76 457.08,905.76 457.40,906.11 457.72,906.16 458.04,906.09 458.36,906.12 458.68,906.19 459.00,906.14 459.32,906.25 459.64,906.26 459.96,906.11 460.28,906.15 460.60,905.85 460.92,905.81 461.24,905.90 461.56,905.78 461.88,906.05 462.20,906.07 462.52,905.94 462.84,906.12 463.16,906.47 463.48,906.60 463.80,906.28 464.12,906.21 464.44,906.15 464.76,906.00 465.08,906.33 465.40,906.24 465.72,906.07 466.04,906.06 466.36,905.93 466.68,905.97 467.00,905.53 467.32,905.62 467.64,906.21 467.96,906.35 468.28,905.95 468.60,906.00 468.92,906.79 469.24,906.70 469.56,906.60 469.88,906.46 470.20,906.14 470.52,906.08 470.84,905.62 471.16,905.60 471.48,906.11 471.80,906.12 472.12,905.56 472.44,905.64 472.76,906.33 473.08,906.43 473.40,906.24 473.72,906.32 474.04,905.95 474.36,906.03 474.68,906.86 475.00,906.84 475.32,906.34 475.64,906.15 475.96,906.29 476.28,906.12 476.60,905.89 476.92,905.90 477.24,905.84 477.56,905.97 477.88,906.40 478.20,906.49 478.52,905.96 478.84,906.01 479.16,906.67 479.48,906.69 479.80,906.20 480.12,906.19 480.44,905.86 480.76,905.79 481.08,905.99 481.40,905.91 481.72,905.59 482.04,905.49 482.36,905.41 482.68,905.36 483.00,905.86 483.32,905.90 483.64,905.50 483.96,905.56 484.28,905.65 484.60,905.71 484.92,905.86 485.24,905.83 485.56,905.76 485.88,905.68 486.20,906.18 486.52,906.12 486.84,906.05 487.16,906.00 487.48,905.92 487.80,905.89 488.12,905.98 488.44,905.98 488.76,905.51 489.08,905.56 489.40,905.94 489.72,906.06 490.04,905.78 490.36,905.98 490.68,906.70 491.00,906.75 491.32,906.59 491.64,906.46 491.96,906.22 492.28,906.06 492.60,905.51 492.92,905.44 493.24,905.26 493.56,905.22 493.88,905.96 494.20,905.99 494.52,905.70 494.84,905.76 495.16,905.87 495.48,905.92 495.80,906.19 496.12,906.28 496.44,905.77 496.76,905.92 497.08,906.51 497.40,906.50 497.72,906.22 498.04,906.15 498.36,906.38 498.68,906.34 499.00,906.02 499.32,906.01 499.64,905.77 499.96,905.78 500.28,906.49 500.60,906.55 500.92,905.99 501.24,905.98 501.56,906.35 501.88,906.29 502.20,906.33 502.52,906.29 502.84,905.70 503.16,905.62 503.48,905.95 503.80,905.88 504.12,905.56 504.44,905.54 504.76,905.40 505.08,905.43 505.40,905.47 505.72,905.55 506.04,906.31 506.36,906.42 506.68,905.98 507.00,906.03 507.32,906.16 507.64,906.10 507.96,905.99 508.28,905.88 508.60,905.37 508.92,905.31 509.24,905.95 509.56,905.96 509.88,905.97 510.20,905.98 510.52,906.11 510.84,906.12 511.16,905.67 511.48,905.71 511.80,905.64 512.12,905.75 512.44,906.04 512.76,906.22 513.08,906.68 513.40,906.70 513.72,906.58 514.04,906.52 514.36,906.22 514.68,906.15 515.00,906.20 515.32,906.14 515.64,905.72 515.96,905.64 516.28,906.29 516.60,906.32 516.92,905.97 517.24,905.99 517.56,906.02 517.88,906.02 518.20,906.28 518.52,906.32 518.84,905.90 519.16,906.00 519.48,906.54 519.80,906.51 520.12,906.07 520.44,905.89 520.76,906.12 521.08,905.99 521.40,905.31 521.72,905.35 522.04,905.58 522.36,905.65 522.68,906.06 523.00,906.13 523.32,906.02 523.64,905.99 523.96,905.82 524.28,905.74 524.60,905.86 524.92,905.82 525.24,905.49 525.56,905.50 525.88,905.70 526.20,905.68 526.52,905.28 526.84,905.30 527.16,906.06 527.48,906.13 527.80,905.72 528.12,905.79 528.44,906.38 528.76,906.45 529.08,906.24 529.40,906.25 529.72,906.26 530.04,906.17 530.36,906.06 530.68,905.94 531.00,905.40 531.32,905.35 531.64,905.94 531.96,905.98 532.28,905.60 532.60,905.64 532.92,906.17 533.24,906.15 533.56,906.05 533.88,906.03 534.20,905.96 534.52,906.01 534.84,906.20 535.16,906.25 535.48,905.91 535.80,905.88 536.12,906.01 536.44,905.91 536.76,906.05 537.08,905.97 537.40,905.24 537.72,905.25 538.04,905.25 538.36,905.36 538.68,905.76 539.00,905.85 539.32,905.99 539.64,905.99 539.96,905.63 540.28,905.59 540.60,905.62 540.92,905.59 541.24,906.11 541.56,906.04 541.88,905.54 542.20,905.47 542.52,905.21 542.84,905.23 543.16,905.31 543.48,905.38 543.80,905.79 544.12,905.84 544.44,905.55 544.76,905.61 545.08,905.92 545.40,905.96 545.72,906.07 546.04,906.13 546.36,906.09 546.68,906.10 547.00,906.12 547.32,906.04 547.64,906.26 547.96,906.19 548.28,905.40 548.60,905.39 548.92,906.23 549.24,906.31 549.56,905.75 549.88,905.86 550.20,905.81 550.52,905.87 550.84,906.56 551.16,906.57 551.48,906.38 551.80,906.35 552.12,906.28 552.44,906.23 552.76,905.88 553.08,905.82 553.40,906.27 553.72,906.24 554.04,905.82 554.36,905.86 554.68,906.30 555.00,906.36 555.32,905.95 555.64,905.93 555.96,906.21 556.28,906.18 556.60,906.25 556.92,906.25 557.24,905.97 557.56,905.92 557.88,905.95 558.20,905.87 558.52,905.47 558.84,905.52 559.16,906.14 559.48,906.23 559.80,906.32 560.12,906.29 560.44,905.71 560.76,905.59 561.08,905.87 561.40,905.89 561.72,906.15 562.04,906.29 562.36,905.86 562.68,905.95 563.00,906.61 563.32,906.55 563.64,906.50 563.96,906.41 564.28,905.59 564.60,905.53 564.92,905.64 565.24,905.53 565.56,905.28 565.88,905.22 566.20,905.39 566.52,905.52 566.84,905.58 567.16,905.81 567.48,906.35 567.80,906.42 568.12,906.21 568.44,906.18 568.76,906.19 569.08,906.13 569.40,906.21 569.72,906.12 570.04,905.94 570.36,905.85 570.68,906.17 571.00,906.17 571.32,906.16 571.64,906.24 571.96,905.78 572.28,905.87 572.60,906.04 572.92,906.09 573.24,905.94 573.56,905.95 573.88,906.23 574.20,906.18 574.52,905.87 574.84,905.68 575.16,906.00 575.48,905.82 575.80,905.81 576.12,905.83 576.44,906.10 576.76,906.22 577.08,905.64 577.40,905.73 577.72,905.65 578.04,905.71 578.36,906.41 578.68,906.43 579.00,906.12 579.32,906.12 579.64,906.60 579.96,906.61 580.28,906.11 580.60,906.06 580.92,905.93 581.24,905.88 581.56,905.64 581.88,905.64 582.20,906.46 582.52,906.51 582.84,906.19 583.16,906.27 583.48,906.28 583.80,906.33 584.12,906.35 584.44,906.31 584.76,906.54 585.08,906.46 585.40,906.43 585.72,906.38 586.04,906.05 586.36,906.05 586.68,905.79 587.00,905.79 587.32,905.98 587.64,905.97 587.96,906.42 588.28,906.44 588.60,906.07 588.92,906.14 589.24,906.43 589.56,906.46 589.88,906.39 590.20,906.38 590.52,906.22 590.84,906.08 591.16,906.01 591.48,905.86 591.80,905.46 592.12,905.40 592.44,905.62 592.76,905.57 593.08,905.84 593.40,905.87 593.72,905.24 594.04,905.33 594.36,905.68 594.68,905.76 595.00,906.27 595.32,906.30 595.64,906.42 595.96,906.43 596.28,905.55 596.60,905.50 596.92,905.96 597.24,905.85 597.56,905.74 597.88,905.67 598.20,905.83 598.52,905.90 598.84,905.74 599.16,905.96 599.48,905.85 599.80,905.97 600.12,906.17 600.44,906.16 600.76,906.50 601.08,906.45 601.40,906.41 601.72,906.36 602.04,905.84 602.36,905.78 602.68,906.12 603.00,906.07 603.32,906.04 603.64,906.03 603.96,906.05 604.28,906.08 604.60,905.57 604.92,905.64 605.24,906.10 605.56,906.18 605.88,906.13 606.20,906.16 606.52,906.40 606.84,906.34 607.16,906.02 607.48,905.92 607.80,905.65 608.12,905.54 608.44,905.89 608.76,905.74 609.08,905.29 609.40,905.27 609.72,905.81 610.04,906.01 610.36,905.81 610.68,906.02 611.00,906.36 611.32,906.41 611.64,906.67 611.96,906.66 612.28,906.01 612.60,905.96 612.92,906.44 613.24,906.32 613.56,905.60 613.88,905.50 614.20,906.22 614.52,906.20 614.84,905.39 615.16,905.43 615.48,906.11 615.80,906.18 616.12,905.94 616.44,906.03 616.76,905.95 617.08,906.00 617.40,906.22 617.72,906.16 618.04,906.11 618.36,905.93 618.68,905.68 619.00,905.56 619.32,905.28 619.64,905.35 619.96,905.83 620.28,905.94 620.60,905.81 620.92,905.83 621.24,906.41 621.56,906.38 621.88,905.84 622.20,905.86 622.52,905.94 622.84,905.93 623.16,905.69 623.48,905.62 623.80,906.22 624.12,906.17 624.44,905.54 624.76,905.52 625.08,905.79 625.40,905.77 625.72,905.97 626.04,906.07 626.36,905.82 626.68,905.96 627.00,906.39 627.32,906.43 627.64,905.97 627.96,905.90 628.28,905.68 628.60,905.64 628.92,905.58 629.24,905.62 629.56,906.04 629.88,906.06 630.20,906.41 630.52,906.37 630.84,905.77 631.16,905.81 631.48,906.08 631.80,906.14 632.12,906.45 632.44,906.44 632.76,905.97 633.08,905.95 633.40,905.85 633.72,905.87 634.04,906.18 634.36,906.13 634.68,905.98 635.00,905.91 635.32,906.30 635.64,906.25 635.96,906.17 636.28,906.15 636.60,905.55 636.92,905.57 637.24,905.94 637.56,906.04 637.88,906.01 638.20,906.10 638.52,905.83 638.84,905.89 639.16,906.31 639.48,906.33 639.80,906.74 640.12,906.68 640.44,906.04 640.76,905.94 641.08,906.10 641.40,906.02 641.72,906.09 642.04,906.08 642.36,905.51 642.68,905.54 643.00,906.37 643.32,906.40 643.64,905.64 643.96,905.59 644.28,905.72 644.60,905.72 644.92,906.10 645.24,906.10 645.56,905.45 645.88,905.40 646.20,905.65 646.52,905.59 646.84,905.32 647.16,905.29 647.48,905.60 647.80,905.61 648.12,905.26 648.44,905.39 648.76,905.68 649.08,905.84 649.40,906.01 649.72,906.04 650.04,905.87 650.36,905.79 650.68,905.71 651.00,905.65 651.32,905.70 651.64,905.68 651.96,905.95 652.28,905.93 652.60,905.56 652.92,905.49 653.24,906.00 653.56,905.91 653.88,905.49 654.20,905.52" class="tr"/>
<path d="M54.00,1041.50 54.33,1041.52 54.65,1041.57 54.98,1041.66 55.31,1041.76 55.64,1041.89 55.96,1042.01 56.29,1042.14 56.62,1042.24 56.95,1042.33 57.27,1042.38 57.60,1042.40 57.94,1042.44 58.28,1042.54 58.62,1042.71 58.96,1042.92 59.30,1043.15 59.64,1043.38 59.98,1043.59 60.32,1043.76 60.66,1043.86 61.00,1043.90 61.34,1043.78 61.68,1043.42 62.02,1042.85 62.37,1042.10 62.71,1041.23 63.05,1040.30 63.39,1039.37 63.73,1038.50 64.07,1037.75 64.42,1037.18 64.76,1036.82 65.10,1036.70 65.44,1037.01 65.78,1037.91 66.12,1039.35 66.45,1041.26 66.79,1043.51 67.13,1045.98 67.47,1048.52 67.81,1050.99 68.15,1053.24 68.48,1055.15 68.82,1056.59 69.16,1057.49 69.50,1057.80 69.83,1057.49 70.17,1056.55 70.50,1055.03 70.83,1052.97 71.17,1050.42 71.50,1047.47 71.83,1044.21 72.17,1040.74 72.50,1037.15 72.83,1033.56 73.17,1030.09 73.50,1026.83 73.83,1023.88 74.17,1021.33 74.50,1019.27 74.83,1017.75 75.17,1016.81 75.50,1016.50 75.83,1017.09 76.16,1018.83 76.49,1021.67 76.83,1025.48 77.16,1030.12 77.49,1035.42 77.82,1041.17 78.15,1047.15 78.48,1053.13 78.81,1058.88 79.14,1064.18 79.47,1068.82 79.81,1072.63 80.14,1075.47 80.47,1077.21 80.80,1077.80 81.13,1077.19 81.46,1075.39 81.79,1072.46 82.12,1068.50 82.45,1063.63 82.78,1058.04 83.11,1051.91 83.44,1045.44 83.76,1038.86 84.09,1032.39 84.42,1026.26 84.75,1020.67 85.08,1015.80 85.41,1011.84 85.74,1008.91 86.07,1007.11 86.40,1006.50 86.73,1007.03 87.07,1008.61 87.40,1011.20 87.73,1014.70 88.07,1019.02 88.40,1024.02 88.73,1029.56 89.07,1035.46 89.40,1041.55 89.73,1047.64 90.07,1053.54 90.40,1059.07 90.73,1064.08 91.07,1068.40 91.40,1071.90 91.73,1074.49 92.07,1076.07 92.40,1076.60 92.74,1076.10 93.08,1074.62 93.42,1072.21 93.76,1068.94 94.09,1064.90 94.43,1060.22 94.77,1055.05 95.11,1049.54 95.45,1043.85 95.79,1038.16 96.13,1032.65 96.47,1027.47 96.81,1022.80 97.14,1018.76 97.48,1015.49 97.82,1013.08 98.16,1011.60 98.50,1011.10 98.84,1011.64 99.17,1013.23 99.51,1015.83 99.84,1019.33 100.18,1023.64 100.51,1028.59 100.85,1034.02 101.18,1039.74 101.52,1045.56 101.85,1051.28 102.19,1056.71 102.52,1061.66 102.86,1065.97 103.19,1069.47 103.53,1072.07 103.86,1073.66 104.20,1074.20 104.55,1073.62 104.90,1071.89 105.25,1069.08 105.60,1065.30 105.95,1060.69 106.30,1055.43 106.65,1049.73 107.00,1043.80 107.35,1037.87 107.70,1032.17 108.05,1026.91 108.40,1022.30 108.75,1018.52 109.10,1015.71 109.45,1013.98 109.80,1013.40 110.14,1013.90 110.48,1015.39 110.82,1017.81 111.16,1021.09 111.51,1025.10 111.85,1029.72 112.19,1034.79 112.53,1040.13 112.87,1045.57 113.21,1050.91 113.55,1055.98 113.89,1060.60 114.24,1064.61 114.58,1067.89 114.92,1070.31 115.26,1071.80 115.60,1072.30 115.94,1071.82 116.28,1070.38 116.62,1068.05 116.96,1064.89 117.31,1061.01 117.65,1056.56 117.99,1051.67 118.33,1046.52 118.67,1041.28 119.01,1036.13 119.35,1031.24 119.69,1026.79 120.04,1022.91 120.38,1019.75 120.72,1017.42 121.06,1015.98 121.40,1015.50 121.74,1015.97 122.07,1017.38 122.41,1019.66 122.74,1022.76 123.08,1026.55 123.41,1030.91 123.75,1035.69 124.08,1040.73 124.42,1045.87 124.75,1050.91 125.09,1055.69 125.42,1060.05 125.76,1063.84 126.09,1066.94 126.43,1069.22 126.76,1070.63 127.10,1071.10 127.45,1070.64 127.79,1069.26 128.14,1067.02 128.49,1063.99 128.84,1060.27 129.18,1056.00 129.53,1051.31 129.88,1046.36 130.22,1041.34 130.57,1036.39 130.92,1031.70 131.26,1027.43 131.61,1023.71 131.96,1020.68 132.31,1018.44 132.65,1017.06 133.00,1016.60 133.34,1017.01 133.68,1018.24 134.02,1020.25 134.36,1022.98 134.69,1026.33 135.03,1030.22 135.37,1034.53 135.71,1039.12 136.05,1043.85 136.39,1048.58 136.73,1053.17 137.07,1057.47 137.41,1061.37 137.74,1064.72 138.08,1067.45 138.42,1069.46 138.76,1070.69 139.10,1071.10 139.45,1070.57 139.80,1069.01 140.15,1066.47 140.50,1063.05 140.85,1058.88 141.20,1054.12 141.55,1048.96 141.90,1043.60 142.25,1038.24 142.60,1033.08 142.95,1028.32 143.30,1024.15 143.65,1020.73 144.00,1018.19 144.35,1016.63 144.70,1016.10 145.04,1016.57 145.38,1017.97 145.72,1020.24 146.06,1023.32 146.41,1027.09 146.75,1031.43 147.09,1036.18 147.43,1041.20 147.77,1046.30 148.11,1051.32 148.45,1056.07 148.79,1060.41 149.14,1064.18 149.48,1067.26 149.82,1069.53 150.16,1070.93 150.50,1071.40 150.84,1070.92 151.17,1069.49 151.51,1067.17 151.84,1064.03 152.18,1060.17 152.51,1055.74 152.85,1050.88 153.18,1045.76 153.52,1040.54 153.85,1035.42 154.19,1030.56 154.52,1026.13 154.86,1022.27 155.19,1019.13 155.53,1016.81 155.86,1015.38 156.20,1014.90 156.54,1015.33 156.89,1016.62 157.23,1018.73 157.58,1021.59 157.92,1025.12 158.27,1029.20 158.61,1033.72 158.96,1038.53 159.30,1043.50 159.64,1048.47 159.99,1053.28 160.33,1057.80 160.68,1061.88 161.02,1065.41 161.37,1068.27 161.71,1070.38 162.06,1071.67 162.40,1072.10 162.74,1071.54 163.08,1069.89 163.41,1067.21 163.75,1063.61 164.09,1059.21 164.43,1054.20 164.76,1048.76 165.10,1043.10 165.44,1037.44 165.78,1032.00 166.11,1026.99 166.45,1022.59 166.79,1018.99 167.12,1016.31 167.46,1014.66 167.80,1014.10 168.14,1014.55 168.48,1015.88 168.82,1018.05 169.16,1020.99 169.49,1024.62 169.83,1028.83 170.17,1033.48 170.51,1038.44 170.85,1043.55 171.19,1048.66 171.53,1053.62 171.87,1058.28 172.21,1062.48 172.54,1066.11 172.88,1069.05 173.22,1071.22 173.56,1072.55 173.90,1073.00 174.25,1072.42 174.60,1070.71 174.95,1067.94 175.30,1064.20 175.65,1059.64 176.00,1054.45 176.35,1048.81 176.70,1042.95 177.05,1037.09 177.40,1031.45 177.75,1026.26 178.10,1021.70 178.45,1017.96 178.80,1015.19 179.15,1013.48 179.50,1012.90 179.84,1013.35 180.18,1014.69 180.52,1016.88 180.86,1019.85 181.19,1023.51 181.53,1027.75 181.87,1032.44 182.21,1037.44 182.55,1042.60 182.89,1047.76 183.23,1052.76 183.57,1057.45 183.91,1061.69 184.24,1065.35 184.58,1068.32 184.92,1070.51 185.26,1071.85 185.60,1072.30 185.94,1071.79 186.27,1070.27 186.61,1067.80 186.94,1064.46 187.28,1060.36 187.61,1055.64 187.95,1050.47 188.28,1045.02 188.62,1039.48 188.95,1034.03 189.29,1028.86 189.62,1024.14 189.96,1020.04 190.29,1016.70 190.63,1014.23 190.96,1012.71 191.30,1012.20 191.64,1012.71 191.98,1014.22 192.32,1016.69 192.66,1020.02 193.01,1024.10 193.35,1028.80 193.69,1033.95 194.03,1039.39 194.37,1044.91 194.71,1050.35 195.05,1055.50 195.39,1060.20 195.74,1064.28 196.08,1067.61 196.42,1070.08 196.76,1071.59 197.10,1072.10 197.44,1071.54 197.78,1069.87 198.11,1067.16 198.45,1063.52 198.79,1059.08 199.12,1054.01 199.46,1048.52 199.80,1042.80 200.14,1037.08 200.47,1031.59 200.81,1026.52 201.15,1022.08 201.49,1018.44 201.82,1015.73 202.16,1014.06 202.50,1013.50 202.84,1013.90 203.18,1015.07 203.52,1016.97 203.86,1019.55 204.21,1022.72 204.55,1026.36 204.89,1030.35 205.23,1034.56 205.57,1038.84 205.91,1043.05 206.25,1047.04 206.59,1050.68 206.94,1053.85 207.28,1056.43 207.62,1058.33 207.96,1059.50 208.30,1059.90 208.63,1059.63 208.96,1058.83 209.29,1057.54 209.62,1055.80 209.96,1053.68 210.29,1051.26 210.62,1048.63 210.95,1045.90 211.28,1043.17 211.61,1040.54 211.94,1038.12 212.28,1036.00 212.61,1034.26 212.94,1032.97 213.27,1032.17 213.60,1031.90 213.92,1032.15 214.25,1032.88 214.57,1034.05 214.89,1035.59 215.22,1037.42 215.54,1039.42 215.86,1041.48 216.18,1043.48 216.51,1045.31 216.83,1046.85 217.15,1048.02 217.48,1048.75 217.80,1049.00 218.15,1048.75 218.49,1048.04 218.84,1046.91 219.18,1045.46 219.53,1043.81 219.87,1042.09 220.22,1040.44 220.56,1038.99 220.91,1037.86 221.25,1037.15 221.60,1036.90 221.93,1037.01 222.27,1037.32 222.60,1037.83 222.93,1038.53 223.27,1039.38 223.60,1040.38 223.93,1041.47 224.27,1042.64 224.60,1043.85 224.93,1045.06 225.27,1046.23 225.60,1047.33 225.93,1048.32 226.27,1049.17 226.60,1049.87 226.93,1050.38 227.27,1050.69 227.60,1050.80 227.94,1050.54 228.28,1049.79 228.62,1048.59 228.97,1047.03 229.31,1045.20 229.65,1043.25 229.99,1041.30 230.33,1039.48 230.67,1037.91 231.02,1036.71 231.36,1035.96 231.70,1035.70 232.03,1035.77 232.36,1035.96 232.69,1036.28 233.01,1036.70 233.34,1037.20 233.67,1037.76 234.00,1038.35 234.33,1038.94 234.66,1039.50 234.99,1040.00 235.31,1040.42 235.64,1040.74 235.97,1040.93 236.30,1041.00 236.64,1041.15 236.97,1041.60 237.31,1042.29 237.65,1043.19 237.98,1044.22 238.32,1045.28 238.65,1046.31 238.99,1047.21 239.33,1047.90 239.66,1048.35 240.00,1048.50 240.33,1048.39 240.66,1048.05 240.99,1047.52 241.31,1046.81 241.64,1045.95 241.97,1045.00 242.30,1044.00 242.63,1043.00 242.96,1042.05 243.29,1041.19 243.61,1040.48 243.94,1039.95 244.27,1039.61 244.60,1039.50 244.94,1039.51 245.27,1039.56 245.61,1039.62 245.95,1039.70 246.28,1039.80 246.62,1039.90 246.95,1040.00 247.29,1040.08 247.63,1040.14 247.96,1040.19 248.30,1040.20 248.63,1040.28 248.96,1040.52 249.29,1040.91 249.61,1041.42 249.94,1042.04 250.27,1042.73 250.60,1043.45 250.93,1044.17 251.26,1044.86 251.59,1045.48 251.91,1045.99 252.24,1046.38 252.57,1046.62 252.90,1046.70 253.23,1046.58 253.56,1046.22 253.89,1045.67 254.22,1044.97 254.55,1044.20 254.88,1043.43 255.21,1042.73 255.54,1042.18 255.87,1041.82 256.20,1041.70 256.53,1041.65 256.87,1041.53 257.20,1041.35 257.53,1041.17 257.87,1041.05 258.20,1041.00 258.53,1040.95 258.87,1040.82 259.20,1040.62 259.53,1040.38 259.87,1040.12 260.20,1039.88 260.53,1039.68 260.87,1039.55 261.20,1039.50 261.55,1039.63 261.89,1040.00 262.24,1040.59 262.58,1041.34 262.93,1042.20 263.27,1043.10 263.62,1043.96 263.96,1044.71 264.31,1045.30 264.65,1045.67 265.00,1045.80 265.35,1045.75 265.69,1045.61 266.04,1045.39 266.38,1045.09 266.73,1044.74 267.08,1044.35 267.42,1043.95 267.77,1043.56 268.12,1043.21 268.46,1042.91 268.81,1042.69 269.15,1042.55 269.50,1042.50 269.85,1042.45 270.20,1042.30 270.55,1042.06 270.90,1041.75 271.25,1041.39 271.60,1041.00 271.95,1040.61 272.30,1040.25 272.65,1039.94 273.00,1039.70 273.35,1039.55 273.70,1039.50 274.03,1039.62 274.36,1039.97 274.69,1040.51 275.02,1041.19 275.35,1041.95 275.68,1042.71 276.01,1043.39 276.34,1043.93 276.67,1044.28 277.00,1044.40 277.35,1044.38 277.69,1044.30 278.04,1044.19 278.38,1044.05 278.73,1043.89 279.07,1043.71 279.42,1043.55 279.76,1043.41 280.11,1043.30 280.45,1043.22 280.80,1043.20 281.15,1043.16 281.49,1043.03 281.84,1042.82 282.18,1042.55 282.53,1042.23 282.88,1041.88 283.22,1041.52 283.57,1041.17 283.92,1040.85 284.26,1040.58 284.61,1040.37 284.95,1040.24 285.30,1040.20 285.65,1040.28 285.99,1040.50 286.34,1040.86 286.68,1041.31 287.03,1041.83 287.37,1042.37 287.72,1042.89 288.06,1043.34 288.41,1043.70 288.75,1043.92 289.10,1044.00 289.45,1043.98 289.79,1043.91 290.14,1043.81 290.48,1043.68 290.83,1043.53 291.17,1043.37 291.52,1043.22 291.86,1043.09 292.21,1042.99 292.55,1042.92 292.90,1042.90 293.25,1042.86 293.59,1042.75 293.94,1042.57 294.28,1042.34 294.63,1042.09 294.97,1041.81 295.32,1041.56 295.66,1041.33 296.01,1041.15 296.35,1041.04 296.70,1041.00" class="st"/>
<path d="M414.20,1041.50 414.53,1041.52 414.85,1041.57 415.18,1041.66 415.51,1041.76 415.84,1041.89 416.16,1042.01 416.49,1042.14 416.82,1042.24 417.15,1042.33 417.47,1042.38 417.80,1042.40 418.14,1042.44 418.48,1042.54 418.82,1042.71 419.16,1042.92 419.50,1043.15 419.84,1043.38 420.18,1043.59 420.52,1043.76 420.86,1043.86 421.20,1043.90 421.54,1043.78 421.88,1043.42 422.22,1042.85 422.57,1042.10 422.91,1041.23 423.25,1040.30 423.59,1039.37 423.93,1038.50 424.27,1037.75 424.62,1037.18 424.96,1036.82 425.30,1036.70 425.64,1037.01 425.98,1037.91 426.32,1039.35 426.65,1041.26 426.99,1043.51 427.33,1045.98 427.67,1048.52 428.01,1050.99 428.35,1053.24 428.68,1055.15 429.02,1056.59 429.36,1057.49 429.70,1057.80 430.03,1057.49 430.37,1056.55 430.70,1055.03 431.03,1052.97 431.37,1050.42 431.70,1047.47 432.03,1044.21 432.37,1040.74 432.70,1037.15 433.03,1033.56 433.37,1030.09 433.70,1026.83 434.03,1023.88 434.37,1021.33 434.70,1019.27 435.03,1017.75 435.37,1016.81 435.70,1016.50 436.03,1017.09 436.36,1018.83 436.69,1021.67 437.02,1025.48 437.36,1030.12 437.69,1035.42 438.02,1041.17 438.35,1047.15 438.68,1053.13 439.01,1058.88 439.34,1064.18 439.68,1068.82 440.01,1072.63 440.34,1075.47 440.67,1077.21 441.00,1077.80 441.33,1077.19 441.66,1075.39 441.99,1072.46 442.32,1068.50 442.65,1063.63 442.98,1058.04 443.31,1051.91 443.64,1045.44 443.96,1038.86 444.29,1032.39 444.62,1026.26 444.95,1020.67 445.28,1015.80 445.61,1011.84 445.94,1008.91 446.27,1007.11 446.60,1006.50 446.93,1007.03 447.27,1008.61 447.60,1011.20 447.93,1014.70 448.27,1019.02 448.60,1024.02 448.93,1029.56 449.27,1035.46 449.60,1041.55 449.93,1047.64 450.27,1053.54 450.60,1059.07 450.93,1064.08 451.27,1068.40 451.60,1071.90 451.93,1074.49 452.27,1076.07 452.60,1076.60 452.94,1076.10 453.28,1074.62 453.62,1072.21 453.96,1068.94 454.29,1064.90 454.63,1060.22 454.97,1055.05 455.31,1049.54 455.65,1043.85 455.99,1038.16 456.33,1032.65 456.67,1027.47 457.01,1022.80 457.34,1018.76 457.68,1015.49 458.02,1013.08 458.36,1011.60 458.70,1011.10 459.04,1011.64 459.37,1013.23 459.71,1015.83 460.04,1019.33 460.38,1023.64 460.71,1028.59 461.05,1034.02 461.38,1039.74 461.72,1045.56 462.05,1051.28 462.39,1056.71 462.72,1061.66 463.06,1065.97 463.39,1069.47 463.73,1072.07 464.06,1073.66 464.40,1074.20 464.73,1073.68 465.06,1072.15 465.39,1069.65 465.72,1066.27 466.05,1062.12 466.38,1057.35 466.71,1052.12 467.04,1046.60 467.36,1041.00 467.69,1035.48 468.02,1030.25 468.35,1025.48 468.68,1021.33 469.01,1017.95 469.34,1015.45 469.67,1013.92 470.00,1013.40 470.34,1013.90 470.68,1015.39 471.02,1017.81 471.36,1021.09 471.71,1025.10 472.05,1029.72 472.39,1034.79 472.73,1040.13 473.07,1045.57 473.41,1050.91 473.75,1055.98 474.09,1060.60 474.44,1064.61 474.78,1067.89 475.12,1070.31 475.46,1071.80 475.80,1072.30 476.14,1071.82 476.48,1070.38 476.82,1068.05 477.16,1064.89 477.51,1061.01 477.85,1056.56 478.19,1051.67 478.53,1046.52 478.87,1041.28 479.21,1036.13 479.55,1031.24 479.89,1026.79 480.24,1022.91 480.58,1019.75 480.92,1017.42 481.26,1015.98 481.60,1015.50 481.94,1015.97 482.27,1017.38 482.61,1019.66 482.94,1022.76 483.28,1026.55 483.61,1030.91 483.95,1035.69 484.28,1040.73 484.62,1045.87 484.95,1050.91 485.29,1055.69 485.62,1060.05 485.96,1063.84 486.29,1066.94 486.63,1069.22 486.96,1070.63 487.30,1071.10 487.65,1070.64 487.99,1069.26 488.34,1067.02 488.69,1063.99 489.04,1060.27 489.38,1056.00 489.73,1051.31 490.08,1046.36 490.42,1041.34 490.77,1036.39 491.12,1031.70 491.46,1027.43 491.81,1023.71 492.16,1020.68 492.51,1018.44 492.85,1017.06 493.20,1016.60 493.54,1017.01 493.88,1018.24 494.22,1020.25 494.56,1022.98 494.89,1026.33 495.23,1030.22 495.57,1034.53 495.91,1039.12 496.25,1043.85 496.59,1048.58 496.93,1053.17 497.27,1057.47 497.61,1061.37 497.94,1064.72 498.28,1067.45 498.62,1069.46 498.96,1070.69 499.30,1071.10 499.63,1070.63 499.96,1069.24 500.29,1066.98 500.62,1063.92 500.95,1060.17 501.28,1055.86 501.61,1051.13 501.94,1046.14 502.26,1041.06 502.59,1036.07 502.92,1031.34 503.25,1027.03 503.58,1023.28 503.91,1020.22 504.24,1017.96 504.57,1016.57 504.90,1016.10 505.24,1016.57 505.58,1017.97 505.92,1020.24 506.26,1023.32 506.61,1027.09 506.95,1031.43 507.29,1036.18 507.63,1041.20 507.97,1046.30 508.31,1051.32 508.65,1056.07 508.99,1060.41 509.34,1064.18 509.68,1067.26 510.02,1069.53 510.36,1070.93 510.70,1071.40 511.04,1070.92 511.37,1069.49 511.71,1067.17 512.04,1064.03 512.38,1060.17 512.71,1055.74 513.05,1050.88 513.38,1045.76 513.72,1040.54 514.05,1035.42 514.39,1030.56 514.72,1026.13 515.06,1022.27 515.39,1019.13 515.73,1016.81 516.06,1015.38 516.40,1014.90 516.74,1015.33 517.09,1016.62 517.43,1018.73 517.78,1021.59 518.12,1025.12 518.47,1029.20 518.81,1033.72 519.16,1038.53 519.50,1043.50 519.84,1048.47 520.19,1053.28 520.53,1057.80 520.88,1061.88 521.22,1065.41 521.57,1068.27 521.91,1070.38 522.26,1071.67 522.60,1072.10 522.94,1071.54 523.27,1069.89 523.61,1067.21 523.95,1063.61 524.29,1059.21 524.62,1054.20 524.96,1048.76 525.30,1043.10 525.64,1037.44 525.98,1032.00 526.31,1026.99 526.65,1022.59 526.99,1018.99 527.33,1016.31 527.66,1014.66 528.00,1014.10 528.34,1014.55 528.68,1015.88 529.02,1018.05 529.36,1020.99 529.69,1024.62 530.03,1028.83 530.37,1033.48 530.71,1038.44 531.05,1043.55 531.39,1048.66 531.73,1053.62 532.07,1058.28 532.41,1062.48 532.74,1066.11 533.08,1069.05 533.42,1071.22 533.76,1072.55 534.10,1073.00 534.43,1072.49 534.76,1070.97 535.09,1068.50 535.42,1065.16 535.75,1061.06 536.08,1056.34 536.41,1051.17 536.74,1045.72 537.06,1040.18 537.39,1034.73 537.72,1029.56 538.05,1024.84 538.38,1020.74 538.71,1017.40 539.04,1014.93 539.37,1013.41 539.70,1012.90 540.04,1013.35 540.38,1014.69 540.72,1016.88 541.06,1019.85 541.39,1023.51 541.73,1027.75 542.07,1032.44 542.41,1037.44 542.75,1042.60 543.09,1047.76 543.43,1052.76 543.77,1057.45 544.11,1061.69 544.44,1065.35 544.78,1068.32 545.12,1070.51 545.46,1071.85 545.80,1072.30 546.14,1071.79 546.47,1070.27 546.81,1067.80 547.14,1064.46 547.48,1060.36 547.81,1055.64 548.15,1050.47 548.48,1045.02 548.82,1039.48 549.15,1034.03 549.49,1028.86 549.82,1024.14 550.16,1020.04 550.49,1016.70 550.83,1014.23 551.16,1012.71 551.50,1012.20 551.84,1012.71 552.18,1014.22 552.52,1016.69 552.86,1020.02 553.21,1024.10 553.55,1028.80 553.89,1033.95 554.23,1039.39 554.57,1044.91 554.91,1050.35 555.25,1055.50 555.59,1060.20 555.94,1064.28 556.28,1067.61 556.62,1070.08 556.96,1071.59 557.30,1072.10 557.64,1071.54 557.97,1069.87 558.31,1067.16 558.65,1063.52 558.99,1059.08 559.33,1054.01 559.66,1048.52 560.00,1042.80 560.34,1037.08 560.67,1031.59 561.01,1026.52 561.35,1022.08 561.69,1018.44 562.03,1015.73 562.36,1014.06 562.70,1013.50 563.04,1013.90 563.38,1015.07 563.72,1016.97 564.06,1019.55 564.41,1022.72 564.75,1026.36 565.09,1030.35 565.43,1034.56 565.77,1038.84 566.11,1043.05 566.45,1047.04 566.79,1050.68 567.14,1053.85 567.48,1056.43 567.82,1058.33 568.16,1059.50 568.50,1059.90 568.83,1059.63 569.16,1058.83 569.49,1057.54 569.83,1055.80 570.16,1053.68 570.49,1051.26 570.82,1048.63 571.15,1045.90 571.48,1043.17 571.81,1040.54 572.14,1038.12 572.47,1036.00 572.81,1034.26 573.14,1032.97 573.47,1032.17 573.80,1031.90 574.12,1032.15 574.45,1032.88 574.77,1034.05 575.09,1035.59 575.42,1037.42 575.74,1039.42 576.06,1041.48 576.38,1043.48 576.71,1045.31 577.03,1046.85 577.35,1048.02 577.68,1048.75 578.00,1049.00 578.35,1048.75 578.69,1048.04 579.04,1046.91 579.38,1045.46 579.73,1043.81 580.07,1042.09 580.42,1040.44 580.76,1038.99 581.11,1037.86 581.45,1037.15 581.80,1036.90 582.13,1037.01 582.47,1037.32 582.80,1037.83 583.13,1038.53 583.47,1039.38 583.80,1040.38 584.13,1041.47 584.47,1042.64 584.80,1043.85 585.13,1045.06 585.47,1046.23 585.80,1047.33 586.13,1048.32 586.47,1049.17 586.80,1049.87 587.13,1050.38 587.47,1050.69 587.80,1050.80 588.14,1050.54 588.48,1049.79 588.82,1048.59 589.17,1047.03 589.51,1045.20 589.85,1043.25 590.19,1041.30 590.53,1039.48 590.88,1037.91 591.22,1036.71 591.56,1035.96 591.90,1035.70 592.23,1035.77 592.56,1035.96 592.89,1036.28 593.21,1036.70 593.54,1037.20 593.87,1037.76 594.20,1038.35 594.53,1038.94 594.86,1039.50 595.19,1040.00 595.51,1040.42 595.84,1040.74 596.17,1040.93 596.50,1041.00 596.84,1041.15 597.17,1041.60 597.51,1042.29 597.85,1043.19 598.18,1044.22 598.52,1045.28 598.85,1046.31 599.19,1047.21 599.53,1047.90 599.86,1048.35 600.20,1048.50 600.53,1048.39 600.86,1048.05 601.19,1047.52 601.51,1046.81 601.84,1045.95 602.17,1045.00 602.50,1044.00 602.83,1043.00 603.16,1042.05 603.49,1041.19 603.81,1040.48 604.14,1039.95 604.47,1039.61 604.80,1039.50 605.14,1039.51 605.47,1039.56 605.81,1039.62 606.15,1039.70 606.48,1039.80 606.82,1039.90 607.15,1040.00 607.49,1040.08 607.83,1040.14 608.16,1040.19 608.50,1040.20 608.83,1040.28 609.16,1040.52 609.49,1040.91 609.81,1041.42 610.14,1042.04 610.47,1042.73 610.80,1043.45 611.13,1044.17 611.46,1044.86 611.79,1045.48 612.11,1045.99 612.44,1046.38 612.77,1046.62 613.10,1046.70 613.43,1046.58 613.76,1046.22 614.09,1045.67 614.42,1044.97 614.75,1044.20 615.08,1043.43 615.41,1042.73 615.74,1042.18 616.07,1041.82 616.40,1041.70 616.73,1041.65 617.07,1041.53 617.40,1041.35 617.73,1041.17 618.07,1041.05 618.40,1041.00 618.73,1040.95 619.07,1040.82 619.40,1040.62 619.73,1040.38 620.07,1040.12 620.40,1039.88 620.73,1039.68 621.07,1039.55 621.40,1039.50 621.75,1039.63 622.09,1040.00 622.44,1040.59 622.78,1041.34 623.13,1042.20 623.47,1043.10 623.82,1043.96 624.16,1044.71 624.51,1045.30 624.85,1045.67 625.20,1045.80 625.55,1045.75 625.89,1045.61 626.24,1045.39 626.58,1045.09 626.93,1044.74 627.28,1044.35 627.62,1043.95 627.97,1043.56 628.32,1043.21 628.66,1042.91 629.01,1042.69 629.35,1042.55 629.70,1042.50 630.05,1042.45 630.40,1042.30 630.75,1042.06 631.10,1041.75 631.45,1041.39 631.80,1041.00 632.15,1040.61 632.50,1040.25 632.85,1039.94 633.20,1039.70 633.55,1039.55 633.90,1039.50 634.23,1039.62 634.56,1039.97 634.89,1040.51 635.22,1041.19 635.55,1041.95 635.88,1042.71 636.21,1043.39 636.54,1043.93 636.87,1044.28 637.20,1044.40 637.55,1044.38 637.89,1044.30 638.24,1044.19 638.58,1044.05 638.93,1043.89 639.27,1043.71 639.62,1043.55 639.96,1043.41 640.31,1043.30 640.65,1043.22 641.00,1043.20 641.35,1043.16 641.69,1043.03 642.04,1042.82 642.38,1042.55 642.73,1042.23 643.08,1041.88 643.42,1041.52 643.77,1041.17 644.12,1040.85 644.46,1040.58 644.81,1040.37 645.15,1040.24 645.50,1040.20 645.85,1040.28 646.19,1040.50 646.54,1040.86 646.88,1041.31 647.23,1041.83 647.57,1042.37 647.92,1042.89 648.26,1043.34 648.61,1043.70 648.95,1043.92 649.30,1044.00 649.65,1043.98 649.99,1043.91 650.34,1043.81 650.68,1043.68 651.03,1043.53 651.37,1043.37 651.72,1043.22 652.06,1043.09 652.41,1042.99 652.75,1042.92 653.10,1042.90 653.45,1042.86 653.79,1042.75 654.14,1042.57 654.48,1042.34 654.83,1042.09 655.17,1041.81 655.52,1041.56 655.86,1041.33 656.21,1041.15 656.55,1041.04 656.90,1041.00" class="st"/>
<text x="76" y="21.3" font-size="20.2" text-anchor="start" style="font-style:italic;" textLength="194.5" lengthAdjust="spacingAndGlyphs">Pygocentrus nattereri</text>
<text x="428.0" y="21.3" font-size="20.2" text-anchor="start" style="font-style:italic;" textLength="211" lengthAdjust="spacingAndGlyphs">Piaractus brachypomus</text>
<text x="243.9" y="70.9" font-size="16.8" text-anchor="start" style="" textLength="54.4" lengthAdjust="spacingAndGlyphs">112 dB</text>
<text x="597.6" y="71.7" font-size="16.8" text-anchor="start" style="" textLength="54.4" lengthAdjust="spacingAndGlyphs">112 dB</text>
<text x="243.9" y="211.8" font-size="16.8" text-anchor="start" style="" textLength="54.4" lengthAdjust="spacingAndGlyphs">106 dB</text>
<text x="597.6" y="211.2" font-size="16.8" text-anchor="start" style="" textLength="54.4" lengthAdjust="spacingAndGlyphs">106 dB</text>
<text x="243.9" y="345.7" font-size="16.8" text-anchor="start" style="" textLength="54.4" lengthAdjust="spacingAndGlyphs">100 dB</text>
<text x="597.6" y="346.2" font-size="16.8" text-anchor="start" style="" textLength="54.4" lengthAdjust="spacingAndGlyphs">100 dB</text>
<text x="253.7" y="481.6" font-size="16.8" text-anchor="start" style="" textLength="44.6" lengthAdjust="spacingAndGlyphs">94 dB</text>
<text x="607.4" y="482.3" font-size="16.8" text-anchor="start" style="" textLength="44.6" lengthAdjust="spacingAndGlyphs">94 dB</text>
<text x="253.7" y="614.7" font-size="16.8" text-anchor="start" style="" textLength="44.6" lengthAdjust="spacingAndGlyphs">88 dB</text>
<text x="607.4" y="615.6" font-size="16.8" text-anchor="start" style="" textLength="44.6" lengthAdjust="spacingAndGlyphs">88 dB</text>
<text x="253.7" y="746.5" font-size="16.8" text-anchor="start" style="" textLength="44.6" lengthAdjust="spacingAndGlyphs">82 dB</text>
<text x="607.4" y="746.6" font-size="16.8" text-anchor="start" style="" textLength="44.6" lengthAdjust="spacingAndGlyphs">82 dB</text>
<text x="160.0" y="881.7" font-size="16.8" text-anchor="start" style="" textLength="143.2" lengthAdjust="spacingAndGlyphs">Dead fish (112 dB)</text>
<text x="513.8" y="881.4" font-size="16.8" text-anchor="start" style="" textLength="142.6" lengthAdjust="spacingAndGlyphs">Dead fish (112 dB)</text>
<text x="115.6" y="1113.8" font-size="14.2" text-anchor="start" style="" textLength="15.9" lengthAdjust="spacingAndGlyphs">20</text>
<text x="185.0" y="1113.8" font-size="14.2" text-anchor="start" style="" textLength="15.9" lengthAdjust="spacingAndGlyphs">40</text>
<text x="255.1" y="1113.8" font-size="14.2" text-anchor="start" style="" textLength="15.9" lengthAdjust="spacingAndGlyphs">60</text>
<text x="129.2" y="1139.9" font-size="19.4" text-anchor="start" style="" textLength="89.6" lengthAdjust="spacingAndGlyphs">Time (ms)</text>
<text x="476.3" y="1113.8" font-size="14.2" text-anchor="start" style="" textLength="15.9" lengthAdjust="spacingAndGlyphs">20</text>
<text x="545.6" y="1113.8" font-size="14.2" text-anchor="start" style="" textLength="15.9" lengthAdjust="spacingAndGlyphs">40</text>
<text x="615.8" y="1113.8" font-size="14.2" text-anchor="start" style="" textLength="15.9" lengthAdjust="spacingAndGlyphs">60</text>
<text x="489.9" y="1139.9" font-size="19.4" text-anchor="start" style="" textLength="89.6" lengthAdjust="spacingAndGlyphs">Time (ms)</text>
<text transform="translate(20.9,662.6) rotate(-90)" x="0" y="0" font-size="19.4" textLength="172" lengthAdjust="spacingAndGlyphs">Relative amplitude</text>
<text transform="translate(386.1,666.4) rotate(-90)" x="0" y="0" font-size="19.4" textLength="172.3" lengthAdjust="spacingAndGlyphs">Relative amplitude</text>
</svg>
</body></html>
